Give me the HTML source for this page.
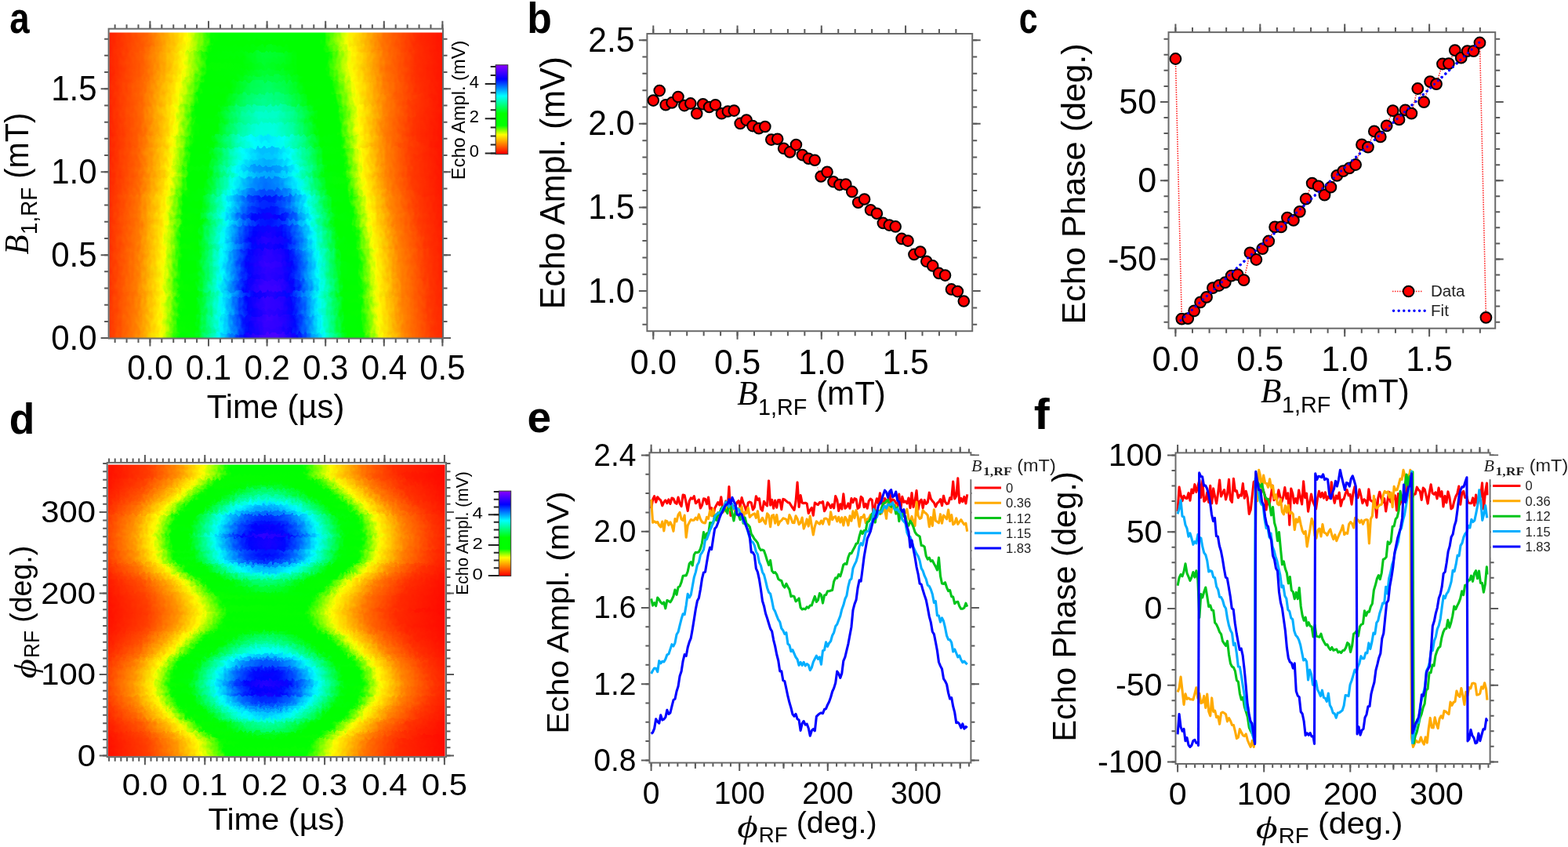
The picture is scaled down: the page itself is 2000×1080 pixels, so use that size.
<!DOCTYPE html><html><head><meta charset="utf-8"><title>Figure</title><style>html,body{margin:0;padding:0;background:#fff;overflow:hidden}svg{display:block}</style></head><body><svg width="2000" height="1080" viewBox="0 0 2000 1080"><defs><clipPath id="clA"><rect x="139.3" y="41.5" width="424.9" height="389.5"/></clipPath><filter id="jA" x="-5%" y="-5%" width="110%" height="110%" color-interpolation-filters="sRGB"><feTurbulence type="fractalNoise" baseFrequency="0.25 0.13" numOctaves="1" seed="3" result="n"/><feDisplacementMap in="SourceGraphic" in2="n" scale="11" xChannelSelector="R" yChannelSelector="G"/></filter><linearGradient id="g1" gradientUnits="userSpaceOnUse" x1="139.3" y1="0" x2="564.2" y2="0"><stop offset="-0.0017" stop-color="#ff3800"/><stop offset="0.0855" stop-color="#ff8900"/><stop offset="0.1552" stop-color="#f9ff00"/><stop offset="0.1987" stop-color="#1fff00"/><stop offset="0.2075" stop-color="#00ff00"/><stop offset="0.2597" stop-color="#00ff08"/><stop offset="0.3295" stop-color="#00faff"/><stop offset="0.3905" stop-color="#0025ff"/><stop offset="0.4079" stop-color="#0800ff"/><stop offset="0.4602" stop-color="#4700ff"/><stop offset="0.5037" stop-color="#4a00ff"/><stop offset="0.5560" stop-color="#0f00ff"/><stop offset="0.5647" stop-color="#0100ff"/><stop offset="0.6170" stop-color="#00a8ff"/><stop offset="0.6432" stop-color="#00fff6"/><stop offset="0.7129" stop-color="#00ff00"/><stop offset="0.7652" stop-color="#05ff00"/><stop offset="0.8088" stop-color="#e4ff00"/><stop offset="0.8175" stop-color="#fff900"/><stop offset="0.8872" stop-color="#ff8400"/><stop offset="0.9656" stop-color="#ff3b00"/><stop offset="1.0005" stop-color="#ff2900"/></linearGradient><linearGradient id="g2" gradientUnits="userSpaceOnUse" x1="139.3" y1="0" x2="564.2" y2="0"><stop offset="-0.0017" stop-color="#ff3600"/><stop offset="0.0855" stop-color="#ff8400"/><stop offset="0.1552" stop-color="#fff900"/><stop offset="0.1726" stop-color="#bdff00"/><stop offset="0.2075" stop-color="#08ff00"/><stop offset="0.2597" stop-color="#00ff00"/><stop offset="0.2772" stop-color="#00ff30"/><stop offset="0.3382" stop-color="#00f6ff"/><stop offset="0.3992" stop-color="#0030ff"/><stop offset="0.4166" stop-color="#0004ff"/><stop offset="0.4689" stop-color="#3200ff"/><stop offset="0.5125" stop-color="#2a00ff"/><stop offset="0.5473" stop-color="#0400ff"/><stop offset="0.5822" stop-color="#0056ff"/><stop offset="0.6345" stop-color="#00fff8"/><stop offset="0.7042" stop-color="#00ff02"/><stop offset="0.7565" stop-color="#00ff00"/><stop offset="0.7826" stop-color="#7eff00"/><stop offset="0.8088" stop-color="#f9ff00"/><stop offset="0.8872" stop-color="#ff7f00"/><stop offset="0.9743" stop-color="#ff3300"/><stop offset="1.0005" stop-color="#ff2700"/></linearGradient><linearGradient id="g3" gradientUnits="userSpaceOnUse" x1="139.3" y1="0" x2="564.2" y2="0"><stop offset="-0.0017" stop-color="#ff3600"/><stop offset="0.0767" stop-color="#ff7a00"/><stop offset="0.1465" stop-color="#ffe800"/><stop offset="0.1552" stop-color="#fffa00"/><stop offset="0.1726" stop-color="#baff00"/><stop offset="0.2075" stop-color="#05ff00"/><stop offset="0.2597" stop-color="#00ff00"/><stop offset="0.3295" stop-color="#00ffef"/><stop offset="0.3382" stop-color="#00f0ff"/><stop offset="0.3992" stop-color="#0028ff"/><stop offset="0.4166" stop-color="#0300ff"/><stop offset="0.4689" stop-color="#3700ff"/><stop offset="0.5125" stop-color="#2f00ff"/><stop offset="0.5560" stop-color="#0008ff"/><stop offset="0.6083" stop-color="#00a5ff"/><stop offset="0.6345" stop-color="#00fffb"/><stop offset="0.7042" stop-color="#00ff04"/><stop offset="0.7565" stop-color="#00ff00"/><stop offset="0.7739" stop-color="#50ff00"/><stop offset="0.8088" stop-color="#faff00"/><stop offset="0.8872" stop-color="#ff7e00"/><stop offset="0.9743" stop-color="#ff3300"/><stop offset="1.0005" stop-color="#ff2700"/></linearGradient><linearGradient id="g4" gradientUnits="userSpaceOnUse" x1="139.3" y1="0" x2="564.2" y2="0"><stop offset="-0.0017" stop-color="#ff3600"/><stop offset="0.0855" stop-color="#ff8400"/><stop offset="0.1552" stop-color="#fffa00"/><stop offset="0.1726" stop-color="#b9ff00"/><stop offset="0.2075" stop-color="#03ff00"/><stop offset="0.2597" stop-color="#00ff00"/><stop offset="0.3295" stop-color="#00fff2"/><stop offset="0.3469" stop-color="#00ccff"/><stop offset="0.4079" stop-color="#000bff"/><stop offset="0.4340" stop-color="#1e00ff"/><stop offset="0.4776" stop-color="#3e00ff"/><stop offset="0.5299" stop-color="#2200ff"/><stop offset="0.5560" stop-color="#0004ff"/><stop offset="0.6083" stop-color="#00a2ff"/><stop offset="0.6345" stop-color="#00fffd"/><stop offset="0.7042" stop-color="#00ff04"/><stop offset="0.7565" stop-color="#00ff00"/><stop offset="0.7739" stop-color="#51ff00"/><stop offset="0.8088" stop-color="#fbff00"/><stop offset="0.8785" stop-color="#ff8900"/><stop offset="0.9569" stop-color="#ff3d00"/><stop offset="1.0005" stop-color="#ff2600"/></linearGradient><linearGradient id="g5" gradientUnits="userSpaceOnUse" x1="139.3" y1="0" x2="564.2" y2="0"><stop offset="-0.0017" stop-color="#ff3500"/><stop offset="0.0855" stop-color="#ff8100"/><stop offset="0.1552" stop-color="#fff500"/><stop offset="0.1639" stop-color="#eeff00"/><stop offset="0.2075" stop-color="#13ff00"/><stop offset="0.2162" stop-color="#00ff00"/><stop offset="0.2597" stop-color="#00ff00"/><stop offset="0.2685" stop-color="#00ff0c"/><stop offset="0.3382" stop-color="#00fdff"/><stop offset="0.3992" stop-color="#0037ff"/><stop offset="0.4253" stop-color="#0500ff"/><stop offset="0.4776" stop-color="#2f00ff"/><stop offset="0.5212" stop-color="#1c00ff"/><stop offset="0.5473" stop-color="#0005ff"/><stop offset="0.5996" stop-color="#0099ff"/><stop offset="0.6258" stop-color="#00f3ff"/><stop offset="0.6519" stop-color="#00ffaf"/><stop offset="0.6955" stop-color="#00ff15"/><stop offset="0.7042" stop-color="#00ff00"/><stop offset="0.7565" stop-color="#04ff00"/><stop offset="0.8000" stop-color="#e2ff00"/><stop offset="0.8088" stop-color="#fffa00"/><stop offset="0.8785" stop-color="#ff8500"/><stop offset="0.9656" stop-color="#ff3600"/><stop offset="1.0005" stop-color="#ff2500"/></linearGradient><linearGradient id="g6" gradientUnits="userSpaceOnUse" x1="139.3" y1="0" x2="564.2" y2="0"><stop offset="-0.0017" stop-color="#ff3500"/><stop offset="0.0855" stop-color="#ff8200"/><stop offset="0.1552" stop-color="#fff700"/><stop offset="0.1639" stop-color="#e9ff00"/><stop offset="0.2075" stop-color="#0cff00"/><stop offset="0.2336" stop-color="#00ff00"/><stop offset="0.2597" stop-color="#00ff00"/><stop offset="0.2772" stop-color="#00ff31"/><stop offset="0.3295" stop-color="#00ffec"/><stop offset="0.3382" stop-color="#00f3ff"/><stop offset="0.3992" stop-color="#002aff"/><stop offset="0.4166" stop-color="#0100ff"/><stop offset="0.4689" stop-color="#3500ff"/><stop offset="0.5125" stop-color="#2c00ff"/><stop offset="0.5473" stop-color="#0400ff"/><stop offset="0.5822" stop-color="#0057ff"/><stop offset="0.6258" stop-color="#00ebff"/><stop offset="0.6345" stop-color="#00fff3"/><stop offset="0.7042" stop-color="#00ff00"/><stop offset="0.7565" stop-color="#00ff00"/><stop offset="0.8000" stop-color="#e0ff00"/><stop offset="0.8088" stop-color="#fffb00"/><stop offset="0.8785" stop-color="#ff8500"/><stop offset="0.9569" stop-color="#ff3b00"/><stop offset="1.0005" stop-color="#ff2500"/></linearGradient><linearGradient id="g7" gradientUnits="userSpaceOnUse" x1="139.3" y1="0" x2="564.2" y2="0"><stop offset="-0.0017" stop-color="#ff3400"/><stop offset="0.0855" stop-color="#ff8100"/><stop offset="0.1552" stop-color="#fff600"/><stop offset="0.1639" stop-color="#ecff00"/><stop offset="0.2075" stop-color="#0eff00"/><stop offset="0.2249" stop-color="#00ff00"/><stop offset="0.2597" stop-color="#00ff00"/><stop offset="0.2772" stop-color="#00ff30"/><stop offset="0.3295" stop-color="#00ffeb"/><stop offset="0.3382" stop-color="#00f4ff"/><stop offset="0.3992" stop-color="#002bff"/><stop offset="0.4166" stop-color="#0100ff"/><stop offset="0.4689" stop-color="#3500ff"/><stop offset="0.5125" stop-color="#2b00ff"/><stop offset="0.5473" stop-color="#0300ff"/><stop offset="0.5909" stop-color="#0075ff"/><stop offset="0.6258" stop-color="#00eeff"/><stop offset="0.6345" stop-color="#00fff0"/><stop offset="0.7042" stop-color="#00ff00"/><stop offset="0.7565" stop-color="#05ff00"/><stop offset="0.8000" stop-color="#e4ff00"/><stop offset="0.8088" stop-color="#fff900"/><stop offset="0.8785" stop-color="#ff8300"/><stop offset="0.9656" stop-color="#ff3500"/><stop offset="1.0005" stop-color="#ff2500"/></linearGradient><linearGradient id="g8" gradientUnits="userSpaceOnUse" x1="139.3" y1="0" x2="564.2" y2="0"><stop offset="-0.0017" stop-color="#ff3300"/><stop offset="0.0855" stop-color="#ff7d00"/><stop offset="0.1639" stop-color="#fcff00"/><stop offset="0.2162" stop-color="#00ff00"/><stop offset="0.2685" stop-color="#00ff01"/><stop offset="0.3382" stop-color="#00fff3"/><stop offset="0.3556" stop-color="#00cfff"/><stop offset="0.4079" stop-color="#0031ff"/><stop offset="0.4340" stop-color="#0400ff"/><stop offset="0.4863" stop-color="#2200ff"/><stop offset="0.5386" stop-color="#0008ff"/><stop offset="0.5909" stop-color="#0092ff"/><stop offset="0.6258" stop-color="#00fff7"/><stop offset="0.6955" stop-color="#00ff04"/><stop offset="0.7478" stop-color="#00ff00"/><stop offset="0.7565" stop-color="#1eff00"/><stop offset="0.8000" stop-color="#f7ff00"/><stop offset="0.8785" stop-color="#ff7f00"/><stop offset="0.9656" stop-color="#ff3300"/><stop offset="1.0005" stop-color="#ff2300"/></linearGradient><linearGradient id="g9" gradientUnits="userSpaceOnUse" x1="139.3" y1="0" x2="564.2" y2="0"><stop offset="-0.0017" stop-color="#ff3400"/><stop offset="0.0855" stop-color="#ff8200"/><stop offset="0.1552" stop-color="#fff700"/><stop offset="0.1639" stop-color="#e8ff00"/><stop offset="0.2075" stop-color="#07ff00"/><stop offset="0.2597" stop-color="#00ff00"/><stop offset="0.3295" stop-color="#00fff6"/><stop offset="0.4079" stop-color="#0004ff"/><stop offset="0.4602" stop-color="#3b00ff"/><stop offset="0.5037" stop-color="#3b00ff"/><stop offset="0.5560" stop-color="#0003ff"/><stop offset="0.6083" stop-color="#00a6ff"/><stop offset="0.6345" stop-color="#00fff8"/><stop offset="0.7042" stop-color="#00ff00"/><stop offset="0.7565" stop-color="#04ff00"/><stop offset="0.8000" stop-color="#e5ff00"/><stop offset="0.8088" stop-color="#fff900"/><stop offset="0.8785" stop-color="#ff8200"/><stop offset="0.9656" stop-color="#ff3400"/><stop offset="1.0005" stop-color="#ff2400"/></linearGradient><linearGradient id="g10" gradientUnits="userSpaceOnUse" x1="139.3" y1="0" x2="564.2" y2="0"><stop offset="-0.0017" stop-color="#ff3300"/><stop offset="0.0855" stop-color="#ff8000"/><stop offset="0.1552" stop-color="#fff500"/><stop offset="0.1639" stop-color="#edff00"/><stop offset="0.2075" stop-color="#0eff00"/><stop offset="0.2249" stop-color="#00ff00"/><stop offset="0.2597" stop-color="#00ff00"/><stop offset="0.2772" stop-color="#00ff32"/><stop offset="0.3295" stop-color="#00fff0"/><stop offset="0.3469" stop-color="#00ceff"/><stop offset="0.3992" stop-color="#0023ff"/><stop offset="0.4166" stop-color="#0600ff"/><stop offset="0.4689" stop-color="#3a00ff"/><stop offset="0.5125" stop-color="#3000ff"/><stop offset="0.5473" stop-color="#0600ff"/><stop offset="0.5735" stop-color="#003cff"/><stop offset="0.6258" stop-color="#00eeff"/><stop offset="0.6345" stop-color="#00fff0"/><stop offset="0.6955" stop-color="#00ff13"/><stop offset="0.7042" stop-color="#00ff00"/><stop offset="0.7478" stop-color="#00ff00"/><stop offset="0.7565" stop-color="#0eff00"/><stop offset="0.8000" stop-color="#edff00"/><stop offset="0.8088" stop-color="#fff500"/><stop offset="0.8785" stop-color="#ff8000"/><stop offset="0.9656" stop-color="#ff3300"/><stop offset="1.0005" stop-color="#ff2300"/></linearGradient><linearGradient id="g11" gradientUnits="userSpaceOnUse" x1="139.3" y1="0" x2="564.2" y2="0"><stop offset="-0.0017" stop-color="#ff3200"/><stop offset="0.0855" stop-color="#ff7d00"/><stop offset="0.1639" stop-color="#f9ff00"/><stop offset="0.2075" stop-color="#1eff00"/><stop offset="0.2162" stop-color="#00ff00"/><stop offset="0.2685" stop-color="#00ff08"/><stop offset="0.3382" stop-color="#00ffff"/><stop offset="0.3992" stop-color="#0038ff"/><stop offset="0.4253" stop-color="#0500ff"/><stop offset="0.4776" stop-color="#2d00ff"/><stop offset="0.5212" stop-color="#1900ff"/><stop offset="0.5386" stop-color="#0400ff"/><stop offset="0.5735" stop-color="#0052ff"/><stop offset="0.6258" stop-color="#00fffd"/><stop offset="0.6955" stop-color="#00ff06"/><stop offset="0.7478" stop-color="#00ff00"/><stop offset="0.7652" stop-color="#50ff00"/><stop offset="0.8000" stop-color="#fbff00"/><stop offset="0.8698" stop-color="#ff8800"/><stop offset="0.9482" stop-color="#ff3c00"/><stop offset="1.0005" stop-color="#ff2200"/></linearGradient><linearGradient id="g12" gradientUnits="userSpaceOnUse" x1="139.3" y1="0" x2="564.2" y2="0"><stop offset="-0.0017" stop-color="#ff3200"/><stop offset="0.0855" stop-color="#ff7d00"/><stop offset="0.1639" stop-color="#f7ff00"/><stop offset="0.2075" stop-color="#1bff00"/><stop offset="0.2162" stop-color="#00ff00"/><stop offset="0.2597" stop-color="#00ff00"/><stop offset="0.2685" stop-color="#00ff0a"/><stop offset="0.3382" stop-color="#00faff"/><stop offset="0.3992" stop-color="#0031ff"/><stop offset="0.4166" stop-color="#0005ff"/><stop offset="0.4689" stop-color="#3000ff"/><stop offset="0.5125" stop-color="#2500ff"/><stop offset="0.5473" stop-color="#0007ff"/><stop offset="0.5996" stop-color="#00a1ff"/><stop offset="0.6258" stop-color="#00feff"/><stop offset="0.6955" stop-color="#00ff07"/><stop offset="0.7478" stop-color="#00ff00"/><stop offset="0.7652" stop-color="#50ff00"/><stop offset="0.8000" stop-color="#fcff00"/><stop offset="0.8698" stop-color="#ff8700"/><stop offset="0.9569" stop-color="#ff3600"/><stop offset="1.0005" stop-color="#ff2200"/></linearGradient><linearGradient id="g13" gradientUnits="userSpaceOnUse" x1="139.3" y1="0" x2="564.2" y2="0"><stop offset="-0.0017" stop-color="#ff3200"/><stop offset="0.0855" stop-color="#ff7e00"/><stop offset="0.1552" stop-color="#fff200"/><stop offset="0.1639" stop-color="#f4ff00"/><stop offset="0.2075" stop-color="#16ff00"/><stop offset="0.2162" stop-color="#00ff00"/><stop offset="0.2597" stop-color="#00ff00"/><stop offset="0.2772" stop-color="#00ff2e"/><stop offset="0.3295" stop-color="#00ffec"/><stop offset="0.3382" stop-color="#00f2ff"/><stop offset="0.3992" stop-color="#0027ff"/><stop offset="0.4166" stop-color="#0400ff"/><stop offset="0.4689" stop-color="#3700ff"/><stop offset="0.5125" stop-color="#2c00ff"/><stop offset="0.5473" stop-color="#0200ff"/><stop offset="0.5909" stop-color="#007cff"/><stop offset="0.6258" stop-color="#00f8ff"/><stop offset="0.6955" stop-color="#00ff0a"/><stop offset="0.7303" stop-color="#00ff00"/><stop offset="0.7478" stop-color="#00ff00"/><stop offset="0.7565" stop-color="#1eff00"/><stop offset="0.8000" stop-color="#fbff00"/><stop offset="0.8698" stop-color="#ff8700"/><stop offset="0.9482" stop-color="#ff3b00"/><stop offset="1.0005" stop-color="#ff2200"/></linearGradient><linearGradient id="g14" gradientUnits="userSpaceOnUse" x1="139.3" y1="0" x2="564.2" y2="0"><stop offset="-0.0017" stop-color="#ff3100"/><stop offset="0.0855" stop-color="#ff7c00"/><stop offset="0.1552" stop-color="#ffee00"/><stop offset="0.1639" stop-color="#fcff00"/><stop offset="0.2075" stop-color="#20ff00"/><stop offset="0.2162" stop-color="#00ff00"/><stop offset="0.2685" stop-color="#00ff08"/><stop offset="0.3382" stop-color="#00fdff"/><stop offset="0.3992" stop-color="#0033ff"/><stop offset="0.4166" stop-color="#0007ff"/><stop offset="0.4689" stop-color="#2e00ff"/><stop offset="0.5125" stop-color="#2200ff"/><stop offset="0.5386" stop-color="#0500ff"/><stop offset="0.5647" stop-color="#0039ff"/><stop offset="0.6258" stop-color="#00fffa"/><stop offset="0.6955" stop-color="#00ff00"/><stop offset="0.7478" stop-color="#00ff00"/><stop offset="0.7913" stop-color="#deff00"/><stop offset="0.8000" stop-color="#fffc00"/><stop offset="0.8698" stop-color="#ff8400"/><stop offset="0.9482" stop-color="#ff3a00"/><stop offset="1.0005" stop-color="#ff2100"/></linearGradient><linearGradient id="g15" gradientUnits="userSpaceOnUse" x1="139.3" y1="0" x2="564.2" y2="0"><stop offset="-0.0017" stop-color="#ff3100"/><stop offset="0.0855" stop-color="#ff7b00"/><stop offset="0.1552" stop-color="#ffec00"/><stop offset="0.1639" stop-color="#ffff00"/><stop offset="0.2162" stop-color="#00ff00"/><stop offset="0.2685" stop-color="#00ff05"/><stop offset="0.3382" stop-color="#00fffe"/><stop offset="0.3992" stop-color="#0037ff"/><stop offset="0.4253" stop-color="#0500ff"/><stop offset="0.4776" stop-color="#2d00ff"/><stop offset="0.5212" stop-color="#1600ff"/><stop offset="0.5386" stop-color="#0100ff"/><stop offset="0.5909" stop-color="#0090ff"/><stop offset="0.6170" stop-color="#00ebff"/><stop offset="0.6258" stop-color="#00fff3"/><stop offset="0.6955" stop-color="#00ff00"/><stop offset="0.7478" stop-color="#04ff00"/><stop offset="0.7913" stop-color="#e6ff00"/><stop offset="0.8000" stop-color="#fff800"/><stop offset="0.8698" stop-color="#ff8200"/><stop offset="0.9569" stop-color="#ff3400"/><stop offset="1.0005" stop-color="#ff2000"/></linearGradient><linearGradient id="g16" gradientUnits="userSpaceOnUse" x1="139.3" y1="0" x2="564.2" y2="0"><stop offset="-0.0017" stop-color="#ff2f00"/><stop offset="0.0855" stop-color="#ff7700"/><stop offset="0.1552" stop-color="#ffe600"/><stop offset="0.1639" stop-color="#fff800"/><stop offset="0.1726" stop-color="#e6ff00"/><stop offset="0.2162" stop-color="#07ff00"/><stop offset="0.2685" stop-color="#00ff00"/><stop offset="0.2946" stop-color="#00ff51"/><stop offset="0.3469" stop-color="#00f7ff"/><stop offset="0.4079" stop-color="#003dff"/><stop offset="0.4340" stop-color="#0006ff"/><stop offset="0.4863" stop-color="#1600ff"/><stop offset="0.5212" stop-color="#0000ff"/><stop offset="0.5647" stop-color="#0060ff"/><stop offset="0.6170" stop-color="#00fff6"/><stop offset="0.6868" stop-color="#00ff04"/><stop offset="0.7390" stop-color="#00ff00"/><stop offset="0.7565" stop-color="#51ff00"/><stop offset="0.7913" stop-color="#fcff00"/><stop offset="0.8610" stop-color="#ff8700"/><stop offset="0.9482" stop-color="#ff3600"/><stop offset="1.0005" stop-color="#ff1f00"/></linearGradient><linearGradient id="g17" gradientUnits="userSpaceOnUse" x1="139.3" y1="0" x2="564.2" y2="0"><stop offset="-0.0017" stop-color="#ff3000"/><stop offset="0.0855" stop-color="#ff7900"/><stop offset="0.1552" stop-color="#ffeb00"/><stop offset="0.1639" stop-color="#fffd00"/><stop offset="0.2162" stop-color="#00ff00"/><stop offset="0.2685" stop-color="#00ff03"/><stop offset="0.3382" stop-color="#00fffb"/><stop offset="0.3992" stop-color="#003cff"/><stop offset="0.4253" stop-color="#0100ff"/><stop offset="0.4689" stop-color="#2500ff"/><stop offset="0.5125" stop-color="#1600ff"/><stop offset="0.5386" stop-color="#000cff"/><stop offset="0.5909" stop-color="#00a0ff"/><stop offset="0.6170" stop-color="#00fbff"/><stop offset="0.6868" stop-color="#00ff0b"/><stop offset="0.7129" stop-color="#00ff00"/><stop offset="0.7390" stop-color="#00ff00"/><stop offset="0.7478" stop-color="#1cff00"/><stop offset="0.7913" stop-color="#f9ff00"/><stop offset="0.8698" stop-color="#ff7c00"/><stop offset="0.9569" stop-color="#ff3100"/><stop offset="1.0005" stop-color="#ff1f00"/></linearGradient><linearGradient id="g18" gradientUnits="userSpaceOnUse" x1="139.3" y1="0" x2="564.2" y2="0"><stop offset="-0.0017" stop-color="#ff2f00"/><stop offset="0.0855" stop-color="#ff7700"/><stop offset="0.1552" stop-color="#ffe700"/><stop offset="0.1639" stop-color="#fff900"/><stop offset="0.1813" stop-color="#baff00"/><stop offset="0.2162" stop-color="#02ff00"/><stop offset="0.2685" stop-color="#00ff00"/><stop offset="0.3382" stop-color="#00ffef"/><stop offset="0.3469" stop-color="#00f1ff"/><stop offset="0.3992" stop-color="#004cff"/><stop offset="0.4340" stop-color="#0000ff"/><stop offset="0.4776" stop-color="#1a00ff"/><stop offset="0.5212" stop-color="#0000ff"/><stop offset="0.5647" stop-color="#0063ff"/><stop offset="0.6083" stop-color="#00efff"/><stop offset="0.6170" stop-color="#00fff1"/><stop offset="0.6868" stop-color="#00ff00"/><stop offset="0.7390" stop-color="#00ff00"/><stop offset="0.7826" stop-color="#e1ff00"/><stop offset="0.7913" stop-color="#fffa00"/><stop offset="0.8610" stop-color="#ff8300"/><stop offset="0.9482" stop-color="#ff3400"/><stop offset="1.0005" stop-color="#ff1e00"/></linearGradient><linearGradient id="g19" gradientUnits="userSpaceOnUse" x1="139.3" y1="0" x2="564.2" y2="0"><stop offset="-0.0017" stop-color="#ff2f00"/><stop offset="0.0855" stop-color="#ff7600"/><stop offset="0.1552" stop-color="#ffe500"/><stop offset="0.1639" stop-color="#fff700"/><stop offset="0.1726" stop-color="#e7ff00"/><stop offset="0.2162" stop-color="#07ff00"/><stop offset="0.2685" stop-color="#00ff00"/><stop offset="0.3120" stop-color="#00ff90"/><stop offset="0.3469" stop-color="#00f6ff"/><stop offset="0.3992" stop-color="#0053ff"/><stop offset="0.4340" stop-color="#0008ff"/><stop offset="0.4863" stop-color="#1200ff"/><stop offset="0.5212" stop-color="#000aff"/><stop offset="0.5647" stop-color="#006eff"/><stop offset="0.6083" stop-color="#00faff"/><stop offset="0.6780" stop-color="#00ff11"/><stop offset="0.6868" stop-color="#00ff00"/><stop offset="0.7303" stop-color="#00ff00"/><stop offset="0.7390" stop-color="#0eff00"/><stop offset="0.7826" stop-color="#edff00"/><stop offset="0.7913" stop-color="#fff500"/><stop offset="0.8610" stop-color="#ff8000"/><stop offset="0.9395" stop-color="#ff3800"/><stop offset="1.0005" stop-color="#ff1d00"/></linearGradient><linearGradient id="g20" gradientUnits="userSpaceOnUse" x1="139.3" y1="0" x2="564.2" y2="0"><stop offset="-0.0017" stop-color="#ff2d00"/><stop offset="0.0855" stop-color="#ff7200"/><stop offset="0.1552" stop-color="#ffdd00"/><stop offset="0.1726" stop-color="#fbff00"/><stop offset="0.2249" stop-color="#00ff00"/><stop offset="0.2772" stop-color="#00ff01"/><stop offset="0.3469" stop-color="#00ffeb"/><stop offset="0.3556" stop-color="#00f7ff"/><stop offset="0.4079" stop-color="#0063ff"/><stop offset="0.4515" stop-color="#001aff"/><stop offset="0.4863" stop-color="#000fff"/><stop offset="0.5299" stop-color="#0044ff"/><stop offset="0.5822" stop-color="#00c9ff"/><stop offset="0.5996" stop-color="#00fffd"/><stop offset="0.6693" stop-color="#00ff14"/><stop offset="0.6780" stop-color="#00ff00"/><stop offset="0.7303" stop-color="#02ff00"/><stop offset="0.7739" stop-color="#e1ff00"/><stop offset="0.7826" stop-color="#fffb00"/><stop offset="0.8523" stop-color="#ff8400"/><stop offset="0.9308" stop-color="#ff3a00"/><stop offset="1.0005" stop-color="#ff1b00"/></linearGradient><linearGradient id="g21" gradientUnits="userSpaceOnUse" x1="139.3" y1="0" x2="564.2" y2="0"><stop offset="-0.0017" stop-color="#ff2e00"/><stop offset="0.0855" stop-color="#ff7600"/><stop offset="0.1552" stop-color="#ffe500"/><stop offset="0.1639" stop-color="#fff800"/><stop offset="0.1726" stop-color="#e7ff00"/><stop offset="0.2162" stop-color="#05ff00"/><stop offset="0.2685" stop-color="#00ff00"/><stop offset="0.3382" stop-color="#00ffed"/><stop offset="0.3469" stop-color="#00f3ff"/><stop offset="0.3992" stop-color="#0050ff"/><stop offset="0.4340" stop-color="#0006ff"/><stop offset="0.4863" stop-color="#1100ff"/><stop offset="0.5125" stop-color="#0000ff"/><stop offset="0.5560" stop-color="#005dff"/><stop offset="0.6083" stop-color="#00fffb"/><stop offset="0.6780" stop-color="#00ff07"/><stop offset="0.7303" stop-color="#00ff00"/><stop offset="0.7390" stop-color="#20ff00"/><stop offset="0.7826" stop-color="#fcff00"/><stop offset="0.8523" stop-color="#ff8600"/><stop offset="0.9308" stop-color="#ff3b00"/><stop offset="1.0005" stop-color="#ff1b00"/></linearGradient><linearGradient id="g22" gradientUnits="userSpaceOnUse" x1="139.3" y1="0" x2="564.2" y2="0"><stop offset="-0.0017" stop-color="#ff2d00"/><stop offset="0.0855" stop-color="#ff7200"/><stop offset="0.1552" stop-color="#ffde00"/><stop offset="0.1726" stop-color="#f8ff00"/><stop offset="0.2162" stop-color="#1dff00"/><stop offset="0.2249" stop-color="#00ff00"/><stop offset="0.2772" stop-color="#00ff05"/><stop offset="0.3469" stop-color="#00fff1"/><stop offset="0.3643" stop-color="#00d4ff"/><stop offset="0.4166" stop-color="#0048ff"/><stop offset="0.4602" stop-color="#000dff"/><stop offset="0.4950" stop-color="#0011ff"/><stop offset="0.5386" stop-color="#0056ff"/><stop offset="0.5996" stop-color="#00fff9"/><stop offset="0.6693" stop-color="#00ff0d"/><stop offset="0.6868" stop-color="#00ff00"/><stop offset="0.7216" stop-color="#00ff00"/><stop offset="0.7303" stop-color="#10ff00"/><stop offset="0.7739" stop-color="#edff00"/><stop offset="0.7826" stop-color="#fff500"/><stop offset="0.8523" stop-color="#ff8000"/><stop offset="0.9308" stop-color="#ff3800"/><stop offset="1.0005" stop-color="#ff1a00"/></linearGradient><linearGradient id="g23" gradientUnits="userSpaceOnUse" x1="139.3" y1="0" x2="564.2" y2="0"><stop offset="-0.0017" stop-color="#ff2c00"/><stop offset="0.0855" stop-color="#ff7000"/><stop offset="0.1552" stop-color="#ffda00"/><stop offset="0.1726" stop-color="#fffd00"/><stop offset="0.2249" stop-color="#00ff00"/><stop offset="0.2772" stop-color="#00ff00"/><stop offset="0.3556" stop-color="#00fffe"/><stop offset="0.4079" stop-color="#006fff"/><stop offset="0.4515" stop-color="#002aff"/><stop offset="0.4863" stop-color="#0023ff"/><stop offset="0.5299" stop-color="#005bff"/><stop offset="0.5822" stop-color="#00e2ff"/><stop offset="0.5909" stop-color="#00feff"/><stop offset="0.6693" stop-color="#00ff00"/><stop offset="0.7216" stop-color="#00ff00"/><stop offset="0.7739" stop-color="#feff00"/><stop offset="0.8436" stop-color="#ff8600"/><stop offset="0.9220" stop-color="#ff3b00"/><stop offset="1.0005" stop-color="#ff1900"/></linearGradient><linearGradient id="g24" gradientUnits="userSpaceOnUse" x1="139.3" y1="0" x2="564.2" y2="0"><stop offset="-0.0017" stop-color="#ff2c00"/><stop offset="0.0855" stop-color="#ff7100"/><stop offset="0.1552" stop-color="#ffdd00"/><stop offset="0.1726" stop-color="#f9ff00"/><stop offset="0.2162" stop-color="#1dff00"/><stop offset="0.2249" stop-color="#00ff00"/><stop offset="0.2772" stop-color="#00ff06"/><stop offset="0.3469" stop-color="#00fff2"/><stop offset="0.3643" stop-color="#00d4ff"/><stop offset="0.4166" stop-color="#004aff"/><stop offset="0.4602" stop-color="#0011ff"/><stop offset="0.4950" stop-color="#0017ff"/><stop offset="0.5386" stop-color="#005cff"/><stop offset="0.5909" stop-color="#00efff"/><stop offset="0.5996" stop-color="#00fff3"/><stop offset="0.6693" stop-color="#00ff07"/><stop offset="0.7216" stop-color="#00ff00"/><stop offset="0.7303" stop-color="#1cff00"/><stop offset="0.7739" stop-color="#f8ff00"/><stop offset="0.8436" stop-color="#ff8700"/><stop offset="0.9220" stop-color="#ff3b00"/><stop offset="1.0005" stop-color="#ff1900"/></linearGradient><linearGradient id="g25" gradientUnits="userSpaceOnUse" x1="139.3" y1="0" x2="564.2" y2="0"><stop offset="-0.0017" stop-color="#ff2a00"/><stop offset="0.0855" stop-color="#ff6b00"/><stop offset="0.1552" stop-color="#ffd300"/><stop offset="0.1726" stop-color="#fff600"/><stop offset="0.1813" stop-color="#ecff00"/><stop offset="0.2249" stop-color="#10ff00"/><stop offset="0.2423" stop-color="#00ff00"/><stop offset="0.2859" stop-color="#00ff08"/><stop offset="0.3643" stop-color="#00feff"/><stop offset="0.4166" stop-color="#007cff"/><stop offset="0.4602" stop-color="#0047ff"/><stop offset="0.4950" stop-color="#004dff"/><stop offset="0.5386" stop-color="#008eff"/><stop offset="0.5822" stop-color="#00ffff"/><stop offset="0.6606" stop-color="#00ff07"/><stop offset="0.7129" stop-color="#00ff00"/><stop offset="0.7216" stop-color="#13ff00"/><stop offset="0.7652" stop-color="#eeff00"/><stop offset="0.7739" stop-color="#fff500"/><stop offset="0.8436" stop-color="#ff8000"/><stop offset="0.9308" stop-color="#ff3200"/><stop offset="1.0005" stop-color="#ff1700"/></linearGradient><linearGradient id="g26" gradientUnits="userSpaceOnUse" x1="139.3" y1="0" x2="564.2" y2="0"><stop offset="-0.0017" stop-color="#ff2800"/><stop offset="0.0855" stop-color="#ff6700"/><stop offset="0.1552" stop-color="#ffcb00"/><stop offset="0.1813" stop-color="#fffe00"/><stop offset="0.2336" stop-color="#00ff00"/><stop offset="0.2859" stop-color="#00ff00"/><stop offset="0.3033" stop-color="#00ff2a"/><stop offset="0.3730" stop-color="#00fff8"/><stop offset="0.4253" stop-color="#0094ff"/><stop offset="0.4689" stop-color="#006eff"/><stop offset="0.5125" stop-color="#0089ff"/><stop offset="0.5647" stop-color="#00f2ff"/><stop offset="0.5822" stop-color="#00ffde"/><stop offset="0.6519" stop-color="#00ff0b"/><stop offset="0.6780" stop-color="#00ff00"/><stop offset="0.7129" stop-color="#03ff00"/><stop offset="0.7565" stop-color="#dfff00"/><stop offset="0.7652" stop-color="#fffc00"/><stop offset="0.8349" stop-color="#ff8500"/><stop offset="0.9133" stop-color="#ff3a00"/><stop offset="1.0005" stop-color="#ff1600"/></linearGradient><linearGradient id="g27" gradientUnits="userSpaceOnUse" x1="139.3" y1="0" x2="564.2" y2="0"><stop offset="-0.0017" stop-color="#ff2700"/><stop offset="0.0855" stop-color="#ff6600"/><stop offset="0.1552" stop-color="#ffca00"/><stop offset="0.1813" stop-color="#fffd00"/><stop offset="0.2249" stop-color="#2eff00"/><stop offset="0.2336" stop-color="#00ff00"/><stop offset="0.2859" stop-color="#00ff00"/><stop offset="0.3033" stop-color="#00ff29"/><stop offset="0.3730" stop-color="#00fff6"/><stop offset="0.4340" stop-color="#008cff"/><stop offset="0.4689" stop-color="#0073ff"/><stop offset="0.5125" stop-color="#008eff"/><stop offset="0.5647" stop-color="#00f6ff"/><stop offset="0.5909" stop-color="#00ffc3"/><stop offset="0.6519" stop-color="#00ff08"/><stop offset="0.7129" stop-color="#08ff00"/><stop offset="0.7565" stop-color="#e3ff00"/><stop offset="0.7652" stop-color="#fffa00"/><stop offset="0.8349" stop-color="#ff8300"/><stop offset="0.9133" stop-color="#ff3900"/><stop offset="1.0005" stop-color="#ff1600"/></linearGradient><linearGradient id="g28" gradientUnits="userSpaceOnUse" x1="139.3" y1="0" x2="564.2" y2="0"><stop offset="-0.0017" stop-color="#ff2500"/><stop offset="0.0855" stop-color="#ff6100"/><stop offset="0.1552" stop-color="#ffc000"/><stop offset="0.1900" stop-color="#f5ff00"/><stop offset="0.2423" stop-color="#00ff00"/><stop offset="0.2946" stop-color="#00ff00"/><stop offset="0.3207" stop-color="#00ff42"/><stop offset="0.3905" stop-color="#00fff9"/><stop offset="0.4427" stop-color="#00b1ff"/><stop offset="0.4863" stop-color="#00a6ff"/><stop offset="0.5299" stop-color="#00d7ff"/><stop offset="0.5560" stop-color="#00fff4"/><stop offset="0.6345" stop-color="#00ff21"/><stop offset="0.6432" stop-color="#00ff07"/><stop offset="0.7042" stop-color="#00ff00"/><stop offset="0.7565" stop-color="#ffff00"/><stop offset="0.8262" stop-color="#ff8700"/><stop offset="0.9046" stop-color="#ff3b00"/><stop offset="1.0005" stop-color="#ff1500"/></linearGradient><linearGradient id="g29" gradientUnits="userSpaceOnUse" x1="139.3" y1="0" x2="564.2" y2="0"><stop offset="-0.0017" stop-color="#ff2600"/><stop offset="0.0855" stop-color="#ff6400"/><stop offset="0.1552" stop-color="#ffc700"/><stop offset="0.1813" stop-color="#fffb00"/><stop offset="0.2075" stop-color="#8eff00"/><stop offset="0.2336" stop-color="#06ff00"/><stop offset="0.2946" stop-color="#00ff08"/><stop offset="0.3730" stop-color="#00ffec"/><stop offset="0.3817" stop-color="#00fdff"/><stop offset="0.4340" stop-color="#009bff"/><stop offset="0.4776" stop-color="#0084ff"/><stop offset="0.5212" stop-color="#00aaff"/><stop offset="0.5647" stop-color="#00fffb"/><stop offset="0.6432" stop-color="#00ff1b"/><stop offset="0.6519" stop-color="#00ff00"/><stop offset="0.7042" stop-color="#00ff00"/><stop offset="0.7129" stop-color="#13ff00"/><stop offset="0.7565" stop-color="#ecff00"/><stop offset="0.7652" stop-color="#fff600"/><stop offset="0.8349" stop-color="#ff8000"/><stop offset="0.9133" stop-color="#ff3700"/><stop offset="1.0005" stop-color="#ff1500"/></linearGradient><linearGradient id="g30" gradientUnits="userSpaceOnUse" x1="139.3" y1="0" x2="564.2" y2="0"><stop offset="-0.0017" stop-color="#ff2500"/><stop offset="0.0855" stop-color="#ff6100"/><stop offset="0.1552" stop-color="#ffc100"/><stop offset="0.1813" stop-color="#fff300"/><stop offset="0.1900" stop-color="#f3ff00"/><stop offset="0.2336" stop-color="#20ff00"/><stop offset="0.2423" stop-color="#00ff00"/><stop offset="0.2946" stop-color="#00ff00"/><stop offset="0.3207" stop-color="#00ff41"/><stop offset="0.3905" stop-color="#00fff5"/><stop offset="0.4340" stop-color="#00c1ff"/><stop offset="0.4776" stop-color="#00abff"/><stop offset="0.5212" stop-color="#00cfff"/><stop offset="0.5473" stop-color="#00fdff"/><stop offset="0.5996" stop-color="#00ff84"/><stop offset="0.6432" stop-color="#00ff06"/><stop offset="0.7042" stop-color="#00ff00"/><stop offset="0.7565" stop-color="#feff00"/><stop offset="0.8262" stop-color="#ff8700"/><stop offset="0.9046" stop-color="#ff3b00"/><stop offset="1.0005" stop-color="#ff1400"/></linearGradient><linearGradient id="g31" gradientUnits="userSpaceOnUse" x1="139.3" y1="0" x2="564.2" y2="0"><stop offset="-0.0017" stop-color="#ff2400"/><stop offset="0.0855" stop-color="#ff6000"/><stop offset="0.1639" stop-color="#ffcd00"/><stop offset="0.1900" stop-color="#fcff00"/><stop offset="0.2423" stop-color="#00ff00"/><stop offset="0.3033" stop-color="#00ff03"/><stop offset="0.3817" stop-color="#00ffd1"/><stop offset="0.4079" stop-color="#00fbff"/><stop offset="0.4515" stop-color="#00c7ff"/><stop offset="0.4950" stop-color="#00c8ff"/><stop offset="0.5386" stop-color="#00ffff"/><stop offset="0.5996" stop-color="#00ff76"/><stop offset="0.6432" stop-color="#00ff00"/><stop offset="0.6955" stop-color="#00ff00"/><stop offset="0.7042" stop-color="#0cff00"/><stop offset="0.7478" stop-color="#e0ff00"/><stop offset="0.7565" stop-color="#fffb00"/><stop offset="0.8262" stop-color="#ff8500"/><stop offset="0.9133" stop-color="#ff3400"/><stop offset="1.0005" stop-color="#ff1400"/></linearGradient><linearGradient id="g32" gradientUnits="userSpaceOnUse" x1="139.3" y1="0" x2="564.2" y2="0"><stop offset="-0.0017" stop-color="#ff2500"/><stop offset="0.0855" stop-color="#ff6100"/><stop offset="0.1639" stop-color="#ffd000"/><stop offset="0.1900" stop-color="#f4ff00"/><stop offset="0.2423" stop-color="#00ff00"/><stop offset="0.2946" stop-color="#00ff00"/><stop offset="0.3120" stop-color="#00ff23"/><stop offset="0.3817" stop-color="#00ffd9"/><stop offset="0.3992" stop-color="#00fffc"/><stop offset="0.4515" stop-color="#00bfff"/><stop offset="0.4950" stop-color="#00c0ff"/><stop offset="0.5473" stop-color="#00fff7"/><stop offset="0.6083" stop-color="#00ff66"/><stop offset="0.6432" stop-color="#00ff03"/><stop offset="0.7042" stop-color="#02ff00"/><stop offset="0.7565" stop-color="#ffff00"/><stop offset="0.8262" stop-color="#ff8700"/><stop offset="0.9046" stop-color="#ff3b00"/><stop offset="1.0005" stop-color="#ff1400"/></linearGradient><linearGradient id="g33" gradientUnits="userSpaceOnUse" x1="139.3" y1="0" x2="564.2" y2="0"><stop offset="-0.0017" stop-color="#ff2300"/><stop offset="0.0855" stop-color="#ff5c00"/><stop offset="0.1639" stop-color="#ffc600"/><stop offset="0.1900" stop-color="#fff700"/><stop offset="0.1987" stop-color="#eaff00"/><stop offset="0.2423" stop-color="#1eff00"/><stop offset="0.2510" stop-color="#00ff00"/><stop offset="0.3120" stop-color="#00ff02"/><stop offset="0.3817" stop-color="#00ffad"/><stop offset="0.4340" stop-color="#00fffc"/><stop offset="0.4863" stop-color="#00f2ff"/><stop offset="0.5212" stop-color="#00fff0"/><stop offset="0.5735" stop-color="#00ff95"/><stop offset="0.6345" stop-color="#00ff00"/><stop offset="0.6955" stop-color="#00ff00"/><stop offset="0.7478" stop-color="#f5ff00"/><stop offset="0.7913" stop-color="#ffb300"/><stop offset="0.8698" stop-color="#ff5200"/><stop offset="0.9743" stop-color="#ff1a00"/><stop offset="1.0005" stop-color="#ff1400"/></linearGradient><linearGradient id="g34" gradientUnits="userSpaceOnUse" x1="139.3" y1="0" x2="564.2" y2="0"><stop offset="-0.0017" stop-color="#ff2400"/><stop offset="0.0855" stop-color="#ff5e00"/><stop offset="0.1639" stop-color="#ffca00"/><stop offset="0.1900" stop-color="#fffc00"/><stop offset="0.2336" stop-color="#3cff00"/><stop offset="0.2423" stop-color="#10ff00"/><stop offset="0.2597" stop-color="#00ff00"/><stop offset="0.3033" stop-color="#00ff00"/><stop offset="0.3295" stop-color="#00ff3b"/><stop offset="0.3905" stop-color="#00ffc9"/><stop offset="0.4253" stop-color="#00fffe"/><stop offset="0.4689" stop-color="#00e3ff"/><stop offset="0.5212" stop-color="#00fffb"/><stop offset="0.5735" stop-color="#00ffa0"/><stop offset="0.6345" stop-color="#00ff05"/><stop offset="0.6955" stop-color="#00ff00"/><stop offset="0.7129" stop-color="#48ff00"/><stop offset="0.7478" stop-color="#ebff00"/><stop offset="0.7565" stop-color="#fff700"/><stop offset="0.8349" stop-color="#ff7800"/><stop offset="0.9220" stop-color="#ff2f00"/><stop offset="1.0005" stop-color="#ff1400"/></linearGradient><linearGradient id="g35" gradientUnits="userSpaceOnUse" x1="139.3" y1="0" x2="564.2" y2="0"><stop offset="-0.0017" stop-color="#ff2200"/><stop offset="0.0942" stop-color="#ff6200"/><stop offset="0.1726" stop-color="#ffcf00"/><stop offset="0.1987" stop-color="#fcff00"/><stop offset="0.2510" stop-color="#0dff00"/><stop offset="0.2685" stop-color="#00ff00"/><stop offset="0.3207" stop-color="#00ff03"/><stop offset="0.3905" stop-color="#00ff9e"/><stop offset="0.4427" stop-color="#00ffde"/><stop offset="0.4950" stop-color="#00ffe2"/><stop offset="0.5473" stop-color="#00ffa8"/><stop offset="0.6258" stop-color="#00ff00"/><stop offset="0.6868" stop-color="#00ff00"/><stop offset="0.6955" stop-color="#19ff00"/><stop offset="0.7390" stop-color="#e2ff00"/><stop offset="0.7478" stop-color="#fffc00"/><stop offset="0.8262" stop-color="#ff7d00"/><stop offset="0.9133" stop-color="#ff3100"/><stop offset="1.0005" stop-color="#ff1300"/></linearGradient><linearGradient id="g36" gradientUnits="userSpaceOnUse" x1="139.3" y1="0" x2="564.2" y2="0"><stop offset="-0.0017" stop-color="#ff2300"/><stop offset="0.0942" stop-color="#ff6400"/><stop offset="0.1726" stop-color="#ffd100"/><stop offset="0.1987" stop-color="#f8ff00"/><stop offset="0.2510" stop-color="#0bff00"/><stop offset="0.2772" stop-color="#00ff00"/><stop offset="0.3207" stop-color="#00ff02"/><stop offset="0.3905" stop-color="#00ff9a"/><stop offset="0.4427" stop-color="#00ffda"/><stop offset="0.4950" stop-color="#00ffde"/><stop offset="0.5473" stop-color="#00ffa5"/><stop offset="0.6083" stop-color="#00ff28"/><stop offset="0.6258" stop-color="#00ff00"/><stop offset="0.6868" stop-color="#00ff00"/><stop offset="0.6955" stop-color="#14ff00"/><stop offset="0.7478" stop-color="#ffff00"/><stop offset="0.8262" stop-color="#ff7f00"/><stop offset="0.9133" stop-color="#ff3300"/><stop offset="1.0005" stop-color="#ff1400"/></linearGradient><linearGradient id="g37" gradientUnits="userSpaceOnUse" x1="139.3" y1="0" x2="564.2" y2="0"><stop offset="-0.0017" stop-color="#ff2300"/><stop offset="0.0942" stop-color="#ff6300"/><stop offset="0.1726" stop-color="#ffcd00"/><stop offset="0.1987" stop-color="#fffd00"/><stop offset="0.2597" stop-color="#00ff00"/><stop offset="0.3295" stop-color="#00ff04"/><stop offset="0.3992" stop-color="#00ff8f"/><stop offset="0.4515" stop-color="#00ffc3"/><stop offset="0.5037" stop-color="#00ffbd"/><stop offset="0.5560" stop-color="#00ff7f"/><stop offset="0.6170" stop-color="#00ff01"/><stop offset="0.6868" stop-color="#00ff00"/><stop offset="0.7390" stop-color="#e6ff00"/><stop offset="0.7478" stop-color="#fffa00"/><stop offset="0.8262" stop-color="#ff7e00"/><stop offset="0.9133" stop-color="#ff3300"/><stop offset="1.0005" stop-color="#ff1400"/></linearGradient><linearGradient id="g38" gradientUnits="userSpaceOnUse" x1="139.3" y1="0" x2="564.2" y2="0"><stop offset="-0.0017" stop-color="#ff2500"/><stop offset="0.0942" stop-color="#ff6600"/><stop offset="0.1726" stop-color="#ffd200"/><stop offset="0.1987" stop-color="#f8ff00"/><stop offset="0.2510" stop-color="#11ff00"/><stop offset="0.2597" stop-color="#00ff00"/><stop offset="0.3207" stop-color="#00ff00"/><stop offset="0.3992" stop-color="#00ff97"/><stop offset="0.4515" stop-color="#00ffcb"/><stop offset="0.5037" stop-color="#00ffc6"/><stop offset="0.5560" stop-color="#00ff88"/><stop offset="0.6258" stop-color="#00ff00"/><stop offset="0.6868" stop-color="#00ff00"/><stop offset="0.6955" stop-color="#16ff00"/><stop offset="0.7478" stop-color="#fbff00"/><stop offset="0.8349" stop-color="#ff7900"/><stop offset="0.9220" stop-color="#ff3100"/><stop offset="1.0005" stop-color="#ff1500"/></linearGradient><linearGradient id="g39" gradientUnits="userSpaceOnUse" x1="139.3" y1="0" x2="564.2" y2="0"><stop offset="-0.0017" stop-color="#ff2500"/><stop offset="0.0942" stop-color="#ff6600"/><stop offset="0.1813" stop-color="#ffdf00"/><stop offset="0.1987" stop-color="#feff00"/><stop offset="0.2597" stop-color="#00ff00"/><stop offset="0.3295" stop-color="#00ff00"/><stop offset="0.3992" stop-color="#00ff86"/><stop offset="0.4515" stop-color="#00ffb8"/><stop offset="0.5037" stop-color="#00ffb3"/><stop offset="0.5560" stop-color="#00ff78"/><stop offset="0.6170" stop-color="#00ff00"/><stop offset="0.6868" stop-color="#00ff00"/><stop offset="0.7478" stop-color="#ffff00"/><stop offset="0.8262" stop-color="#ff8300"/><stop offset="0.9133" stop-color="#ff3600"/><stop offset="1.0005" stop-color="#ff1600"/></linearGradient><linearGradient id="g40" gradientUnits="userSpaceOnUse" x1="139.3" y1="0" x2="564.2" y2="0"><stop offset="-0.0017" stop-color="#ff2500"/><stop offset="0.0942" stop-color="#ff6300"/><stop offset="0.1813" stop-color="#ffd500"/><stop offset="0.2075" stop-color="#f6ff00"/><stop offset="0.2685" stop-color="#00ff00"/><stop offset="0.3469" stop-color="#00ff03"/><stop offset="0.4079" stop-color="#00ff67"/><stop offset="0.4602" stop-color="#00ff8e"/><stop offset="0.5125" stop-color="#00ff81"/><stop offset="0.5735" stop-color="#00ff34"/><stop offset="0.5996" stop-color="#00ff04"/><stop offset="0.6780" stop-color="#00ff00"/><stop offset="0.7390" stop-color="#f6ff00"/><stop offset="0.8088" stop-color="#ff9500"/><stop offset="0.8959" stop-color="#ff4000"/><stop offset="1.0005" stop-color="#ff1500"/></linearGradient><linearGradient id="g41" gradientUnits="userSpaceOnUse" x1="139.3" y1="0" x2="564.2" y2="0"><stop offset="-0.0017" stop-color="#ff2500"/><stop offset="0.0942" stop-color="#ff6400"/><stop offset="0.1813" stop-color="#ffd500"/><stop offset="0.2075" stop-color="#f8ff00"/><stop offset="0.2685" stop-color="#00ff00"/><stop offset="0.3469" stop-color="#00ff00"/><stop offset="0.4166" stop-color="#00ff68"/><stop offset="0.4689" stop-color="#00ff86"/><stop offset="0.5212" stop-color="#00ff71"/><stop offset="0.5822" stop-color="#00ff1e"/><stop offset="0.5996" stop-color="#00ff00"/><stop offset="0.6780" stop-color="#00ff00"/><stop offset="0.7390" stop-color="#f5ff00"/><stop offset="0.7739" stop-color="#ffc800"/><stop offset="0.8610" stop-color="#ff5c00"/><stop offset="0.9656" stop-color="#ff1f00"/><stop offset="1.0005" stop-color="#ff1600"/></linearGradient><linearGradient id="g42" gradientUnits="userSpaceOnUse" x1="139.3" y1="0" x2="564.2" y2="0"><stop offset="-0.0017" stop-color="#ff2500"/><stop offset="0.0942" stop-color="#ff6100"/><stop offset="0.1813" stop-color="#ffce00"/><stop offset="0.2075" stop-color="#fffa00"/><stop offset="0.2249" stop-color="#caff00"/><stop offset="0.2772" stop-color="#00ff00"/><stop offset="0.3643" stop-color="#00ff04"/><stop offset="0.4253" stop-color="#00ff53"/><stop offset="0.4776" stop-color="#00ff68"/><stop offset="0.5299" stop-color="#00ff4c"/><stop offset="0.5909" stop-color="#00ff00"/><stop offset="0.6693" stop-color="#00ff00"/><stop offset="0.6955" stop-color="#5fff00"/><stop offset="0.7390" stop-color="#fffc00"/><stop offset="0.8262" stop-color="#ff7d00"/><stop offset="0.9220" stop-color="#ff3100"/><stop offset="1.0005" stop-color="#ff1600"/></linearGradient><linearGradient id="g43" gradientUnits="userSpaceOnUse" x1="139.3" y1="0" x2="564.2" y2="0"><stop offset="-0.0017" stop-color="#ff2500"/><stop offset="0.1029" stop-color="#ff6900"/><stop offset="0.1900" stop-color="#ffda00"/><stop offset="0.2075" stop-color="#fff800"/><stop offset="0.2162" stop-color="#efff00"/><stop offset="0.2772" stop-color="#00ff00"/><stop offset="0.3643" stop-color="#00ff00"/><stop offset="0.4253" stop-color="#00ff4e"/><stop offset="0.4776" stop-color="#00ff63"/><stop offset="0.5386" stop-color="#00ff3f"/><stop offset="0.5822" stop-color="#00ff02"/><stop offset="0.6693" stop-color="#00ff00"/><stop offset="0.7303" stop-color="#e9ff00"/><stop offset="0.7390" stop-color="#fffa00"/><stop offset="0.8262" stop-color="#ff7d00"/><stop offset="0.9220" stop-color="#ff3100"/><stop offset="1.0005" stop-color="#ff1600"/></linearGradient><linearGradient id="g44" gradientUnits="userSpaceOnUse" x1="139.3" y1="0" x2="564.2" y2="0"><stop offset="-0.0017" stop-color="#ff2300"/><stop offset="0.1029" stop-color="#ff6500"/><stop offset="0.1900" stop-color="#ffd200"/><stop offset="0.2162" stop-color="#fffd00"/><stop offset="0.2859" stop-color="#00ff00"/><stop offset="0.3817" stop-color="#00ff04"/><stop offset="0.4427" stop-color="#00ff42"/><stop offset="0.5037" stop-color="#00ff43"/><stop offset="0.5822" stop-color="#00ff00"/><stop offset="0.6606" stop-color="#00ff00"/><stop offset="0.6868" stop-color="#5aff00"/><stop offset="0.7303" stop-color="#fdff00"/><stop offset="0.8262" stop-color="#ff7800"/><stop offset="0.9220" stop-color="#ff2f00"/><stop offset="1.0005" stop-color="#ff1500"/></linearGradient><linearGradient id="g45" gradientUnits="userSpaceOnUse" x1="139.3" y1="0" x2="564.2" y2="0"><stop offset="-0.0017" stop-color="#ff2200"/><stop offset="0.1029" stop-color="#ff6200"/><stop offset="0.1900" stop-color="#ffcb00"/><stop offset="0.2249" stop-color="#f6ff00"/><stop offset="0.2859" stop-color="#15ff00"/><stop offset="0.2946" stop-color="#00ff00"/><stop offset="0.3992" stop-color="#00ff07"/><stop offset="0.4602" stop-color="#00ff33"/><stop offset="0.5212" stop-color="#00ff23"/><stop offset="0.5647" stop-color="#00ff00"/><stop offset="0.6519" stop-color="#00ff00"/><stop offset="0.6606" stop-color="#0cff00"/><stop offset="0.7216" stop-color="#efff00"/><stop offset="0.7303" stop-color="#fff800"/><stop offset="0.8262" stop-color="#ff7500"/><stop offset="0.9220" stop-color="#ff2e00"/><stop offset="1.0005" stop-color="#ff1500"/></linearGradient><linearGradient id="g46" gradientUnits="userSpaceOnUse" x1="139.3" y1="0" x2="564.2" y2="0"><stop offset="-0.0017" stop-color="#ff2200"/><stop offset="0.1029" stop-color="#ff6000"/><stop offset="0.1900" stop-color="#ffc700"/><stop offset="0.2249" stop-color="#fffe00"/><stop offset="0.2946" stop-color="#05ff00"/><stop offset="0.4079" stop-color="#00ff05"/><stop offset="0.4689" stop-color="#00ff28"/><stop offset="0.5299" stop-color="#00ff10"/><stop offset="0.5647" stop-color="#00ff00"/><stop offset="0.6519" stop-color="#00ff00"/><stop offset="0.7216" stop-color="#f9ff00"/><stop offset="0.8262" stop-color="#ff7300"/><stop offset="0.9220" stop-color="#ff2d00"/><stop offset="1.0005" stop-color="#ff1500"/></linearGradient><linearGradient id="g47" gradientUnits="userSpaceOnUse" x1="139.3" y1="0" x2="564.2" y2="0"><stop offset="-0.0017" stop-color="#ff2200"/><stop offset="0.1029" stop-color="#ff6100"/><stop offset="0.1900" stop-color="#ffc900"/><stop offset="0.2249" stop-color="#fcff00"/><stop offset="0.2946" stop-color="#00ff00"/><stop offset="0.3992" stop-color="#00ff03"/><stop offset="0.4602" stop-color="#00ff2f"/><stop offset="0.5212" stop-color="#00ff1f"/><stop offset="0.5647" stop-color="#00ff00"/><stop offset="0.6519" stop-color="#00ff00"/><stop offset="0.6693" stop-color="#31ff00"/><stop offset="0.7216" stop-color="#f1ff00"/><stop offset="0.7390" stop-color="#ffe900"/><stop offset="0.8262" stop-color="#ff7500"/><stop offset="0.9220" stop-color="#ff2e00"/><stop offset="1.0005" stop-color="#ff1500"/></linearGradient><linearGradient id="g48" gradientUnits="userSpaceOnUse" x1="139.3" y1="0" x2="564.2" y2="0"><stop offset="-0.0017" stop-color="#ff2200"/><stop offset="0.1029" stop-color="#ff6100"/><stop offset="0.1900" stop-color="#ffca00"/><stop offset="0.2249" stop-color="#f8ff00"/><stop offset="0.2859" stop-color="#17ff00"/><stop offset="0.2946" stop-color="#00ff00"/><stop offset="0.3992" stop-color="#00ff07"/><stop offset="0.4602" stop-color="#00ff33"/><stop offset="0.5125" stop-color="#00ff29"/><stop offset="0.5647" stop-color="#00ff00"/><stop offset="0.6519" stop-color="#00ff00"/><stop offset="0.6606" stop-color="#0aff00"/><stop offset="0.7216" stop-color="#edff00"/><stop offset="0.7303" stop-color="#fff900"/><stop offset="0.8262" stop-color="#ff7600"/><stop offset="0.9220" stop-color="#ff2e00"/><stop offset="1.0005" stop-color="#ff1500"/></linearGradient><linearGradient id="g49" gradientUnits="userSpaceOnUse" x1="139.3" y1="0" x2="564.2" y2="0"><stop offset="-0.0017" stop-color="#ff2100"/><stop offset="0.1029" stop-color="#ff5d00"/><stop offset="0.1987" stop-color="#ffcd00"/><stop offset="0.2336" stop-color="#f5ff00"/><stop offset="0.3033" stop-color="#00ff00"/><stop offset="0.4253" stop-color="#00ff04"/><stop offset="0.4863" stop-color="#00ff16"/><stop offset="0.5473" stop-color="#00ff00"/><stop offset="0.6432" stop-color="#00ff00"/><stop offset="0.6606" stop-color="#2eff00"/><stop offset="0.7216" stop-color="#fffc00"/><stop offset="0.8175" stop-color="#ff7900"/><stop offset="0.9133" stop-color="#ff3100"/><stop offset="1.0005" stop-color="#ff1400"/></linearGradient><linearGradient id="g50" gradientUnits="userSpaceOnUse" x1="139.3" y1="0" x2="564.2" y2="0"><stop offset="-0.0017" stop-color="#ff2000"/><stop offset="0.1116" stop-color="#ff6100"/><stop offset="0.2075" stop-color="#ffd300"/><stop offset="0.2336" stop-color="#fffb00"/><stop offset="0.3120" stop-color="#00ff00"/><stop offset="0.6345" stop-color="#00ff00"/><stop offset="0.6432" stop-color="#09ff00"/><stop offset="0.7129" stop-color="#f9ff00"/><stop offset="0.8175" stop-color="#ff7600"/><stop offset="0.9220" stop-color="#ff2b00"/><stop offset="1.0005" stop-color="#ff1400"/></linearGradient><linearGradient id="g51" gradientUnits="userSpaceOnUse" x1="139.3" y1="0" x2="564.2" y2="0"><stop offset="-0.0017" stop-color="#ff2000"/><stop offset="0.1116" stop-color="#ff6200"/><stop offset="0.2075" stop-color="#ffd600"/><stop offset="0.2336" stop-color="#ffff00"/><stop offset="0.3033" stop-color="#0cff00"/><stop offset="0.3295" stop-color="#00ff00"/><stop offset="0.4515" stop-color="#00ff08"/><stop offset="0.6432" stop-color="#00ff00"/><stop offset="0.7129" stop-color="#f0ff00"/><stop offset="0.7303" stop-color="#ffea00"/><stop offset="0.8262" stop-color="#ff6f00"/><stop offset="0.9308" stop-color="#ff2800"/><stop offset="1.0005" stop-color="#ff1400"/></linearGradient><linearGradient id="cba" gradientUnits="userSpaceOnUse" x1="0" y1="195.6" x2="0" y2="82.79"><stop offset="0.000" stop-color="#ff0000"/><stop offset="0.212" stop-color="#ffff00"/><stop offset="0.315" stop-color="#00ff00"/><stop offset="0.450" stop-color="#00ff00"/><stop offset="0.650" stop-color="#00ffff"/><stop offset="0.840" stop-color="#0000ff"/><stop offset="1.000" stop-color="#8c00ff"/></linearGradient><clipPath id="clD"><rect x="137.8" y="592.5" width="429.8" height="372"/></clipPath><filter id="jD" x="-5%" y="-5%" width="110%" height="110%" color-interpolation-filters="sRGB"><feTurbulence type="fractalNoise" baseFrequency="0.28 0.2" numOctaves="1" seed="5" result="n"/><feDisplacementMap in="SourceGraphic" in2="n" scale="10" xChannelSelector="R" yChannelSelector="G"/></filter><linearGradient id="g52" gradientUnits="userSpaceOnUse" x1="137.8" y1="0" x2="567.6" y2="0"><stop offset="0.0004" stop-color="#ff1000"/><stop offset="0.1148" stop-color="#ff3900"/><stop offset="0.2023" stop-color="#ff8a00"/><stop offset="0.2830" stop-color="#f7ff00"/><stop offset="0.3570" stop-color="#00ff00"/><stop offset="0.5857" stop-color="#01ff00"/><stop offset="0.6597" stop-color="#fdff00"/><stop offset="0.7606" stop-color="#ff7000"/><stop offset="0.8548" stop-color="#ff2900"/><stop offset="1.0028" stop-color="#ff0a00"/></linearGradient><linearGradient id="g53" gradientUnits="userSpaceOnUse" x1="137.8" y1="0" x2="567.6" y2="0"><stop offset="0.0004" stop-color="#ff1000"/><stop offset="0.1148" stop-color="#ff3b00"/><stop offset="0.2023" stop-color="#ff8f00"/><stop offset="0.2763" stop-color="#ffff00"/><stop offset="0.3503" stop-color="#00ff00"/><stop offset="0.5924" stop-color="#03ff00"/><stop offset="0.6664" stop-color="#fffc00"/><stop offset="0.7606" stop-color="#ff7400"/><stop offset="0.8548" stop-color="#ff2a00"/><stop offset="1.0028" stop-color="#ff0a00"/></linearGradient><linearGradient id="g54" gradientUnits="userSpaceOnUse" x1="137.8" y1="0" x2="567.6" y2="0"><stop offset="0.0004" stop-color="#ff1100"/><stop offset="0.1148" stop-color="#ff3d00"/><stop offset="0.2023" stop-color="#ff9300"/><stop offset="0.2695" stop-color="#fffa00"/><stop offset="0.2897" stop-color="#c1ff00"/><stop offset="0.3435" stop-color="#01ff00"/><stop offset="0.5992" stop-color="#07ff00"/><stop offset="0.6664" stop-color="#f8ff00"/><stop offset="0.7674" stop-color="#ff7000"/><stop offset="0.8615" stop-color="#ff2900"/><stop offset="1.0028" stop-color="#ff0a00"/></linearGradient><linearGradient id="g55" gradientUnits="userSpaceOnUse" x1="137.8" y1="0" x2="567.6" y2="0"><stop offset="0.0004" stop-color="#ff1100"/><stop offset="0.1148" stop-color="#ff3d00"/><stop offset="0.2023" stop-color="#ff9400"/><stop offset="0.2695" stop-color="#fffc00"/><stop offset="0.3435" stop-color="#00ff00"/><stop offset="0.5992" stop-color="#01ff00"/><stop offset="0.6664" stop-color="#f3ff00"/><stop offset="0.6799" stop-color="#ffee00"/><stop offset="0.7741" stop-color="#ff6a00"/><stop offset="0.8683" stop-color="#ff2600"/><stop offset="1.0028" stop-color="#ff0a00"/></linearGradient><linearGradient id="g56" gradientUnits="userSpaceOnUse" x1="137.8" y1="0" x2="567.6" y2="0"><stop offset="0.0004" stop-color="#ff1100"/><stop offset="0.1148" stop-color="#ff3e00"/><stop offset="0.2023" stop-color="#ff9600"/><stop offset="0.2695" stop-color="#feff00"/><stop offset="0.3368" stop-color="#09ff00"/><stop offset="0.3974" stop-color="#00ff00"/><stop offset="0.5992" stop-color="#00ff00"/><stop offset="0.6732" stop-color="#fffc00"/><stop offset="0.7674" stop-color="#ff7300"/><stop offset="0.8615" stop-color="#ff2a00"/><stop offset="1.0028" stop-color="#ff0a00"/></linearGradient><linearGradient id="g57" gradientUnits="userSpaceOnUse" x1="137.8" y1="0" x2="567.6" y2="0"><stop offset="0.0004" stop-color="#ff1200"/><stop offset="0.1148" stop-color="#ff4100"/><stop offset="0.2023" stop-color="#ff9c00"/><stop offset="0.2628" stop-color="#fffc00"/><stop offset="0.3301" stop-color="#0aff00"/><stop offset="0.3570" stop-color="#00ff00"/><stop offset="0.6059" stop-color="#00ff00"/><stop offset="0.6732" stop-color="#f3ff00"/><stop offset="0.6934" stop-color="#ffe200"/><stop offset="0.7808" stop-color="#ff6900"/><stop offset="0.8750" stop-color="#ff2500"/><stop offset="1.0028" stop-color="#ff0a00"/></linearGradient><linearGradient id="g58" gradientUnits="userSpaceOnUse" x1="137.8" y1="0" x2="567.6" y2="0"><stop offset="0.0004" stop-color="#ff1400"/><stop offset="0.1081" stop-color="#ff4300"/><stop offset="0.1955" stop-color="#ffa200"/><stop offset="0.2494" stop-color="#fffa00"/><stop offset="0.2763" stop-color="#a1ff00"/><stop offset="0.3166" stop-color="#00ff00"/><stop offset="0.4310" stop-color="#00ff06"/><stop offset="0.4848" stop-color="#00ff13"/><stop offset="0.5386" stop-color="#00ff00"/><stop offset="0.6261" stop-color="#07ff00"/><stop offset="0.6866" stop-color="#f6ff00"/><stop offset="0.7404" stop-color="#ffa900"/><stop offset="0.8279" stop-color="#ff4700"/><stop offset="0.9355" stop-color="#ff1500"/><stop offset="1.0028" stop-color="#ff0b00"/></linearGradient><linearGradient id="g59" gradientUnits="userSpaceOnUse" x1="137.8" y1="0" x2="567.6" y2="0"><stop offset="0.0004" stop-color="#ff1600"/><stop offset="0.1014" stop-color="#ff4400"/><stop offset="0.1821" stop-color="#ff9b00"/><stop offset="0.2426" stop-color="#feff00"/><stop offset="0.3032" stop-color="#06ff00"/><stop offset="0.3974" stop-color="#00ff02"/><stop offset="0.4512" stop-color="#00ff32"/><stop offset="0.5050" stop-color="#00ff2a"/><stop offset="0.5521" stop-color="#00ff00"/><stop offset="0.6328" stop-color="#00ff00"/><stop offset="0.6463" stop-color="#2aff00"/><stop offset="0.7001" stop-color="#fffc00"/><stop offset="0.7875" stop-color="#ff7600"/><stop offset="0.8750" stop-color="#ff2e00"/><stop offset="1.0028" stop-color="#ff0c00"/></linearGradient><linearGradient id="g60" gradientUnits="userSpaceOnUse" x1="137.8" y1="0" x2="567.6" y2="0"><stop offset="0.0004" stop-color="#ff1a00"/><stop offset="0.1014" stop-color="#ff5100"/><stop offset="0.1821" stop-color="#ffb300"/><stop offset="0.2224" stop-color="#fffa00"/><stop offset="0.2426" stop-color="#b6ff00"/><stop offset="0.2830" stop-color="#04ff00"/><stop offset="0.3637" stop-color="#00ff06"/><stop offset="0.4243" stop-color="#00ff61"/><stop offset="0.4781" stop-color="#00ff77"/><stop offset="0.5319" stop-color="#00ff4f"/><stop offset="0.5857" stop-color="#00ff00"/><stop offset="0.6530" stop-color="#00ff00"/><stop offset="0.6597" stop-color="#0cff00"/><stop offset="0.7135" stop-color="#f5ff00"/><stop offset="0.7404" stop-color="#ffd200"/><stop offset="0.8212" stop-color="#ff6200"/><stop offset="0.9154" stop-color="#ff2200"/><stop offset="1.0028" stop-color="#ff0e00"/></linearGradient><linearGradient id="g61" gradientUnits="userSpaceOnUse" x1="137.8" y1="0" x2="567.6" y2="0"><stop offset="0.0004" stop-color="#ff1b00"/><stop offset="0.1014" stop-color="#ff5500"/><stop offset="0.1821" stop-color="#ffbc00"/><stop offset="0.2157" stop-color="#fff800"/><stop offset="0.2292" stop-color="#d6ff00"/><stop offset="0.2763" stop-color="#04ff00"/><stop offset="0.3503" stop-color="#00ff00"/><stop offset="0.4175" stop-color="#00ff70"/><stop offset="0.4714" stop-color="#00ff8e"/><stop offset="0.5252" stop-color="#00ff6e"/><stop offset="0.5924" stop-color="#00ff00"/><stop offset="0.6597" stop-color="#00ff00"/><stop offset="0.6664" stop-color="#0dff00"/><stop offset="0.7203" stop-color="#f9ff00"/><stop offset="0.8077" stop-color="#ff7700"/><stop offset="0.8952" stop-color="#ff2e00"/><stop offset="1.0028" stop-color="#ff0e00"/></linearGradient><linearGradient id="g62" gradientUnits="userSpaceOnUse" x1="137.8" y1="0" x2="567.6" y2="0"><stop offset="0.0004" stop-color="#ff1d00"/><stop offset="0.1014" stop-color="#ff5a00"/><stop offset="0.1821" stop-color="#ffc400"/><stop offset="0.2157" stop-color="#f8ff00"/><stop offset="0.2695" stop-color="#08ff00"/><stop offset="0.3435" stop-color="#00ff02"/><stop offset="0.4041" stop-color="#00ff73"/><stop offset="0.4579" stop-color="#00ffa1"/><stop offset="0.5050" stop-color="#00ff96"/><stop offset="0.5588" stop-color="#00ff50"/><stop offset="0.5992" stop-color="#00ff00"/><stop offset="0.6664" stop-color="#00ff00"/><stop offset="0.6799" stop-color="#30ff00"/><stop offset="0.7270" stop-color="#ffff00"/><stop offset="0.8010" stop-color="#ff8500"/><stop offset="0.8885" stop-color="#ff3400"/><stop offset="1.0028" stop-color="#ff0f00"/></linearGradient><linearGradient id="g63" gradientUnits="userSpaceOnUse" x1="137.8" y1="0" x2="567.6" y2="0"><stop offset="0.0004" stop-color="#ff2200"/><stop offset="0.0946" stop-color="#ff6100"/><stop offset="0.1686" stop-color="#ffc600"/><stop offset="0.1955" stop-color="#fff800"/><stop offset="0.2090" stop-color="#d4ff00"/><stop offset="0.2561" stop-color="#00ff00"/><stop offset="0.3234" stop-color="#00ff07"/><stop offset="0.3906" stop-color="#00ff9b"/><stop offset="0.4444" stop-color="#00ffdb"/><stop offset="0.4915" stop-color="#00ffde"/><stop offset="0.5454" stop-color="#00ffa3"/><stop offset="0.6126" stop-color="#00ff14"/><stop offset="0.6261" stop-color="#00ff00"/><stop offset="0.6866" stop-color="#01ff00"/><stop offset="0.7404" stop-color="#f9ff00"/><stop offset="0.8212" stop-color="#ff7d00"/><stop offset="0.9086" stop-color="#ff3100"/><stop offset="1.0028" stop-color="#ff1100"/></linearGradient><linearGradient id="g64" gradientUnits="userSpaceOnUse" x1="137.8" y1="0" x2="567.6" y2="0"><stop offset="0.0004" stop-color="#ff2800"/><stop offset="0.0879" stop-color="#ff6900"/><stop offset="0.1619" stop-color="#ffd500"/><stop offset="0.1821" stop-color="#fffc00"/><stop offset="0.2224" stop-color="#4cff00"/><stop offset="0.2359" stop-color="#09ff00"/><stop offset="0.2897" stop-color="#00ff00"/><stop offset="0.3032" stop-color="#00ff09"/><stop offset="0.3772" stop-color="#00ffc2"/><stop offset="0.4175" stop-color="#00f8ff"/><stop offset="0.4646" stop-color="#00d5ff"/><stop offset="0.5117" stop-color="#00ebff"/><stop offset="0.5386" stop-color="#00ffef"/><stop offset="0.5992" stop-color="#00ff70"/><stop offset="0.6395" stop-color="#00ff04"/><stop offset="0.7001" stop-color="#00ff00"/><stop offset="0.7135" stop-color="#34ff00"/><stop offset="0.7539" stop-color="#f1ff00"/><stop offset="0.7674" stop-color="#ffeb00"/><stop offset="0.8414" stop-color="#ff7700"/><stop offset="0.9288" stop-color="#ff2e00"/><stop offset="1.0028" stop-color="#ff1400"/></linearGradient><linearGradient id="g65" gradientUnits="userSpaceOnUse" x1="137.8" y1="0" x2="567.6" y2="0"><stop offset="0.0004" stop-color="#ff2a00"/><stop offset="0.0879" stop-color="#ff6d00"/><stop offset="0.1619" stop-color="#ffdc00"/><stop offset="0.1821" stop-color="#f4ff00"/><stop offset="0.2292" stop-color="#15ff00"/><stop offset="0.2359" stop-color="#00ff00"/><stop offset="0.2964" stop-color="#00ff05"/><stop offset="0.3772" stop-color="#00ffd3"/><stop offset="0.4041" stop-color="#00faff"/><stop offset="0.4512" stop-color="#00c6ff"/><stop offset="0.4983" stop-color="#00cbff"/><stop offset="0.5454" stop-color="#00fff6"/><stop offset="0.6059" stop-color="#00ff6f"/><stop offset="0.6463" stop-color="#00ff00"/><stop offset="0.7068" stop-color="#00ff00"/><stop offset="0.7606" stop-color="#fcff00"/><stop offset="0.8346" stop-color="#ff8400"/><stop offset="0.9154" stop-color="#ff3800"/><stop offset="1.0028" stop-color="#ff1500"/></linearGradient><linearGradient id="g66" gradientUnits="userSpaceOnUse" x1="137.8" y1="0" x2="567.6" y2="0"><stop offset="0.0004" stop-color="#ff2e00"/><stop offset="0.0879" stop-color="#ff7700"/><stop offset="0.1619" stop-color="#ffec00"/><stop offset="0.1686" stop-color="#fff900"/><stop offset="0.1821" stop-color="#d0ff00"/><stop offset="0.2224" stop-color="#0bff00"/><stop offset="0.2426" stop-color="#00ff00"/><stop offset="0.2830" stop-color="#00ff00"/><stop offset="0.3704" stop-color="#00ffe8"/><stop offset="0.3906" stop-color="#00ebff"/><stop offset="0.4377" stop-color="#00a7ff"/><stop offset="0.4848" stop-color="#009cff"/><stop offset="0.5319" stop-color="#00cbff"/><stop offset="0.5588" stop-color="#00fdff"/><stop offset="0.6194" stop-color="#00ff6b"/><stop offset="0.6597" stop-color="#00ff00"/><stop offset="0.7135" stop-color="#00ff00"/><stop offset="0.7270" stop-color="#37ff00"/><stop offset="0.7674" stop-color="#f6ff00"/><stop offset="0.8279" stop-color="#ff9800"/><stop offset="0.9086" stop-color="#ff4200"/><stop offset="1.0028" stop-color="#ff1700"/></linearGradient><linearGradient id="g67" gradientUnits="userSpaceOnUse" x1="137.8" y1="0" x2="567.6" y2="0"><stop offset="0.0004" stop-color="#ff3200"/><stop offset="0.0812" stop-color="#ff7800"/><stop offset="0.1552" stop-color="#ffee00"/><stop offset="0.1619" stop-color="#fffb00"/><stop offset="0.1955" stop-color="#6bff00"/><stop offset="0.2157" stop-color="#03ff00"/><stop offset="0.2763" stop-color="#00ff04"/><stop offset="0.3637" stop-color="#00fffb"/><stop offset="0.4175" stop-color="#0097ff"/><stop offset="0.4646" stop-color="#0072ff"/><stop offset="0.5050" stop-color="#0082ff"/><stop offset="0.5521" stop-color="#00c9ff"/><stop offset="0.5790" stop-color="#00fff7"/><stop offset="0.6664" stop-color="#00ff00"/><stop offset="0.7203" stop-color="#00ff00"/><stop offset="0.7270" stop-color="#0dff00"/><stop offset="0.7741" stop-color="#f2ff00"/><stop offset="0.7875" stop-color="#ffea00"/><stop offset="0.8615" stop-color="#ff7500"/><stop offset="0.9490" stop-color="#ff2e00"/><stop offset="1.0028" stop-color="#ff1900"/></linearGradient><linearGradient id="g68" gradientUnits="userSpaceOnUse" x1="137.8" y1="0" x2="567.6" y2="0"><stop offset="0.0004" stop-color="#ff3700"/><stop offset="0.0812" stop-color="#ff8200"/><stop offset="0.1552" stop-color="#feff00"/><stop offset="0.2090" stop-color="#00ff00"/><stop offset="0.2628" stop-color="#00ff00"/><stop offset="0.3503" stop-color="#00fdff"/><stop offset="0.4041" stop-color="#0080ff"/><stop offset="0.4512" stop-color="#0049ff"/><stop offset="0.4983" stop-color="#004fff"/><stop offset="0.5454" stop-color="#0090ff"/><stop offset="0.5924" stop-color="#00fffc"/><stop offset="0.6732" stop-color="#00ff09"/><stop offset="0.7337" stop-color="#00ff00"/><stop offset="0.7808" stop-color="#e9ff00"/><stop offset="0.7875" stop-color="#fffc00"/><stop offset="0.8615" stop-color="#ff8000"/><stop offset="0.9423" stop-color="#ff3600"/><stop offset="1.0028" stop-color="#ff1c00"/></linearGradient><linearGradient id="g69" gradientUnits="userSpaceOnUse" x1="137.8" y1="0" x2="567.6" y2="0"><stop offset="0.0004" stop-color="#ff3b00"/><stop offset="0.0812" stop-color="#ff8a00"/><stop offset="0.1484" stop-color="#fffe00"/><stop offset="0.2023" stop-color="#00ff00"/><stop offset="0.2561" stop-color="#00ff00"/><stop offset="0.3368" stop-color="#00fff8"/><stop offset="0.4041" stop-color="#0060ff"/><stop offset="0.4512" stop-color="#0028ff"/><stop offset="0.4983" stop-color="#002eff"/><stop offset="0.5454" stop-color="#0070ff"/><stop offset="0.5992" stop-color="#00f8ff"/><stop offset="0.6597" stop-color="#00ff4c"/><stop offset="0.6799" stop-color="#00ff0b"/><stop offset="0.7001" stop-color="#00ff00"/><stop offset="0.7404" stop-color="#01ff00"/><stop offset="0.7875" stop-color="#ebff00"/><stop offset="0.7943" stop-color="#fffb00"/><stop offset="0.8683" stop-color="#ff7f00"/><stop offset="0.9557" stop-color="#ff3200"/><stop offset="1.0028" stop-color="#ff1e00"/></linearGradient><linearGradient id="g70" gradientUnits="userSpaceOnUse" x1="137.8" y1="0" x2="567.6" y2="0"><stop offset="0.0004" stop-color="#ff3c00"/><stop offset="0.0812" stop-color="#ff8c00"/><stop offset="0.1484" stop-color="#fbff00"/><stop offset="0.1955" stop-color="#15ff00"/><stop offset="0.2023" stop-color="#00ff00"/><stop offset="0.2561" stop-color="#00ff00"/><stop offset="0.3368" stop-color="#00fffd"/><stop offset="0.3974" stop-color="#0066ff"/><stop offset="0.4444" stop-color="#0026ff"/><stop offset="0.4915" stop-color="#0023ff"/><stop offset="0.5386" stop-color="#005dff"/><stop offset="0.5924" stop-color="#00deff"/><stop offset="0.6059" stop-color="#00fff8"/><stop offset="0.6866" stop-color="#00ff00"/><stop offset="0.7404" stop-color="#00ff00"/><stop offset="0.7943" stop-color="#fffd00"/><stop offset="0.8683" stop-color="#ff8100"/><stop offset="0.9490" stop-color="#ff3700"/><stop offset="1.0028" stop-color="#ff1e00"/></linearGradient><linearGradient id="g71" gradientUnits="userSpaceOnUse" x1="137.8" y1="0" x2="567.6" y2="0"><stop offset="0.0004" stop-color="#ff4400"/><stop offset="0.0744" stop-color="#ff9200"/><stop offset="0.1350" stop-color="#fffc00"/><stop offset="0.1686" stop-color="#67ff00"/><stop offset="0.1888" stop-color="#00ff00"/><stop offset="0.2426" stop-color="#00ff00"/><stop offset="0.3234" stop-color="#00f7ff"/><stop offset="0.3839" stop-color="#004aff"/><stop offset="0.4243" stop-color="#0000ff"/><stop offset="0.4781" stop-color="#1400ff"/><stop offset="0.5184" stop-color="#0003ff"/><stop offset="0.5655" stop-color="#005fff"/><stop offset="0.6194" stop-color="#00fdff"/><stop offset="0.6934" stop-color="#00ff0d"/><stop offset="0.7068" stop-color="#00ff00"/><stop offset="0.7539" stop-color="#05ff00"/><stop offset="0.8010" stop-color="#f0ff00"/><stop offset="0.8145" stop-color="#ffea00"/><stop offset="0.8885" stop-color="#ff7500"/><stop offset="0.9759" stop-color="#ff2e00"/><stop offset="1.0028" stop-color="#ff2200"/></linearGradient><linearGradient id="g72" gradientUnits="userSpaceOnUse" x1="137.8" y1="0" x2="567.6" y2="0"><stop offset="0.0004" stop-color="#ff4200"/><stop offset="0.0812" stop-color="#ff9700"/><stop offset="0.1350" stop-color="#fff600"/><stop offset="0.1417" stop-color="#f5ff00"/><stop offset="0.1888" stop-color="#0cff00"/><stop offset="0.2023" stop-color="#00ff00"/><stop offset="0.2494" stop-color="#00ff08"/><stop offset="0.3234" stop-color="#00fffa"/><stop offset="0.3906" stop-color="#004aff"/><stop offset="0.4377" stop-color="#0000ff"/><stop offset="0.4915" stop-color="#0600ff"/><stop offset="0.5184" stop-color="#0012ff"/><stop offset="0.5655" stop-color="#006eff"/><stop offset="0.6126" stop-color="#00f5ff"/><stop offset="0.6395" stop-color="#00ffb4"/><stop offset="0.6934" stop-color="#00ff02"/><stop offset="0.7472" stop-color="#00ff00"/><stop offset="0.7606" stop-color="#3aff00"/><stop offset="0.8010" stop-color="#fdff00"/><stop offset="0.8750" stop-color="#ff8200"/><stop offset="0.9625" stop-color="#ff3400"/><stop offset="1.0028" stop-color="#ff2100"/></linearGradient><linearGradient id="g73" gradientUnits="userSpaceOnUse" x1="137.8" y1="0" x2="567.6" y2="0"><stop offset="0.0004" stop-color="#ff4400"/><stop offset="0.0812" stop-color="#ff9b00"/><stop offset="0.1350" stop-color="#fffb00"/><stop offset="0.1619" stop-color="#8bff00"/><stop offset="0.1888" stop-color="#00ff00"/><stop offset="0.2426" stop-color="#00ff00"/><stop offset="0.3234" stop-color="#00f9ff"/><stop offset="0.3839" stop-color="#004cff"/><stop offset="0.4243" stop-color="#0002ff"/><stop offset="0.4848" stop-color="#1100ff"/><stop offset="0.5184" stop-color="#0005ff"/><stop offset="0.5655" stop-color="#0061ff"/><stop offset="0.6194" stop-color="#00ffff"/><stop offset="0.6934" stop-color="#00ff0b"/><stop offset="0.7135" stop-color="#00ff00"/><stop offset="0.7539" stop-color="#08ff00"/><stop offset="0.8010" stop-color="#f2ff00"/><stop offset="0.8145" stop-color="#ffe900"/><stop offset="0.8885" stop-color="#ff7500"/><stop offset="0.9759" stop-color="#ff2e00"/><stop offset="1.0028" stop-color="#ff2200"/></linearGradient><linearGradient id="g74" gradientUnits="userSpaceOnUse" x1="137.8" y1="0" x2="567.6" y2="0"><stop offset="0.0004" stop-color="#ff4700"/><stop offset="0.0744" stop-color="#ff9700"/><stop offset="0.1283" stop-color="#fff600"/><stop offset="0.1350" stop-color="#f4ff00"/><stop offset="0.1821" stop-color="#09ff00"/><stop offset="0.2359" stop-color="#00ff00"/><stop offset="0.2695" stop-color="#00ff69"/><stop offset="0.3166" stop-color="#00f7ff"/><stop offset="0.3772" stop-color="#0040ff"/><stop offset="0.4108" stop-color="#0400ff"/><stop offset="0.4646" stop-color="#2600ff"/><stop offset="0.5184" stop-color="#1000ff"/><stop offset="0.5386" stop-color="#0009ff"/><stop offset="0.5924" stop-color="#0090ff"/><stop offset="0.6261" stop-color="#00fdff"/><stop offset="0.7001" stop-color="#00ff07"/><stop offset="0.7539" stop-color="#00ff00"/><stop offset="0.7606" stop-color="#13ff00"/><stop offset="0.8077" stop-color="#fcff00"/><stop offset="0.8817" stop-color="#ff8200"/><stop offset="0.9692" stop-color="#ff3400"/><stop offset="1.0028" stop-color="#ff2400"/></linearGradient><linearGradient id="g75" gradientUnits="userSpaceOnUse" x1="137.8" y1="0" x2="567.6" y2="0"><stop offset="0.0004" stop-color="#ff4600"/><stop offset="0.0812" stop-color="#ffa000"/><stop offset="0.1350" stop-color="#f8ff00"/><stop offset="0.1821" stop-color="#0eff00"/><stop offset="0.1955" stop-color="#00ff00"/><stop offset="0.2426" stop-color="#00ff09"/><stop offset="0.3166" stop-color="#00fdff"/><stop offset="0.3772" stop-color="#0048ff"/><stop offset="0.4108" stop-color="#0001ff"/><stop offset="0.4646" stop-color="#2100ff"/><stop offset="0.5184" stop-color="#0b00ff"/><stop offset="0.5386" stop-color="#0010ff"/><stop offset="0.5924" stop-color="#0097ff"/><stop offset="0.6261" stop-color="#00fffb"/><stop offset="0.7001" stop-color="#00ff03"/><stop offset="0.7539" stop-color="#00ff00"/><stop offset="0.7741" stop-color="#5fff00"/><stop offset="0.8077" stop-color="#ffff00"/><stop offset="0.8817" stop-color="#ff8100"/><stop offset="0.9692" stop-color="#ff3300"/><stop offset="1.0028" stop-color="#ff2300"/></linearGradient><linearGradient id="g76" gradientUnits="userSpaceOnUse" x1="137.8" y1="0" x2="567.6" y2="0"><stop offset="0.0004" stop-color="#ff4100"/><stop offset="0.0812" stop-color="#ff9700"/><stop offset="0.1417" stop-color="#f7ff00"/><stop offset="0.1888" stop-color="#0fff00"/><stop offset="0.2023" stop-color="#00ff00"/><stop offset="0.2494" stop-color="#00ff06"/><stop offset="0.3234" stop-color="#00fff7"/><stop offset="0.3906" stop-color="#004dff"/><stop offset="0.4377" stop-color="#0003ff"/><stop offset="0.5050" stop-color="#0005ff"/><stop offset="0.5521" stop-color="#0051ff"/><stop offset="0.6059" stop-color="#00e2ff"/><stop offset="0.6194" stop-color="#00fff1"/><stop offset="0.6934" stop-color="#00ff00"/><stop offset="0.7472" stop-color="#00ff00"/><stop offset="0.8010" stop-color="#ffff00"/><stop offset="0.8683" stop-color="#ff8b00"/><stop offset="0.9490" stop-color="#ff3c00"/><stop offset="1.0028" stop-color="#ff2100"/></linearGradient><linearGradient id="g77" gradientUnits="userSpaceOnUse" x1="137.8" y1="0" x2="567.6" y2="0"><stop offset="0.0004" stop-color="#ff4100"/><stop offset="0.0812" stop-color="#ff9600"/><stop offset="0.1417" stop-color="#f8ff00"/><stop offset="0.1888" stop-color="#10ff00"/><stop offset="0.1955" stop-color="#00ff00"/><stop offset="0.2494" stop-color="#00ff06"/><stop offset="0.3234" stop-color="#00fff6"/><stop offset="0.3839" stop-color="#005dff"/><stop offset="0.4310" stop-color="#000bff"/><stop offset="0.4781" stop-color="#0700ff"/><stop offset="0.5117" stop-color="#000dff"/><stop offset="0.5588" stop-color="#0061ff"/><stop offset="0.6126" stop-color="#00f8ff"/><stop offset="0.6934" stop-color="#00ff00"/><stop offset="0.7472" stop-color="#00ff00"/><stop offset="0.8010" stop-color="#fffe00"/><stop offset="0.8750" stop-color="#ff8100"/><stop offset="0.9625" stop-color="#ff3300"/><stop offset="1.0028" stop-color="#ff2100"/></linearGradient><linearGradient id="g78" gradientUnits="userSpaceOnUse" x1="137.8" y1="0" x2="567.6" y2="0"><stop offset="0.0004" stop-color="#ff4100"/><stop offset="0.0812" stop-color="#ff9500"/><stop offset="0.1417" stop-color="#fbff00"/><stop offset="0.1888" stop-color="#14ff00"/><stop offset="0.1955" stop-color="#00ff00"/><stop offset="0.2494" stop-color="#00ff03"/><stop offset="0.3234" stop-color="#00fff3"/><stop offset="0.3368" stop-color="#00e1ff"/><stop offset="0.3906" stop-color="#0052ff"/><stop offset="0.4377" stop-color="#0008ff"/><stop offset="0.4983" stop-color="#0004ff"/><stop offset="0.5454" stop-color="#0048ff"/><stop offset="0.5992" stop-color="#00d2ff"/><stop offset="0.6126" stop-color="#00fcff"/><stop offset="0.6934" stop-color="#00ff00"/><stop offset="0.7472" stop-color="#00ff00"/><stop offset="0.8010" stop-color="#fffd00"/><stop offset="0.8683" stop-color="#ff8900"/><stop offset="0.9490" stop-color="#ff3b00"/><stop offset="1.0028" stop-color="#ff2000"/></linearGradient><linearGradient id="g79" gradientUnits="userSpaceOnUse" x1="137.8" y1="0" x2="567.6" y2="0"><stop offset="0.0004" stop-color="#ff3d00"/><stop offset="0.0812" stop-color="#ff8d00"/><stop offset="0.1484" stop-color="#f8ff00"/><stop offset="0.1955" stop-color="#10ff00"/><stop offset="0.2090" stop-color="#00ff00"/><stop offset="0.2561" stop-color="#00ff03"/><stop offset="0.3368" stop-color="#00fdff"/><stop offset="0.3906" stop-color="#0070ff"/><stop offset="0.4377" stop-color="#0028ff"/><stop offset="0.4848" stop-color="#001bff"/><stop offset="0.5319" stop-color="#004dff"/><stop offset="0.5857" stop-color="#00c8ff"/><stop offset="0.6059" stop-color="#00fffb"/><stop offset="0.6866" stop-color="#00ff00"/><stop offset="0.7404" stop-color="#00ff00"/><stop offset="0.7943" stop-color="#ffff00"/><stop offset="0.8615" stop-color="#ff8b00"/><stop offset="0.9423" stop-color="#ff3b00"/><stop offset="1.0028" stop-color="#ff1e00"/></linearGradient><linearGradient id="g80" gradientUnits="userSpaceOnUse" x1="137.8" y1="0" x2="567.6" y2="0"><stop offset="0.0004" stop-color="#ff3700"/><stop offset="0.0812" stop-color="#ff8100"/><stop offset="0.1484" stop-color="#fff000"/><stop offset="0.1552" stop-color="#fffe00"/><stop offset="0.2090" stop-color="#00ff00"/><stop offset="0.2628" stop-color="#00ff00"/><stop offset="0.3503" stop-color="#00fffd"/><stop offset="0.4041" stop-color="#0085ff"/><stop offset="0.4512" stop-color="#004eff"/><stop offset="0.4983" stop-color="#0054ff"/><stop offset="0.5454" stop-color="#0095ff"/><stop offset="0.5924" stop-color="#00fff8"/><stop offset="0.6732" stop-color="#00ff06"/><stop offset="0.7337" stop-color="#05ff00"/><stop offset="0.7808" stop-color="#edff00"/><stop offset="0.7875" stop-color="#fffa00"/><stop offset="0.8548" stop-color="#ff8800"/><stop offset="0.9355" stop-color="#ff3a00"/><stop offset="1.0028" stop-color="#ff1b00"/></linearGradient><linearGradient id="g81" gradientUnits="userSpaceOnUse" x1="137.8" y1="0" x2="567.6" y2="0"><stop offset="0.0004" stop-color="#ff3600"/><stop offset="0.0812" stop-color="#ff8000"/><stop offset="0.1552" stop-color="#fffc00"/><stop offset="0.1821" stop-color="#8bff00"/><stop offset="0.2090" stop-color="#00ff00"/><stop offset="0.2695" stop-color="#00ff08"/><stop offset="0.3503" stop-color="#00fff9"/><stop offset="0.4108" stop-color="#007eff"/><stop offset="0.4579" stop-color="#0050ff"/><stop offset="0.5050" stop-color="#005eff"/><stop offset="0.5521" stop-color="#00a7ff"/><stop offset="0.5857" stop-color="#00f8ff"/><stop offset="0.6395" stop-color="#00ff6b"/><stop offset="0.6732" stop-color="#00ff03"/><stop offset="0.7270" stop-color="#00ff00"/><stop offset="0.7337" stop-color="#0aff00"/><stop offset="0.7808" stop-color="#f1ff00"/><stop offset="0.7943" stop-color="#ffea00"/><stop offset="0.8683" stop-color="#ff7500"/><stop offset="0.9557" stop-color="#ff2e00"/><stop offset="1.0028" stop-color="#ff1b00"/></linearGradient><linearGradient id="g82" gradientUnits="userSpaceOnUse" x1="137.8" y1="0" x2="567.6" y2="0"><stop offset="0.0004" stop-color="#ff3100"/><stop offset="0.0812" stop-color="#ff7500"/><stop offset="0.1552" stop-color="#ffe900"/><stop offset="0.1686" stop-color="#f4ff00"/><stop offset="0.2157" stop-color="#11ff00"/><stop offset="0.2224" stop-color="#00ff00"/><stop offset="0.2763" stop-color="#00ff00"/><stop offset="0.3704" stop-color="#00feff"/><stop offset="0.4243" stop-color="#009bff"/><stop offset="0.4714" stop-color="#007eff"/><stop offset="0.5184" stop-color="#009dff"/><stop offset="0.5723" stop-color="#00fffc"/><stop offset="0.6530" stop-color="#00ff1d"/><stop offset="0.6664" stop-color="#00ff00"/><stop offset="0.7203" stop-color="#00ff00"/><stop offset="0.7741" stop-color="#fcff00"/><stop offset="0.8481" stop-color="#ff8300"/><stop offset="0.9288" stop-color="#ff3800"/><stop offset="1.0028" stop-color="#ff1800"/></linearGradient><linearGradient id="g83" gradientUnits="userSpaceOnUse" x1="137.8" y1="0" x2="567.6" y2="0"><stop offset="0.0004" stop-color="#ff2b00"/><stop offset="0.0879" stop-color="#ff6f00"/><stop offset="0.1619" stop-color="#ffde00"/><stop offset="0.1754" stop-color="#fff900"/><stop offset="0.1888" stop-color="#d2ff00"/><stop offset="0.2292" stop-color="#0fff00"/><stop offset="0.2426" stop-color="#00ff00"/><stop offset="0.2964" stop-color="#00ff09"/><stop offset="0.3772" stop-color="#00ffd8"/><stop offset="0.3974" stop-color="#00fffe"/><stop offset="0.4444" stop-color="#00c5ff"/><stop offset="0.4915" stop-color="#00c2ff"/><stop offset="0.5454" stop-color="#00fffb"/><stop offset="0.6126" stop-color="#00ff61"/><stop offset="0.6463" stop-color="#00ff04"/><stop offset="0.7068" stop-color="#00ff00"/><stop offset="0.7606" stop-color="#f8ff00"/><stop offset="0.8414" stop-color="#ff7c00"/><stop offset="0.9288" stop-color="#ff3100"/><stop offset="1.0028" stop-color="#ff1500"/></linearGradient><linearGradient id="g84" gradientUnits="userSpaceOnUse" x1="137.8" y1="0" x2="567.6" y2="0"><stop offset="0.0004" stop-color="#ff2500"/><stop offset="0.0946" stop-color="#ff6900"/><stop offset="0.1686" stop-color="#ffd400"/><stop offset="0.1888" stop-color="#fffb00"/><stop offset="0.2157" stop-color="#91ff00"/><stop offset="0.2426" stop-color="#0fff00"/><stop offset="0.2561" stop-color="#00ff00"/><stop offset="0.3099" stop-color="#00ff01"/><stop offset="0.3839" stop-color="#00ffb0"/><stop offset="0.4377" stop-color="#00fff9"/><stop offset="0.5050" stop-color="#00fff8"/><stop offset="0.5588" stop-color="#00ffad"/><stop offset="0.6328" stop-color="#00ff00"/><stop offset="0.6934" stop-color="#00ff00"/><stop offset="0.7472" stop-color="#f3ff00"/><stop offset="0.7606" stop-color="#ffea00"/><stop offset="0.8346" stop-color="#ff7600"/><stop offset="0.9221" stop-color="#ff2e00"/><stop offset="1.0028" stop-color="#ff1300"/></linearGradient><linearGradient id="g85" gradientUnits="userSpaceOnUse" x1="137.8" y1="0" x2="567.6" y2="0"><stop offset="0.0004" stop-color="#ff2300"/><stop offset="0.0946" stop-color="#ff6500"/><stop offset="0.1686" stop-color="#ffcd00"/><stop offset="0.1955" stop-color="#fdff00"/><stop offset="0.2494" stop-color="#03ff00"/><stop offset="0.3166" stop-color="#00ff04"/><stop offset="0.3839" stop-color="#00ff9f"/><stop offset="0.4377" stop-color="#00ffe7"/><stop offset="0.4848" stop-color="#00fff2"/><stop offset="0.5319" stop-color="#00ffc8"/><stop offset="0.5924" stop-color="#00ff53"/><stop offset="0.6261" stop-color="#00ff00"/><stop offset="0.6866" stop-color="#00ff00"/><stop offset="0.6934" stop-color="#0dff00"/><stop offset="0.7404" stop-color="#e8ff00"/><stop offset="0.7472" stop-color="#fffc00"/><stop offset="0.8212" stop-color="#ff8200"/><stop offset="0.9086" stop-color="#ff3300"/><stop offset="1.0028" stop-color="#ff1200"/></linearGradient><linearGradient id="g86" gradientUnits="userSpaceOnUse" x1="137.8" y1="0" x2="567.6" y2="0"><stop offset="0.0004" stop-color="#ff2000"/><stop offset="0.0946" stop-color="#ff5b00"/><stop offset="0.1754" stop-color="#ffc700"/><stop offset="0.2023" stop-color="#fff900"/><stop offset="0.2157" stop-color="#d3ff00"/><stop offset="0.2628" stop-color="#00ff00"/><stop offset="0.3301" stop-color="#00ff02"/><stop offset="0.3974" stop-color="#00ff8c"/><stop offset="0.4512" stop-color="#00ffc3"/><stop offset="0.4983" stop-color="#00ffbf"/><stop offset="0.5521" stop-color="#00ff7e"/><stop offset="0.6126" stop-color="#00ff00"/><stop offset="0.6799" stop-color="#02ff00"/><stop offset="0.7337" stop-color="#f7ff00"/><stop offset="0.8212" stop-color="#ff7600"/><stop offset="0.9086" stop-color="#ff2e00"/><stop offset="1.0028" stop-color="#ff1000"/></linearGradient><linearGradient id="g87" gradientUnits="userSpaceOnUse" x1="137.8" y1="0" x2="567.6" y2="0"><stop offset="0.0004" stop-color="#ff1c00"/><stop offset="0.0946" stop-color="#ff5200"/><stop offset="0.1686" stop-color="#ffab00"/><stop offset="0.2157" stop-color="#fffe00"/><stop offset="0.2695" stop-color="#14ff00"/><stop offset="0.2763" stop-color="#00ff00"/><stop offset="0.3435" stop-color="#00ff00"/><stop offset="0.4175" stop-color="#00ff7b"/><stop offset="0.4714" stop-color="#00ff9a"/><stop offset="0.5252" stop-color="#00ff79"/><stop offset="0.5857" stop-color="#00ff13"/><stop offset="0.6059" stop-color="#00ff00"/><stop offset="0.6664" stop-color="#00ff00"/><stop offset="0.7203" stop-color="#edff00"/><stop offset="0.7270" stop-color="#fffa00"/><stop offset="0.8077" stop-color="#ff7a00"/><stop offset="0.8952" stop-color="#ff2f00"/><stop offset="1.0028" stop-color="#ff0f00"/></linearGradient><linearGradient id="g88" gradientUnits="userSpaceOnUse" x1="137.8" y1="0" x2="567.6" y2="0"><stop offset="0.0004" stop-color="#ff1a00"/><stop offset="0.1014" stop-color="#ff5100"/><stop offset="0.1821" stop-color="#ffb400"/><stop offset="0.2224" stop-color="#fffb00"/><stop offset="0.2494" stop-color="#98ff00"/><stop offset="0.2830" stop-color="#02ff00"/><stop offset="0.3637" stop-color="#00ff07"/><stop offset="0.4243" stop-color="#00ff62"/><stop offset="0.4781" stop-color="#00ff78"/><stop offset="0.5319" stop-color="#00ff50"/><stop offset="0.5857" stop-color="#00ff00"/><stop offset="0.6530" stop-color="#00ff00"/><stop offset="0.6597" stop-color="#0bff00"/><stop offset="0.7135" stop-color="#f4ff00"/><stop offset="0.7337" stop-color="#ffde00"/><stop offset="0.8145" stop-color="#ff6a00"/><stop offset="0.9086" stop-color="#ff2500"/><stop offset="1.0028" stop-color="#ff0e00"/></linearGradient><linearGradient id="g89" gradientUnits="userSpaceOnUse" x1="137.8" y1="0" x2="567.6" y2="0"><stop offset="0.0004" stop-color="#ff1800"/><stop offset="0.1014" stop-color="#ff4c00"/><stop offset="0.1821" stop-color="#ffaa00"/><stop offset="0.2292" stop-color="#fffa00"/><stop offset="0.2561" stop-color="#9bff00"/><stop offset="0.2897" stop-color="#09ff00"/><stop offset="0.3435" stop-color="#00ff00"/><stop offset="0.3772" stop-color="#00ff07"/><stop offset="0.4310" stop-color="#00ff4e"/><stop offset="0.4848" stop-color="#00ff5c"/><stop offset="0.5386" stop-color="#00ff2e"/><stop offset="0.5723" stop-color="#00ff00"/><stop offset="0.6463" stop-color="#00ff00"/><stop offset="0.6597" stop-color="#2eff00"/><stop offset="0.7068" stop-color="#f5ff00"/><stop offset="0.7404" stop-color="#ffc700"/><stop offset="0.8212" stop-color="#ff5c00"/><stop offset="0.9154" stop-color="#ff2000"/><stop offset="1.0028" stop-color="#ff0d00"/></linearGradient><linearGradient id="g90" gradientUnits="userSpaceOnUse" x1="137.8" y1="0" x2="567.6" y2="0"><stop offset="0.0004" stop-color="#ff1600"/><stop offset="0.1081" stop-color="#ff4900"/><stop offset="0.1888" stop-color="#ffa300"/><stop offset="0.2426" stop-color="#fffc00"/><stop offset="0.3032" stop-color="#0fff00"/><stop offset="0.3166" stop-color="#00ff00"/><stop offset="0.4041" stop-color="#00ff05"/><stop offset="0.4579" stop-color="#00ff2e"/><stop offset="0.5117" stop-color="#00ff1f"/><stop offset="0.5454" stop-color="#00ff00"/><stop offset="0.6328" stop-color="#00ff00"/><stop offset="0.6934" stop-color="#f2ff00"/><stop offset="0.7068" stop-color="#ffed00"/><stop offset="0.7875" stop-color="#ff7400"/><stop offset="0.8817" stop-color="#ff2a00"/><stop offset="1.0028" stop-color="#ff0c00"/></linearGradient><linearGradient id="g91" gradientUnits="userSpaceOnUse" x1="137.8" y1="0" x2="567.6" y2="0"><stop offset="0.0004" stop-color="#ff1300"/><stop offset="0.1081" stop-color="#ff4000"/><stop offset="0.1955" stop-color="#ff9b00"/><stop offset="0.2561" stop-color="#fffc00"/><stop offset="0.3234" stop-color="#04ff00"/><stop offset="0.6126" stop-color="#00ff00"/><stop offset="0.6261" stop-color="#25ff00"/><stop offset="0.6799" stop-color="#f4ff00"/><stop offset="0.7001" stop-color="#ffe100"/><stop offset="0.7875" stop-color="#ff6700"/><stop offset="0.8817" stop-color="#ff2500"/><stop offset="1.0028" stop-color="#ff0b00"/></linearGradient><linearGradient id="g92" gradientUnits="userSpaceOnUse" x1="137.8" y1="0" x2="567.6" y2="0"><stop offset="0.0004" stop-color="#ff1200"/><stop offset="0.1148" stop-color="#ff4100"/><stop offset="0.2023" stop-color="#ff9c00"/><stop offset="0.2628" stop-color="#fffb00"/><stop offset="0.3301" stop-color="#0cff00"/><stop offset="0.3503" stop-color="#00ff00"/><stop offset="0.6059" stop-color="#00ff00"/><stop offset="0.6732" stop-color="#f5ff00"/><stop offset="0.7068" stop-color="#ffcb00"/><stop offset="0.7943" stop-color="#ff5b00"/><stop offset="0.8952" stop-color="#ff1e00"/><stop offset="1.0028" stop-color="#ff0a00"/></linearGradient><linearGradient id="g93" gradientUnits="userSpaceOnUse" x1="137.8" y1="0" x2="567.6" y2="0"><stop offset="0.0004" stop-color="#ff1100"/><stop offset="0.1148" stop-color="#ff3d00"/><stop offset="0.2023" stop-color="#ff9400"/><stop offset="0.2695" stop-color="#fffc00"/><stop offset="0.3435" stop-color="#00ff00"/><stop offset="0.5992" stop-color="#02ff00"/><stop offset="0.6664" stop-color="#f4ff00"/><stop offset="0.6866" stop-color="#ffe200"/><stop offset="0.7741" stop-color="#ff6a00"/><stop offset="0.8683" stop-color="#ff2600"/><stop offset="1.0028" stop-color="#ff0a00"/></linearGradient><linearGradient id="g94" gradientUnits="userSpaceOnUse" x1="137.8" y1="0" x2="567.6" y2="0"><stop offset="0.0004" stop-color="#ff1100"/><stop offset="0.1148" stop-color="#ff3c00"/><stop offset="0.2023" stop-color="#ff9200"/><stop offset="0.2695" stop-color="#fff900"/><stop offset="0.2830" stop-color="#dcff00"/><stop offset="0.3435" stop-color="#04ff00"/><stop offset="0.5924" stop-color="#00ff00"/><stop offset="0.6059" stop-color="#21ff00"/><stop offset="0.6664" stop-color="#faff00"/><stop offset="0.7674" stop-color="#ff7000"/><stop offset="0.8615" stop-color="#ff2800"/><stop offset="1.0028" stop-color="#ff0a00"/></linearGradient><linearGradient id="g95" gradientUnits="userSpaceOnUse" x1="137.8" y1="0" x2="567.6" y2="0"><stop offset="0.0004" stop-color="#ff1000"/><stop offset="0.1148" stop-color="#ff3b00"/><stop offset="0.2023" stop-color="#ff8f00"/><stop offset="0.2763" stop-color="#feff00"/><stop offset="0.3503" stop-color="#00ff00"/><stop offset="0.5924" stop-color="#02ff00"/><stop offset="0.6664" stop-color="#fffc00"/><stop offset="0.7606" stop-color="#ff7400"/><stop offset="0.8548" stop-color="#ff2a00"/><stop offset="1.0028" stop-color="#ff0a00"/></linearGradient><linearGradient id="g96" gradientUnits="userSpaceOnUse" x1="137.8" y1="0" x2="567.6" y2="0"><stop offset="0.0004" stop-color="#ff1000"/><stop offset="0.1148" stop-color="#ff3800"/><stop offset="0.2090" stop-color="#ff9200"/><stop offset="0.2830" stop-color="#f9ff00"/><stop offset="0.3570" stop-color="#00ff00"/><stop offset="0.5857" stop-color="#04ff00"/><stop offset="0.6597" stop-color="#ffff00"/><stop offset="0.7539" stop-color="#ff7700"/><stop offset="0.8481" stop-color="#ff2c00"/><stop offset="0.9894" stop-color="#ff0a00"/><stop offset="1.0028" stop-color="#ff0a00"/></linearGradient><linearGradient id="g97" gradientUnits="userSpaceOnUse" x1="137.8" y1="0" x2="567.6" y2="0"><stop offset="0.0004" stop-color="#ff1000"/><stop offset="0.1148" stop-color="#ff3a00"/><stop offset="0.2023" stop-color="#ff8c00"/><stop offset="0.2763" stop-color="#fffb00"/><stop offset="0.3503" stop-color="#07ff00"/><stop offset="0.5857" stop-color="#00ff00"/><stop offset="0.6194" stop-color="#68ff00"/><stop offset="0.6597" stop-color="#f6ff00"/><stop offset="0.7203" stop-color="#ffa500"/><stop offset="0.8077" stop-color="#ff4600"/><stop offset="0.9154" stop-color="#ff1500"/><stop offset="1.0028" stop-color="#ff0a00"/></linearGradient><linearGradient id="g98" gradientUnits="userSpaceOnUse" x1="137.8" y1="0" x2="567.6" y2="0"><stop offset="0.0004" stop-color="#ff1100"/><stop offset="0.1148" stop-color="#ff3c00"/><stop offset="0.2023" stop-color="#ff9100"/><stop offset="0.2763" stop-color="#f7ff00"/><stop offset="0.3435" stop-color="#08ff00"/><stop offset="0.5924" stop-color="#00ff00"/><stop offset="0.6261" stop-color="#6dff00"/><stop offset="0.6664" stop-color="#feff00"/><stop offset="0.7606" stop-color="#ff7600"/><stop offset="0.8548" stop-color="#ff2b00"/><stop offset="0.9961" stop-color="#ff0a00"/><stop offset="1.0028" stop-color="#ff0a00"/></linearGradient><linearGradient id="g99" gradientUnits="userSpaceOnUse" x1="137.8" y1="0" x2="567.6" y2="0"><stop offset="0.0004" stop-color="#ff1100"/><stop offset="0.1148" stop-color="#ff3e00"/><stop offset="0.2023" stop-color="#ff9600"/><stop offset="0.2695" stop-color="#ffff00"/><stop offset="0.3368" stop-color="#0aff00"/><stop offset="0.3704" stop-color="#00ff00"/><stop offset="0.5992" stop-color="#00ff00"/><stop offset="0.6732" stop-color="#fffc00"/><stop offset="0.7674" stop-color="#ff7300"/><stop offset="0.8615" stop-color="#ff2a00"/><stop offset="1.0028" stop-color="#ff0a00"/></linearGradient><linearGradient id="g100" gradientUnits="userSpaceOnUse" x1="137.8" y1="0" x2="567.6" y2="0"><stop offset="0.0004" stop-color="#ff1200"/><stop offset="0.1081" stop-color="#ff3b00"/><stop offset="0.1955" stop-color="#ff9100"/><stop offset="0.2628" stop-color="#fff900"/><stop offset="0.2763" stop-color="#dbff00"/><stop offset="0.3368" stop-color="#00ff00"/><stop offset="0.6059" stop-color="#02ff00"/><stop offset="0.6732" stop-color="#faff00"/><stop offset="0.7741" stop-color="#ff6e00"/><stop offset="0.8683" stop-color="#ff2800"/><stop offset="1.0028" stop-color="#ff0a00"/></linearGradient><linearGradient id="g101" gradientUnits="userSpaceOnUse" x1="137.8" y1="0" x2="567.6" y2="0"><stop offset="0.0004" stop-color="#ff1200"/><stop offset="0.1148" stop-color="#ff4100"/><stop offset="0.2023" stop-color="#ff9d00"/><stop offset="0.2628" stop-color="#fffd00"/><stop offset="0.3301" stop-color="#08ff00"/><stop offset="0.6059" stop-color="#00ff00"/><stop offset="0.6328" stop-color="#5aff00"/><stop offset="0.6732" stop-color="#f2ff00"/><stop offset="0.6866" stop-color="#ffee00"/><stop offset="0.7741" stop-color="#ff7000"/><stop offset="0.8683" stop-color="#ff2800"/><stop offset="1.0028" stop-color="#ff0a00"/></linearGradient><linearGradient id="g102" gradientUnits="userSpaceOnUse" x1="137.8" y1="0" x2="567.6" y2="0"><stop offset="0.0004" stop-color="#ff1400"/><stop offset="0.1081" stop-color="#ff4200"/><stop offset="0.1955" stop-color="#ffa000"/><stop offset="0.2561" stop-color="#f7ff00"/><stop offset="0.3166" stop-color="#09ff00"/><stop offset="0.3704" stop-color="#00ff00"/><stop offset="0.4444" stop-color="#00ff08"/><stop offset="0.4983" stop-color="#00ff07"/><stop offset="0.6194" stop-color="#00ff00"/><stop offset="0.6395" stop-color="#46ff00"/><stop offset="0.6866" stop-color="#feff00"/><stop offset="0.7808" stop-color="#ff7200"/><stop offset="0.8750" stop-color="#ff2900"/><stop offset="1.0028" stop-color="#ff0b00"/></linearGradient><linearGradient id="g103" gradientUnits="userSpaceOnUse" x1="137.8" y1="0" x2="567.6" y2="0"><stop offset="0.0004" stop-color="#ff1600"/><stop offset="0.1081" stop-color="#ff4900"/><stop offset="0.1888" stop-color="#ffa300"/><stop offset="0.2426" stop-color="#fffd00"/><stop offset="0.3032" stop-color="#0cff00"/><stop offset="0.3234" stop-color="#00ff00"/><stop offset="0.4041" stop-color="#00ff07"/><stop offset="0.4579" stop-color="#00ff30"/><stop offset="0.5117" stop-color="#00ff21"/><stop offset="0.5521" stop-color="#00ff00"/><stop offset="0.6328" stop-color="#00ff00"/><stop offset="0.6934" stop-color="#f0ff00"/><stop offset="0.7068" stop-color="#ffee00"/><stop offset="0.7943" stop-color="#ff6d00"/><stop offset="0.8885" stop-color="#ff2700"/><stop offset="1.0028" stop-color="#ff0c00"/></linearGradient><linearGradient id="g104" gradientUnits="userSpaceOnUse" x1="137.8" y1="0" x2="567.6" y2="0"><stop offset="0.0004" stop-color="#ff1600"/><stop offset="0.1081" stop-color="#ff4b00"/><stop offset="0.1888" stop-color="#ffa700"/><stop offset="0.2426" stop-color="#f7ff00"/><stop offset="0.3032" stop-color="#00ff00"/><stop offset="0.3974" stop-color="#00ff08"/><stop offset="0.4512" stop-color="#00ff39"/><stop offset="0.5050" stop-color="#00ff31"/><stop offset="0.5588" stop-color="#00ff00"/><stop offset="0.6395" stop-color="#05ff00"/><stop offset="0.7001" stop-color="#feff00"/><stop offset="0.7875" stop-color="#ff7800"/><stop offset="0.8817" stop-color="#ff2b00"/><stop offset="1.0028" stop-color="#ff0c00"/></linearGradient><linearGradient id="g105" gradientUnits="userSpaceOnUse" x1="137.8" y1="0" x2="567.6" y2="0"><stop offset="0.0004" stop-color="#ff1900"/><stop offset="0.1014" stop-color="#ff4d00"/><stop offset="0.1821" stop-color="#ffac00"/><stop offset="0.2292" stop-color="#fffe00"/><stop offset="0.2897" stop-color="#00ff00"/><stop offset="0.3704" stop-color="#00ff02"/><stop offset="0.4310" stop-color="#00ff55"/><stop offset="0.4781" stop-color="#00ff65"/><stop offset="0.5319" stop-color="#00ff3e"/><stop offset="0.5723" stop-color="#00ff00"/><stop offset="0.6530" stop-color="#06ff00"/><stop offset="0.7068" stop-color="#edff00"/><stop offset="0.7135" stop-color="#fffb00"/><stop offset="0.7943" stop-color="#ff7c00"/><stop offset="0.8817" stop-color="#ff3000"/><stop offset="1.0028" stop-color="#ff0d00"/></linearGradient><linearGradient id="g106" gradientUnits="userSpaceOnUse" x1="137.8" y1="0" x2="567.6" y2="0"><stop offset="0.0004" stop-color="#ff1a00"/><stop offset="0.1014" stop-color="#ff5200"/><stop offset="0.1821" stop-color="#ffb500"/><stop offset="0.2224" stop-color="#fffc00"/><stop offset="0.2830" stop-color="#00ff00"/><stop offset="0.3570" stop-color="#00ff00"/><stop offset="0.4243" stop-color="#00ff65"/><stop offset="0.4781" stop-color="#00ff7b"/><stop offset="0.5319" stop-color="#00ff54"/><stop offset="0.5857" stop-color="#00ff00"/><stop offset="0.6597" stop-color="#06ff00"/><stop offset="0.7135" stop-color="#f1ff00"/><stop offset="0.7270" stop-color="#ffec00"/><stop offset="0.8077" stop-color="#ff7200"/><stop offset="0.8952" stop-color="#ff2c00"/><stop offset="1.0028" stop-color="#ff0e00"/></linearGradient><linearGradient id="g107" gradientUnits="userSpaceOnUse" x1="137.8" y1="0" x2="567.6" y2="0"><stop offset="0.0004" stop-color="#ff1f00"/><stop offset="0.0946" stop-color="#ff5900"/><stop offset="0.1754" stop-color="#ffc400"/><stop offset="0.2090" stop-color="#f9ff00"/><stop offset="0.2628" stop-color="#05ff00"/><stop offset="0.3301" stop-color="#00ff00"/><stop offset="0.4041" stop-color="#00ff8d"/><stop offset="0.4579" stop-color="#00ffbc"/><stop offset="0.5050" stop-color="#00ffb1"/><stop offset="0.5588" stop-color="#00ff69"/><stop offset="0.6059" stop-color="#00ff05"/><stop offset="0.6732" stop-color="#00ff00"/><stop offset="0.6799" stop-color="#0eff00"/><stop offset="0.7337" stop-color="#fffe00"/><stop offset="0.8145" stop-color="#ff7c00"/><stop offset="0.9019" stop-color="#ff3000"/><stop offset="1.0028" stop-color="#ff1000"/></linearGradient><linearGradient id="g108" gradientUnits="userSpaceOnUse" x1="137.8" y1="0" x2="567.6" y2="0"><stop offset="0.0004" stop-color="#ff2300"/><stop offset="0.0946" stop-color="#ff6300"/><stop offset="0.1686" stop-color="#ffca00"/><stop offset="0.1955" stop-color="#fffc00"/><stop offset="0.2426" stop-color="#2eff00"/><stop offset="0.2494" stop-color="#0dff00"/><stop offset="0.2628" stop-color="#00ff00"/><stop offset="0.3166" stop-color="#00ff00"/><stop offset="0.3906" stop-color="#00ffa3"/><stop offset="0.4444" stop-color="#00ffe4"/><stop offset="0.4915" stop-color="#00ffe7"/><stop offset="0.5454" stop-color="#00ffac"/><stop offset="0.6126" stop-color="#00ff1b"/><stop offset="0.6261" stop-color="#00ff00"/><stop offset="0.6866" stop-color="#00ff00"/><stop offset="0.7404" stop-color="#f0ff00"/><stop offset="0.7539" stop-color="#ffec00"/><stop offset="0.8279" stop-color="#ff7800"/><stop offset="0.9154" stop-color="#ff2e00"/><stop offset="1.0028" stop-color="#ff1200"/></linearGradient><linearGradient id="g109" gradientUnits="userSpaceOnUse" x1="137.8" y1="0" x2="567.6" y2="0"><stop offset="0.0004" stop-color="#ff2a00"/><stop offset="0.0879" stop-color="#ff6d00"/><stop offset="0.1619" stop-color="#ffdc00"/><stop offset="0.1821" stop-color="#f5ff00"/><stop offset="0.2292" stop-color="#16ff00"/><stop offset="0.2359" stop-color="#00ff00"/><stop offset="0.2964" stop-color="#00ff04"/><stop offset="0.3772" stop-color="#00ffd2"/><stop offset="0.4041" stop-color="#00faff"/><stop offset="0.4512" stop-color="#00c7ff"/><stop offset="0.4983" stop-color="#00ccff"/><stop offset="0.5386" stop-color="#00fdff"/><stop offset="0.5924" stop-color="#00ff91"/><stop offset="0.6463" stop-color="#00ff00"/><stop offset="0.7068" stop-color="#00ff00"/><stop offset="0.7606" stop-color="#fdff00"/><stop offset="0.8346" stop-color="#ff8400"/><stop offset="0.9154" stop-color="#ff3800"/><stop offset="1.0028" stop-color="#ff1500"/></linearGradient><linearGradient id="g110" gradientUnits="userSpaceOnUse" x1="137.8" y1="0" x2="567.6" y2="0"><stop offset="0.0004" stop-color="#ff2c00"/><stop offset="0.0879" stop-color="#ff7100"/><stop offset="0.1619" stop-color="#ffe300"/><stop offset="0.1754" stop-color="#fffe00"/><stop offset="0.2224" stop-color="#25ff00"/><stop offset="0.2292" stop-color="#02ff00"/><stop offset="0.2897" stop-color="#00ff00"/><stop offset="0.3704" stop-color="#00ffd4"/><stop offset="0.3906" stop-color="#00fffd"/><stop offset="0.4444" stop-color="#00b9ff"/><stop offset="0.4915" stop-color="#00b6ff"/><stop offset="0.5386" stop-color="#00ecff"/><stop offset="0.5588" stop-color="#00ffec"/><stop offset="0.6261" stop-color="#00ff46"/><stop offset="0.6530" stop-color="#00ff00"/><stop offset="0.7068" stop-color="#00ff00"/><stop offset="0.7135" stop-color="#0bff00"/><stop offset="0.7606" stop-color="#edff00"/><stop offset="0.7674" stop-color="#fffa00"/><stop offset="0.8414" stop-color="#ff7f00"/><stop offset="0.9288" stop-color="#ff3200"/><stop offset="1.0028" stop-color="#ff1600"/></linearGradient><linearGradient id="g111" gradientUnits="userSpaceOnUse" x1="137.8" y1="0" x2="567.6" y2="0"><stop offset="0.0004" stop-color="#ff3200"/><stop offset="0.0812" stop-color="#ff7600"/><stop offset="0.1552" stop-color="#ffec00"/><stop offset="0.1619" stop-color="#fff900"/><stop offset="0.1754" stop-color="#d0ff00"/><stop offset="0.2157" stop-color="#09ff00"/><stop offset="0.2695" stop-color="#00ff00"/><stop offset="0.2763" stop-color="#00ff00"/><stop offset="0.3637" stop-color="#00fff7"/><stop offset="0.4243" stop-color="#0093ff"/><stop offset="0.4714" stop-color="#0076ff"/><stop offset="0.5184" stop-color="#0096ff"/><stop offset="0.5723" stop-color="#00fbff"/><stop offset="0.6395" stop-color="#00ff4c"/><stop offset="0.6664" stop-color="#00ff00"/><stop offset="0.7203" stop-color="#00ff00"/><stop offset="0.7270" stop-color="#12ff00"/><stop offset="0.7741" stop-color="#f6ff00"/><stop offset="0.8279" stop-color="#ffa200"/><stop offset="0.9019" stop-color="#ff4c00"/><stop offset="1.0028" stop-color="#ff1900"/></linearGradient><linearGradient id="g112" gradientUnits="userSpaceOnUse" x1="137.8" y1="0" x2="567.6" y2="0"><stop offset="0.0004" stop-color="#ff3a00"/><stop offset="0.0812" stop-color="#ff8800"/><stop offset="0.1484" stop-color="#fffa00"/><stop offset="0.1686" stop-color="#aeff00"/><stop offset="0.2023" stop-color="#03ff00"/><stop offset="0.2561" stop-color="#00ff00"/><stop offset="0.2695" stop-color="#00ff1e"/><stop offset="0.3435" stop-color="#00fdff"/><stop offset="0.3974" stop-color="#0078ff"/><stop offset="0.4444" stop-color="#0038ff"/><stop offset="0.4848" stop-color="#0031ff"/><stop offset="0.5319" stop-color="#0063ff"/><stop offset="0.5857" stop-color="#00dcff"/><stop offset="0.5992" stop-color="#00fffc"/><stop offset="0.6799" stop-color="#00ff03"/><stop offset="0.7337" stop-color="#00ff00"/><stop offset="0.7404" stop-color="#0dff00"/><stop offset="0.7875" stop-color="#f4ff00"/><stop offset="0.8077" stop-color="#ffdb00"/><stop offset="0.8817" stop-color="#ff6d00"/><stop offset="0.9759" stop-color="#ff2700"/><stop offset="1.0028" stop-color="#ff1d00"/></linearGradient><linearGradient id="g113" gradientUnits="userSpaceOnUse" x1="137.8" y1="0" x2="567.6" y2="0"><stop offset="0.0004" stop-color="#ff3e00"/><stop offset="0.0812" stop-color="#ff8f00"/><stop offset="0.1417" stop-color="#fff800"/><stop offset="0.1552" stop-color="#d2ff00"/><stop offset="0.1955" stop-color="#07ff00"/><stop offset="0.2561" stop-color="#00ff09"/><stop offset="0.3301" stop-color="#00fff5"/><stop offset="0.3637" stop-color="#00a8ff"/><stop offset="0.4108" stop-color="#0041ff"/><stop offset="0.4579" stop-color="#0011ff"/><stop offset="0.5050" stop-color="#0020ff"/><stop offset="0.5521" stop-color="#006bff"/><stop offset="0.6059" stop-color="#00fbff"/><stop offset="0.6866" stop-color="#00ff03"/><stop offset="0.7404" stop-color="#00ff00"/><stop offset="0.7472" stop-color="#11ff00"/><stop offset="0.7943" stop-color="#f8ff00"/><stop offset="0.8750" stop-color="#ff7b00"/><stop offset="0.9625" stop-color="#ff3000"/><stop offset="1.0028" stop-color="#ff1f00"/></linearGradient><linearGradient id="g114" gradientUnits="userSpaceOnUse" x1="137.8" y1="0" x2="567.6" y2="0"><stop offset="0.0004" stop-color="#ff3f00"/><stop offset="0.0812" stop-color="#ff9200"/><stop offset="0.1417" stop-color="#fffc00"/><stop offset="0.1821" stop-color="#43ff00"/><stop offset="0.1955" stop-color="#00ff00"/><stop offset="0.2494" stop-color="#00ff00"/><stop offset="0.3301" stop-color="#00fffe"/><stop offset="0.3906" stop-color="#005dff"/><stop offset="0.4377" stop-color="#0014ff"/><stop offset="0.4781" stop-color="#0005ff"/><stop offset="0.5184" stop-color="#0025ff"/><stop offset="0.5655" stop-color="#0080ff"/><stop offset="0.6126" stop-color="#00fff9"/><stop offset="0.6866" stop-color="#00ff0b"/><stop offset="0.7068" stop-color="#00ff00"/><stop offset="0.7472" stop-color="#05ff00"/><stop offset="0.7943" stop-color="#efff00"/><stop offset="0.8010" stop-color="#fff900"/><stop offset="0.8683" stop-color="#ff8700"/><stop offset="0.9490" stop-color="#ff3a00"/><stop offset="1.0028" stop-color="#ff2000"/></linearGradient><linearGradient id="g115" gradientUnits="userSpaceOnUse" x1="137.8" y1="0" x2="567.6" y2="0"><stop offset="0.0004" stop-color="#ff3e00"/><stop offset="0.0812" stop-color="#ff8f00"/><stop offset="0.1417" stop-color="#fff800"/><stop offset="0.1552" stop-color="#d2ff00"/><stop offset="0.1955" stop-color="#07ff00"/><stop offset="0.2561" stop-color="#00ff09"/><stop offset="0.3301" stop-color="#00fff5"/><stop offset="0.3637" stop-color="#00a8ff"/><stop offset="0.4108" stop-color="#0041ff"/><stop offset="0.4579" stop-color="#0012ff"/><stop offset="0.4983" stop-color="#001aff"/><stop offset="0.5454" stop-color="#005dff"/><stop offset="0.5992" stop-color="#00e6ff"/><stop offset="0.6059" stop-color="#00fbff"/><stop offset="0.6866" stop-color="#00ff03"/><stop offset="0.7404" stop-color="#00ff00"/><stop offset="0.7472" stop-color="#11ff00"/><stop offset="0.7943" stop-color="#f8ff00"/><stop offset="0.8750" stop-color="#ff7b00"/><stop offset="0.9625" stop-color="#ff3000"/><stop offset="1.0028" stop-color="#ff1f00"/></linearGradient><linearGradient id="g116" gradientUnits="userSpaceOnUse" x1="137.8" y1="0" x2="567.6" y2="0"><stop offset="0.0004" stop-color="#ff4400"/><stop offset="0.0812" stop-color="#ff9b00"/><stop offset="0.1350" stop-color="#fffb00"/><stop offset="0.1552" stop-color="#acff00"/><stop offset="0.1888" stop-color="#00ff00"/><stop offset="0.2426" stop-color="#00ff00"/><stop offset="0.3234" stop-color="#00faff"/><stop offset="0.3839" stop-color="#004dff"/><stop offset="0.4243" stop-color="#0003ff"/><stop offset="0.4781" stop-color="#1100ff"/><stop offset="0.5184" stop-color="#0006ff"/><stop offset="0.5655" stop-color="#0062ff"/><stop offset="0.6194" stop-color="#00fffe"/><stop offset="0.6934" stop-color="#00ff0b"/><stop offset="0.7135" stop-color="#00ff00"/><stop offset="0.7539" stop-color="#09ff00"/><stop offset="0.8010" stop-color="#f3ff00"/><stop offset="0.8212" stop-color="#ffdc00"/><stop offset="0.8952" stop-color="#ff6d00"/><stop offset="0.9894" stop-color="#ff2700"/><stop offset="1.0028" stop-color="#ff2200"/></linearGradient><linearGradient id="g117" gradientUnits="userSpaceOnUse" x1="137.8" y1="0" x2="567.6" y2="0"><stop offset="0.0004" stop-color="#ff4500"/><stop offset="0.0744" stop-color="#ff9300"/><stop offset="0.1350" stop-color="#fffe00"/><stop offset="0.1888" stop-color="#00ff00"/><stop offset="0.2426" stop-color="#00ff01"/><stop offset="0.3166" stop-color="#00fff6"/><stop offset="0.3772" stop-color="#0054ff"/><stop offset="0.4175" stop-color="#0004ff"/><stop offset="0.4781" stop-color="#1700ff"/><stop offset="0.5252" stop-color="#0007ff"/><stop offset="0.5723" stop-color="#006aff"/><stop offset="0.6194" stop-color="#00f8ff"/><stop offset="0.7001" stop-color="#00ff00"/><stop offset="0.7539" stop-color="#00ff00"/><stop offset="0.8010" stop-color="#ebff00"/><stop offset="0.8077" stop-color="#fffa00"/><stop offset="0.8750" stop-color="#ff8800"/><stop offset="0.9557" stop-color="#ff3a00"/><stop offset="1.0028" stop-color="#ff2300"/></linearGradient><linearGradient id="g118" gradientUnits="userSpaceOnUse" x1="137.8" y1="0" x2="567.6" y2="0"><stop offset="0.0004" stop-color="#ff4500"/><stop offset="0.0744" stop-color="#ff9300"/><stop offset="0.1350" stop-color="#fffe00"/><stop offset="0.1754" stop-color="#3fff00"/><stop offset="0.1888" stop-color="#00ff00"/><stop offset="0.2426" stop-color="#00ff01"/><stop offset="0.3166" stop-color="#00fff6"/><stop offset="0.3772" stop-color="#0055ff"/><stop offset="0.4175" stop-color="#0004ff"/><stop offset="0.4781" stop-color="#1700ff"/><stop offset="0.5252" stop-color="#0007ff"/><stop offset="0.5723" stop-color="#006bff"/><stop offset="0.6194" stop-color="#00f8ff"/><stop offset="0.7001" stop-color="#00ff00"/><stop offset="0.7539" stop-color="#00ff00"/><stop offset="0.8010" stop-color="#ecff00"/><stop offset="0.8077" stop-color="#fffa00"/><stop offset="0.8750" stop-color="#ff8700"/><stop offset="0.9625" stop-color="#ff3600"/><stop offset="1.0028" stop-color="#ff2300"/></linearGradient><linearGradient id="g119" gradientUnits="userSpaceOnUse" x1="137.8" y1="0" x2="567.6" y2="0"><stop offset="0.0004" stop-color="#ff4400"/><stop offset="0.0812" stop-color="#ff9c00"/><stop offset="0.1350" stop-color="#fffd00"/><stop offset="0.1754" stop-color="#41ff00"/><stop offset="0.1888" stop-color="#00ff00"/><stop offset="0.2426" stop-color="#00ff00"/><stop offset="0.3166" stop-color="#00fff4"/><stop offset="0.3368" stop-color="#00c9ff"/><stop offset="0.3906" stop-color="#0038ff"/><stop offset="0.4243" stop-color="#0200ff"/><stop offset="0.4781" stop-color="#1500ff"/><stop offset="0.5184" stop-color="#0000ff"/><stop offset="0.5655" stop-color="#005cff"/><stop offset="0.6194" stop-color="#00fbff"/><stop offset="0.7001" stop-color="#00ff00"/><stop offset="0.7539" stop-color="#03ff00"/><stop offset="0.8010" stop-color="#eeff00"/><stop offset="0.8077" stop-color="#fff900"/><stop offset="0.8750" stop-color="#ff8700"/><stop offset="0.9557" stop-color="#ff3a00"/><stop offset="1.0028" stop-color="#ff2200"/></linearGradient><linearGradient id="g120" gradientUnits="userSpaceOnUse" x1="137.8" y1="0" x2="567.6" y2="0"><stop offset="0.0004" stop-color="#ff4700"/><stop offset="0.0744" stop-color="#ff9900"/><stop offset="0.1283" stop-color="#fff900"/><stop offset="0.1417" stop-color="#cfff00"/><stop offset="0.1821" stop-color="#00ff00"/><stop offset="0.2359" stop-color="#00ff00"/><stop offset="0.3099" stop-color="#00fffa"/><stop offset="0.3772" stop-color="#0034ff"/><stop offset="0.3974" stop-color="#0005ff"/><stop offset="0.4579" stop-color="#2e00ff"/><stop offset="0.5117" stop-color="#1f00ff"/><stop offset="0.5454" stop-color="#0009ff"/><stop offset="0.5992" stop-color="#0099ff"/><stop offset="0.6261" stop-color="#00f3ff"/><stop offset="0.6463" stop-color="#00ffc7"/><stop offset="0.7001" stop-color="#00ff0e"/><stop offset="0.7135" stop-color="#00ff00"/><stop offset="0.7539" stop-color="#00ff00"/><stop offset="0.7606" stop-color="#0aff00"/><stop offset="0.8077" stop-color="#f6ff00"/><stop offset="0.8615" stop-color="#ffa000"/><stop offset="0.9423" stop-color="#ff4600"/><stop offset="1.0028" stop-color="#ff2400"/></linearGradient><linearGradient id="g121" gradientUnits="userSpaceOnUse" x1="137.8" y1="0" x2="567.6" y2="0"><stop offset="0.0004" stop-color="#ff4400"/><stop offset="0.0812" stop-color="#ff9b00"/><stop offset="0.1350" stop-color="#fffb00"/><stop offset="0.1552" stop-color="#abff00"/><stop offset="0.1888" stop-color="#00ff00"/><stop offset="0.2426" stop-color="#00ff00"/><stop offset="0.3234" stop-color="#00f9ff"/><stop offset="0.3839" stop-color="#004cff"/><stop offset="0.4243" stop-color="#0002ff"/><stop offset="0.4848" stop-color="#1100ff"/><stop offset="0.5184" stop-color="#0004ff"/><stop offset="0.5655" stop-color="#0060ff"/><stop offset="0.6194" stop-color="#00ffff"/><stop offset="0.6934" stop-color="#00ff0c"/><stop offset="0.7135" stop-color="#00ff00"/><stop offset="0.7539" stop-color="#07ff00"/><stop offset="0.8010" stop-color="#f2ff00"/><stop offset="0.8145" stop-color="#ffe900"/><stop offset="0.8885" stop-color="#ff7500"/><stop offset="0.9759" stop-color="#ff2e00"/><stop offset="1.0028" stop-color="#ff2200"/></linearGradient><linearGradient id="g122" gradientUnits="userSpaceOnUse" x1="137.8" y1="0" x2="567.6" y2="0"><stop offset="0.0004" stop-color="#ff4200"/><stop offset="0.0812" stop-color="#ff9700"/><stop offset="0.1350" stop-color="#fff600"/><stop offset="0.1417" stop-color="#f5ff00"/><stop offset="0.1888" stop-color="#0cff00"/><stop offset="0.2023" stop-color="#00ff00"/><stop offset="0.2494" stop-color="#00ff08"/><stop offset="0.3234" stop-color="#00fff9"/><stop offset="0.3906" stop-color="#004bff"/><stop offset="0.4377" stop-color="#0001ff"/><stop offset="0.4915" stop-color="#0500ff"/><stop offset="0.5184" stop-color="#0013ff"/><stop offset="0.5655" stop-color="#006eff"/><stop offset="0.6126" stop-color="#00f5ff"/><stop offset="0.6328" stop-color="#00ffc9"/><stop offset="0.6934" stop-color="#00ff02"/><stop offset="0.7472" stop-color="#00ff00"/><stop offset="0.7606" stop-color="#3aff00"/><stop offset="0.8010" stop-color="#fdff00"/><stop offset="0.8750" stop-color="#ff8200"/><stop offset="0.9557" stop-color="#ff3800"/><stop offset="1.0028" stop-color="#ff2100"/></linearGradient><linearGradient id="g123" gradientUnits="userSpaceOnUse" x1="137.8" y1="0" x2="567.6" y2="0"><stop offset="0.0004" stop-color="#ff4300"/><stop offset="0.0744" stop-color="#ff8f00"/><stop offset="0.1350" stop-color="#fff800"/><stop offset="0.1484" stop-color="#d2ff00"/><stop offset="0.1888" stop-color="#05ff00"/><stop offset="0.2426" stop-color="#00ff00"/><stop offset="0.2695" stop-color="#00ff4f"/><stop offset="0.3234" stop-color="#00ffff"/><stop offset="0.3839" stop-color="#0054ff"/><stop offset="0.4310" stop-color="#0002ff"/><stop offset="0.4848" stop-color="#0c00ff"/><stop offset="0.5184" stop-color="#000cff"/><stop offset="0.5655" stop-color="#0068ff"/><stop offset="0.6194" stop-color="#00fff9"/><stop offset="0.6934" stop-color="#00ff06"/><stop offset="0.7472" stop-color="#00ff00"/><stop offset="0.7539" stop-color="#10ff00"/><stop offset="0.8010" stop-color="#f8ff00"/><stop offset="0.8817" stop-color="#ff7b00"/><stop offset="0.9692" stop-color="#ff3100"/><stop offset="1.0028" stop-color="#ff2100"/></linearGradient><linearGradient id="g124" gradientUnits="userSpaceOnUse" x1="137.8" y1="0" x2="567.6" y2="0"><stop offset="0.0004" stop-color="#ff3f00"/><stop offset="0.0812" stop-color="#ff9200"/><stop offset="0.1417" stop-color="#fffb00"/><stop offset="0.1686" stop-color="#8aff00"/><stop offset="0.1955" stop-color="#00ff00"/><stop offset="0.2494" stop-color="#00ff00"/><stop offset="0.3301" stop-color="#00fffc"/><stop offset="0.3906" stop-color="#005fff"/><stop offset="0.4377" stop-color="#0016ff"/><stop offset="0.4781" stop-color="#0008ff"/><stop offset="0.5252" stop-color="#0031ff"/><stop offset="0.5790" stop-color="#00a5ff"/><stop offset="0.6126" stop-color="#00fff6"/><stop offset="0.6866" stop-color="#00ff09"/><stop offset="0.7404" stop-color="#00ff00"/><stop offset="0.7472" stop-color="#08ff00"/><stop offset="0.7943" stop-color="#f1ff00"/><stop offset="0.8077" stop-color="#ffea00"/><stop offset="0.8817" stop-color="#ff7500"/><stop offset="0.9692" stop-color="#ff2e00"/><stop offset="1.0028" stop-color="#ff2000"/></linearGradient><linearGradient id="g125" gradientUnits="userSpaceOnUse" x1="137.8" y1="0" x2="567.6" y2="0"><stop offset="0.0004" stop-color="#ff3c00"/><stop offset="0.0812" stop-color="#ff8b00"/><stop offset="0.1484" stop-color="#fdff00"/><stop offset="0.1955" stop-color="#17ff00"/><stop offset="0.2023" stop-color="#00ff00"/><stop offset="0.2561" stop-color="#00ff00"/><stop offset="0.3368" stop-color="#00fffb"/><stop offset="0.3974" stop-color="#0069ff"/><stop offset="0.4444" stop-color="#0029ff"/><stop offset="0.4848" stop-color="#0022ff"/><stop offset="0.5319" stop-color="#0054ff"/><stop offset="0.5857" stop-color="#00ceff"/><stop offset="0.6059" stop-color="#00fff6"/><stop offset="0.6866" stop-color="#00ff00"/><stop offset="0.7404" stop-color="#00ff00"/><stop offset="0.7875" stop-color="#e8ff00"/><stop offset="0.7943" stop-color="#fffc00"/><stop offset="0.8683" stop-color="#ff8000"/><stop offset="0.9490" stop-color="#ff3600"/><stop offset="1.0028" stop-color="#ff1e00"/></linearGradient><linearGradient id="g126" gradientUnits="userSpaceOnUse" x1="137.8" y1="0" x2="567.6" y2="0"><stop offset="0.0004" stop-color="#ff3b00"/><stop offset="0.0812" stop-color="#ff8a00"/><stop offset="0.1484" stop-color="#fffd00"/><stop offset="0.1888" stop-color="#43ff00"/><stop offset="0.2023" stop-color="#00ff00"/><stop offset="0.2561" stop-color="#00ff00"/><stop offset="0.3368" stop-color="#00fff5"/><stop offset="0.3704" stop-color="#00acff"/><stop offset="0.4175" stop-color="#004eff"/><stop offset="0.4646" stop-color="#0027ff"/><stop offset="0.5117" stop-color="#003fff"/><stop offset="0.5588" stop-color="#0091ff"/><stop offset="0.5992" stop-color="#00fbff"/><stop offset="0.6799" stop-color="#00ff09"/><stop offset="0.7404" stop-color="#05ff00"/><stop offset="0.7875" stop-color="#eeff00"/><stop offset="0.7943" stop-color="#fff900"/><stop offset="0.8683" stop-color="#ff7e00"/><stop offset="0.9490" stop-color="#ff3600"/><stop offset="1.0028" stop-color="#ff1d00"/></linearGradient><linearGradient id="g127" gradientUnits="userSpaceOnUse" x1="137.8" y1="0" x2="567.6" y2="0"><stop offset="0.0004" stop-color="#ff3300"/><stop offset="0.0812" stop-color="#ff7a00"/><stop offset="0.1552" stop-color="#fff200"/><stop offset="0.1619" stop-color="#fdff00"/><stop offset="0.2157" stop-color="#00ff00"/><stop offset="0.2695" stop-color="#00ff00"/><stop offset="0.3570" stop-color="#00fff5"/><stop offset="0.3906" stop-color="#00baff"/><stop offset="0.4377" stop-color="#0075ff"/><stop offset="0.4781" stop-color="#0067ff"/><stop offset="0.5184" stop-color="#0085ff"/><stop offset="0.5723" stop-color="#00ecff"/><stop offset="0.5857" stop-color="#00fff0"/><stop offset="0.6664" stop-color="#00ff06"/><stop offset="0.7270" stop-color="#00ff00"/><stop offset="0.7741" stop-color="#e8ff00"/><stop offset="0.7808" stop-color="#fffc00"/><stop offset="0.8548" stop-color="#ff8000"/><stop offset="0.9423" stop-color="#ff3200"/><stop offset="1.0028" stop-color="#ff1a00"/></linearGradient><linearGradient id="g128" gradientUnits="userSpaceOnUse" x1="137.8" y1="0" x2="567.6" y2="0"><stop offset="0.0004" stop-color="#ff2e00"/><stop offset="0.0879" stop-color="#ff7700"/><stop offset="0.1619" stop-color="#ffec00"/><stop offset="0.1686" stop-color="#fffa00"/><stop offset="0.1888" stop-color="#b1ff00"/><stop offset="0.2224" stop-color="#0aff00"/><stop offset="0.2494" stop-color="#00ff00"/><stop offset="0.2830" stop-color="#00ff00"/><stop offset="0.3704" stop-color="#00ffe9"/><stop offset="0.3906" stop-color="#00eaff"/><stop offset="0.4377" stop-color="#00a6ff"/><stop offset="0.4848" stop-color="#009aff"/><stop offset="0.5319" stop-color="#00c9ff"/><stop offset="0.5588" stop-color="#00fcff"/><stop offset="0.6194" stop-color="#00ff6c"/><stop offset="0.6597" stop-color="#00ff00"/><stop offset="0.7135" stop-color="#00ff00"/><stop offset="0.7270" stop-color="#36ff00"/><stop offset="0.7674" stop-color="#f5ff00"/><stop offset="0.8010" stop-color="#ffc300"/><stop offset="0.8750" stop-color="#ff5f00"/><stop offset="0.9692" stop-color="#ff2100"/><stop offset="1.0028" stop-color="#ff1700"/></linearGradient><linearGradient id="g129" gradientUnits="userSpaceOnUse" x1="137.8" y1="0" x2="567.6" y2="0"><stop offset="0.0004" stop-color="#ff2c00"/><stop offset="0.0879" stop-color="#ff7200"/><stop offset="0.1619" stop-color="#ffe300"/><stop offset="0.1754" stop-color="#fffe00"/><stop offset="0.2292" stop-color="#00ff00"/><stop offset="0.2897" stop-color="#00ff00"/><stop offset="0.3704" stop-color="#00ffd5"/><stop offset="0.3906" stop-color="#00ffff"/><stop offset="0.4444" stop-color="#00b7ff"/><stop offset="0.4915" stop-color="#00b4ff"/><stop offset="0.5386" stop-color="#00eaff"/><stop offset="0.5588" stop-color="#00ffee"/><stop offset="0.6328" stop-color="#00ff34"/><stop offset="0.6530" stop-color="#00ff00"/><stop offset="0.7135" stop-color="#09ff00"/><stop offset="0.7606" stop-color="#ecff00"/><stop offset="0.7674" stop-color="#fffa00"/><stop offset="0.8414" stop-color="#ff8000"/><stop offset="0.9221" stop-color="#ff3600"/><stop offset="1.0028" stop-color="#ff1600"/></linearGradient><linearGradient id="g130" gradientUnits="userSpaceOnUse" x1="137.8" y1="0" x2="567.6" y2="0"><stop offset="0.0004" stop-color="#ff2700"/><stop offset="0.0879" stop-color="#ff6600"/><stop offset="0.1619" stop-color="#ffcf00"/><stop offset="0.1888" stop-color="#f6ff00"/><stop offset="0.2426" stop-color="#00ff00"/><stop offset="0.3032" stop-color="#00ff00"/><stop offset="0.3839" stop-color="#00ffc2"/><stop offset="0.4243" stop-color="#00ffff"/><stop offset="0.4714" stop-color="#00e4ff"/><stop offset="0.5252" stop-color="#00fff5"/><stop offset="0.5790" stop-color="#00ff94"/><stop offset="0.6395" stop-color="#00ff00"/><stop offset="0.7001" stop-color="#01ff00"/><stop offset="0.7539" stop-color="#feff00"/><stop offset="0.8279" stop-color="#ff8400"/><stop offset="0.9086" stop-color="#ff3800"/><stop offset="1.0028" stop-color="#ff1400"/></linearGradient><linearGradient id="g131" gradientUnits="userSpaceOnUse" x1="137.8" y1="0" x2="567.6" y2="0"><stop offset="0.0004" stop-color="#ff2200"/><stop offset="0.0946" stop-color="#ff6000"/><stop offset="0.1686" stop-color="#ffc500"/><stop offset="0.2023" stop-color="#f5ff00"/><stop offset="0.2561" stop-color="#00ff00"/><stop offset="0.3234" stop-color="#00ff04"/><stop offset="0.3906" stop-color="#00ff97"/><stop offset="0.4444" stop-color="#00ffd7"/><stop offset="0.4915" stop-color="#00ffda"/><stop offset="0.5454" stop-color="#00ff9f"/><stop offset="0.6126" stop-color="#00ff10"/><stop offset="0.6261" stop-color="#00ff00"/><stop offset="0.6866" stop-color="#05ff00"/><stop offset="0.7404" stop-color="#fcff00"/><stop offset="0.8212" stop-color="#ff7c00"/><stop offset="0.9086" stop-color="#ff3000"/><stop offset="1.0028" stop-color="#ff1100"/></linearGradient><linearGradient id="g132" gradientUnits="userSpaceOnUse" x1="137.8" y1="0" x2="567.6" y2="0"><stop offset="0.0004" stop-color="#ff1e00"/><stop offset="0.0946" stop-color="#ff5800"/><stop offset="0.1686" stop-color="#ffb500"/><stop offset="0.2090" stop-color="#fffe00"/><stop offset="0.2628" stop-color="#0fff00"/><stop offset="0.2763" stop-color="#00ff00"/><stop offset="0.3368" stop-color="#00ff03"/><stop offset="0.3974" stop-color="#00ff7b"/><stop offset="0.4512" stop-color="#00ffb2"/><stop offset="0.4983" stop-color="#00ffad"/><stop offset="0.5454" stop-color="#00ff78"/><stop offset="0.6059" stop-color="#00ff00"/><stop offset="0.6732" stop-color="#00ff00"/><stop offset="0.7270" stop-color="#ecff00"/><stop offset="0.7337" stop-color="#fffb00"/><stop offset="0.8077" stop-color="#ff8200"/><stop offset="0.8952" stop-color="#ff3300"/><stop offset="1.0028" stop-color="#ff1000"/></linearGradient><linearGradient id="g133" gradientUnits="userSpaceOnUse" x1="137.8" y1="0" x2="567.6" y2="0"><stop offset="0.0004" stop-color="#ff1b00"/><stop offset="0.1014" stop-color="#ff5400"/><stop offset="0.1821" stop-color="#ffba00"/><stop offset="0.2224" stop-color="#f7ff00"/><stop offset="0.2763" stop-color="#0bff00"/><stop offset="0.2964" stop-color="#00ff00"/><stop offset="0.3570" stop-color="#00ff08"/><stop offset="0.4175" stop-color="#00ff6b"/><stop offset="0.4714" stop-color="#00ff89"/><stop offset="0.5252" stop-color="#00ff68"/><stop offset="0.5924" stop-color="#00ff00"/><stop offset="0.6597" stop-color="#00ff00"/><stop offset="0.6866" stop-color="#6fff00"/><stop offset="0.7203" stop-color="#feff00"/><stop offset="0.8010" stop-color="#ff7e00"/><stop offset="0.8885" stop-color="#ff3100"/><stop offset="1.0028" stop-color="#ff0e00"/></linearGradient><linearGradient id="g134" gradientUnits="userSpaceOnUse" x1="137.8" y1="0" x2="567.6" y2="0"><stop offset="0.0004" stop-color="#ff1900"/><stop offset="0.1014" stop-color="#ff4e00"/><stop offset="0.1821" stop-color="#ffae00"/><stop offset="0.2292" stop-color="#fdff00"/><stop offset="0.2897" stop-color="#00ff00"/><stop offset="0.3704" stop-color="#00ff06"/><stop offset="0.4310" stop-color="#00ff59"/><stop offset="0.4781" stop-color="#00ff69"/><stop offset="0.5319" stop-color="#00ff42"/><stop offset="0.5790" stop-color="#00ff00"/><stop offset="0.6530" stop-color="#01ff00"/><stop offset="0.7135" stop-color="#fffd00"/><stop offset="0.7943" stop-color="#ff7d00"/><stop offset="0.8817" stop-color="#ff3100"/><stop offset="1.0028" stop-color="#ff0d00"/></linearGradient><linearGradient id="g135" gradientUnits="userSpaceOnUse" x1="137.8" y1="0" x2="567.6" y2="0"><stop offset="0.0004" stop-color="#ff1600"/><stop offset="0.1014" stop-color="#ff4400"/><stop offset="0.1821" stop-color="#ff9b00"/><stop offset="0.2426" stop-color="#ffff00"/><stop offset="0.3032" stop-color="#07ff00"/><stop offset="0.3974" stop-color="#00ff01"/><stop offset="0.4512" stop-color="#00ff32"/><stop offset="0.5050" stop-color="#00ff29"/><stop offset="0.5521" stop-color="#00ff00"/><stop offset="0.6328" stop-color="#00ff00"/><stop offset="0.6463" stop-color="#2bff00"/><stop offset="0.7001" stop-color="#fffc00"/><stop offset="0.7808" stop-color="#ff7e00"/><stop offset="0.8683" stop-color="#ff3200"/><stop offset="0.9961" stop-color="#ff0d00"/><stop offset="1.0028" stop-color="#ff0c00"/></linearGradient><linearGradient id="g136" gradientUnits="userSpaceOnUse" x1="137.8" y1="0" x2="567.6" y2="0"><stop offset="0.0004" stop-color="#ff1400"/><stop offset="0.1081" stop-color="#ff4300"/><stop offset="0.1955" stop-color="#ffa100"/><stop offset="0.2494" stop-color="#fff800"/><stop offset="0.2628" stop-color="#daff00"/><stop offset="0.3166" stop-color="#05ff00"/><stop offset="0.4377" stop-color="#00ff07"/><stop offset="0.4915" stop-color="#00ff0d"/><stop offset="0.5521" stop-color="#00ff00"/><stop offset="0.6194" stop-color="#00ff00"/><stop offset="0.6328" stop-color="#27ff00"/><stop offset="0.6866" stop-color="#faff00"/><stop offset="0.7808" stop-color="#ff7300"/><stop offset="0.8750" stop-color="#ff2900"/><stop offset="1.0028" stop-color="#ff0b00"/></linearGradient><linearGradient id="g137" gradientUnits="userSpaceOnUse" x1="137.8" y1="0" x2="567.6" y2="0"><stop offset="0.0004" stop-color="#ff1300"/><stop offset="0.1081" stop-color="#ff4000"/><stop offset="0.1955" stop-color="#ff9a00"/><stop offset="0.2561" stop-color="#fffb00"/><stop offset="0.3234" stop-color="#05ff00"/><stop offset="0.6126" stop-color="#00ff00"/><stop offset="0.6261" stop-color="#26ff00"/><stop offset="0.6799" stop-color="#f5ff00"/><stop offset="0.7135" stop-color="#ffca00"/><stop offset="0.8010" stop-color="#ff5a00"/><stop offset="0.9019" stop-color="#ff1d00"/><stop offset="1.0028" stop-color="#ff0b00"/></linearGradient><linearGradient id="g138" gradientUnits="userSpaceOnUse" x1="137.8" y1="0" x2="567.6" y2="0"><stop offset="0.0004" stop-color="#ff1000"/><stop offset="0.1148" stop-color="#ff3a00"/><stop offset="0.2023" stop-color="#ff8d00"/><stop offset="0.2763" stop-color="#fffc00"/><stop offset="0.3503" stop-color="#05ff00"/><stop offset="0.5857" stop-color="#00ff00"/><stop offset="0.6059" stop-color="#38ff00"/><stop offset="0.6597" stop-color="#f5ff00"/><stop offset="0.6934" stop-color="#ffcd00"/><stop offset="0.7875" stop-color="#ff5700"/><stop offset="0.8885" stop-color="#ff1c00"/><stop offset="1.0028" stop-color="#ff0a00"/></linearGradient><linearGradient id="g139" gradientUnits="userSpaceOnUse" x1="137.8" y1="0" x2="567.6" y2="0"><stop offset="0.0004" stop-color="#ff0f00"/><stop offset="0.1215" stop-color="#ff3b00"/><stop offset="0.2090" stop-color="#ff8e00"/><stop offset="0.2830" stop-color="#fffc00"/><stop offset="0.3637" stop-color="#00ff00"/><stop offset="0.5790" stop-color="#01ff00"/><stop offset="0.6530" stop-color="#f5ff00"/><stop offset="0.6866" stop-color="#ffce00"/><stop offset="0.7741" stop-color="#ff5f00"/><stop offset="0.8750" stop-color="#ff1f00"/><stop offset="1.0028" stop-color="#ff0900"/></linearGradient><linearGradient id="g140" gradientUnits="userSpaceOnUse" x1="137.8" y1="0" x2="567.6" y2="0"><stop offset="0.0004" stop-color="#ff1000"/><stop offset="0.1148" stop-color="#ff3900"/><stop offset="0.2023" stop-color="#ff8b00"/><stop offset="0.2763" stop-color="#fff900"/><stop offset="0.2897" stop-color="#ddff00"/><stop offset="0.3503" stop-color="#0dff00"/><stop offset="0.3637" stop-color="#00ff00"/><stop offset="0.5857" stop-color="#00ff00"/><stop offset="0.6597" stop-color="#faff00"/><stop offset="0.7606" stop-color="#ff7100"/><stop offset="0.8548" stop-color="#ff2900"/><stop offset="1.0028" stop-color="#ff0a00"/></linearGradient><linearGradient id="g141" gradientUnits="userSpaceOnUse" x1="137.8" y1="0" x2="567.6" y2="0"><stop offset="0.0004" stop-color="#ff1000"/><stop offset="0.1215" stop-color="#ff3b00"/><stop offset="0.2090" stop-color="#ff8f00"/><stop offset="0.2830" stop-color="#fffe00"/><stop offset="0.3570" stop-color="#0aff00"/><stop offset="0.3906" stop-color="#00ff00"/><stop offset="0.5790" stop-color="#00ff00"/><stop offset="0.6597" stop-color="#fffb00"/><stop offset="0.7539" stop-color="#ff7500"/><stop offset="0.8481" stop-color="#ff2b00"/><stop offset="0.9961" stop-color="#ff0a00"/><stop offset="1.0028" stop-color="#ff0900"/></linearGradient><linearGradient id="cbd" gradientUnits="userSpaceOnUse" x1="0" y1="733.9" x2="0" y2="626.01"><stop offset="0.000" stop-color="#ff0000"/><stop offset="0.212" stop-color="#ffff00"/><stop offset="0.315" stop-color="#00ff00"/><stop offset="0.450" stop-color="#00ff00"/><stop offset="0.650" stop-color="#00ffff"/><stop offset="0.840" stop-color="#0000ff"/><stop offset="1.000" stop-color="#8c00ff"/></linearGradient></defs><rect width="2000" height="1080" fill="#fff"/><g clip-path="url(#clA)"><g filter="url(#jA)"><rect x="133.3" y="423.36" width="436.9" height="15.14" fill="url(#g1)"/><rect x="133.3" y="415.73" width="436.9" height="9.14" fill="url(#g2)"/><rect x="133.3" y="408.09" width="436.9" height="9.14" fill="url(#g3)"/><rect x="133.3" y="400.45" width="436.9" height="9.14" fill="url(#g4)"/><rect x="133.3" y="392.81" width="436.9" height="9.14" fill="url(#g5)"/><rect x="133.3" y="385.18" width="436.9" height="9.14" fill="url(#g6)"/><rect x="133.3" y="377.54" width="436.9" height="9.14" fill="url(#g7)"/><rect x="133.3" y="369.9" width="436.9" height="9.14" fill="url(#g8)"/><rect x="133.3" y="362.26" width="436.9" height="9.14" fill="url(#g9)"/><rect x="133.3" y="354.63" width="436.9" height="9.14" fill="url(#g10)"/><rect x="133.3" y="346.99" width="436.9" height="9.14" fill="url(#g11)"/><rect x="133.3" y="339.35" width="436.9" height="9.14" fill="url(#g12)"/><rect x="133.3" y="331.72" width="436.9" height="9.14" fill="url(#g13)"/><rect x="133.3" y="324.08" width="436.9" height="9.14" fill="url(#g14)"/><rect x="133.3" y="316.44" width="436.9" height="9.14" fill="url(#g15)"/><rect x="133.3" y="308.8" width="436.9" height="9.14" fill="url(#g16)"/><rect x="133.3" y="301.17" width="436.9" height="9.14" fill="url(#g17)"/><rect x="133.3" y="293.53" width="436.9" height="9.14" fill="url(#g18)"/><rect x="133.3" y="285.89" width="436.9" height="9.14" fill="url(#g19)"/><rect x="133.3" y="278.25" width="436.9" height="9.14" fill="url(#g20)"/><rect x="133.3" y="270.62" width="436.9" height="9.14" fill="url(#g21)"/><rect x="133.3" y="262.98" width="436.9" height="9.14" fill="url(#g22)"/><rect x="133.3" y="255.34" width="436.9" height="9.14" fill="url(#g23)"/><rect x="133.3" y="247.71" width="436.9" height="9.14" fill="url(#g24)"/><rect x="133.3" y="240.07" width="436.9" height="9.14" fill="url(#g25)"/><rect x="133.3" y="232.43" width="436.9" height="9.14" fill="url(#g26)"/><rect x="133.3" y="224.79" width="436.9" height="9.14" fill="url(#g27)"/><rect x="133.3" y="217.16" width="436.9" height="9.14" fill="url(#g28)"/><rect x="133.3" y="209.52" width="436.9" height="9.14" fill="url(#g29)"/><rect x="133.3" y="201.88" width="436.9" height="9.14" fill="url(#g30)"/><rect x="133.3" y="194.25" width="436.9" height="9.14" fill="url(#g31)"/><rect x="133.3" y="186.61" width="436.9" height="9.14" fill="url(#g32)"/><rect x="133.3" y="178.97" width="436.9" height="9.14" fill="url(#g33)"/><rect x="133.3" y="171.33" width="436.9" height="9.14" fill="url(#g34)"/><rect x="133.3" y="163.7" width="436.9" height="9.14" fill="url(#g35)"/><rect x="133.3" y="156.06" width="436.9" height="9.14" fill="url(#g36)"/><rect x="133.3" y="148.42" width="436.9" height="9.14" fill="url(#g37)"/><rect x="133.3" y="140.78" width="436.9" height="9.14" fill="url(#g38)"/><rect x="133.3" y="133.15" width="436.9" height="9.14" fill="url(#g39)"/><rect x="133.3" y="125.51" width="436.9" height="9.14" fill="url(#g40)"/><rect x="133.3" y="117.87" width="436.9" height="9.14" fill="url(#g41)"/><rect x="133.3" y="110.24" width="436.9" height="9.14" fill="url(#g42)"/><rect x="133.3" y="102.6" width="436.9" height="9.14" fill="url(#g43)"/><rect x="133.3" y="94.96" width="436.9" height="9.14" fill="url(#g44)"/><rect x="133.3" y="87.32" width="436.9" height="9.14" fill="url(#g45)"/><rect x="133.3" y="79.69" width="436.9" height="9.14" fill="url(#g46)"/><rect x="133.3" y="72.05" width="436.9" height="9.14" fill="url(#g47)"/><rect x="133.3" y="64.41" width="436.9" height="9.14" fill="url(#g48)"/><rect x="133.3" y="56.77" width="436.9" height="9.14" fill="url(#g49)"/><rect x="133.3" y="49.14" width="436.9" height="9.14" fill="url(#g50)"/><rect x="133.3" y="35.5" width="436.9" height="15.14" fill="url(#g51)"/></g></g><path d="M146.64 431.5v5.5M161.56 431.5v5.5M176.48 431.5v5.5M191.4 431.5v5.5M206.32 431.5v5.5M221.24 431.5v5.5M236.16 431.5v5.5M251.08 431.5v5.5M266 431.5v5.5M280.92 431.5v5.5M295.84 431.5v5.5M310.76 431.5v5.5M325.68 431.5v5.5M340.6 431.5v5.5M355.52 431.5v5.5M370.44 431.5v5.5M385.36 431.5v5.5M400.28 431.5v5.5M415.2 431.5v5.5M430.12 431.5v5.5M445.04 431.5v5.5M459.96 431.5v5.5M474.88 431.5v5.5M489.8 431.5v5.5M504.72 431.5v5.5M519.64 431.5v5.5M534.56 431.5v5.5M549.48 431.5v5.5M564.4 431.5v5.5" stroke="#5a5a5a" stroke-width="2" fill="none"/><path d="M191.4 431.5v10M266 431.5v10M340.6 431.5v10M415.2 431.5v10M489.8 431.5v10M564.4 431.5v10" stroke="#5a5a5a" stroke-width="2" fill="none"/><path d="M146.64 36.7v-5.5M161.56 36.7v-5.5M176.48 36.7v-5.5M191.4 36.7v-5.5M206.32 36.7v-5.5M221.24 36.7v-5.5M236.16 36.7v-5.5M251.08 36.7v-5.5M266 36.7v-5.5M280.92 36.7v-5.5M295.84 36.7v-5.5M310.76 36.7v-5.5M325.68 36.7v-5.5M340.6 36.7v-5.5M355.52 36.7v-5.5M370.44 36.7v-5.5M385.36 36.7v-5.5M400.28 36.7v-5.5M415.2 36.7v-5.5M430.12 36.7v-5.5M445.04 36.7v-5.5M459.96 36.7v-5.5M474.88 36.7v-5.5M489.8 36.7v-5.5M504.72 36.7v-5.5M519.64 36.7v-5.5M534.56 36.7v-5.5M549.48 36.7v-5.5M564.4 36.7v-5.5" stroke="#5a5a5a" stroke-width="2" fill="none"/><path d="M191.4 36.7v-10M266 36.7v-10M340.6 36.7v-10M415.2 36.7v-10M489.8 36.7v-10M564.4 36.7v-10" stroke="#5a5a5a" stroke-width="2" fill="none"/><path d="M138.6 431.1h-5.5M138.6 409.91h-5.5M138.6 388.72h-5.5M138.6 367.53h-5.5M138.6 346.34h-5.5M138.6 325.15h-5.5M138.6 303.96h-5.5M138.6 282.77h-5.5M138.6 261.58h-5.5M138.6 240.39h-5.5M138.6 219.2h-5.5M138.6 198.01h-5.5M138.6 176.82h-5.5M138.6 155.63h-5.5M138.6 134.44h-5.5M138.6 113.25h-5.5M138.6 92.06h-5.5M138.6 70.87h-5.5M138.6 49.68h-5.5" stroke="#5a5a5a" stroke-width="2" fill="none"/><path d="M138.6 431.1h-10M138.6 325.15h-10M138.6 219.2h-10M138.6 113.25h-10" stroke="#5a5a5a" stroke-width="2" fill="none"/><path d="M565 431.1h5.5M565 409.91h5.5M565 388.72h5.5M565 367.53h5.5M565 346.34h5.5M565 325.15h5.5M565 303.96h5.5M565 282.77h5.5M565 261.58h5.5M565 240.39h5.5M565 219.2h5.5M565 198.01h5.5M565 176.82h5.5M565 155.63h5.5M565 134.44h5.5M565 113.25h5.5M565 92.06h5.5M565 70.87h5.5M565 49.68h5.5" stroke="#5a5a5a" stroke-width="2" fill="none"/><path d="M565 431.1h10M565 325.15h10M565 219.2h10M565 113.25h10" stroke="#5a5a5a" stroke-width="2" fill="none"/><rect x="138.6" y="36.7" width="426.4" height="394.8" fill="none" stroke="#6a6a6a" stroke-width="2"/><text transform="translate(123.5 445.61) scale(0.965 1)" font-family="Liberation Sans, sans-serif" font-size="43.5" text-anchor="end">0.0</text><text transform="translate(123.5 339.66) scale(0.965 1)" font-family="Liberation Sans, sans-serif" font-size="43.5" text-anchor="end">0.5</text><text transform="translate(123.5 233.71) scale(0.965 1)" font-family="Liberation Sans, sans-serif" font-size="43.5" text-anchor="end">1.0</text><text transform="translate(123.5 127.76) scale(0.965 1)" font-family="Liberation Sans, sans-serif" font-size="43.5" text-anchor="end">1.5</text><text transform="translate(191.4 484.4) scale(0.965 1)" font-family="Liberation Sans, sans-serif" font-size="43.5" text-anchor="middle">0.0</text><text transform="translate(266 484.4) scale(0.965 1)" font-family="Liberation Sans, sans-serif" font-size="43.5" text-anchor="middle">0.1</text><text transform="translate(340.6 484.4) scale(0.965 1)" font-family="Liberation Sans, sans-serif" font-size="43.5" text-anchor="middle">0.2</text><text transform="translate(415.2 484.4) scale(0.965 1)" font-family="Liberation Sans, sans-serif" font-size="43.5" text-anchor="middle">0.3</text><text transform="translate(489.8 484.4) scale(0.965 1)" font-family="Liberation Sans, sans-serif" font-size="43.5" text-anchor="middle">0.4</text><text transform="translate(564.4 484.4) scale(0.965 1)" font-family="Liberation Sans, sans-serif" font-size="43.5" text-anchor="middle">0.5</text><g transform="translate(351.5 533) scale(0.983 1)"><text x="-89.36" y="0" font-family="Liberation Sans, sans-serif" font-size="42.5">Time (µs)</text></g><g transform="translate(36.2 234.1) rotate(-90) scale(0.946 1)"><text x="-95.46" y="0" font-family="Liberation Serif, serif" font-size="43.26" font-style="italic">B</text><text x="-68.54" y="11.21" font-family="Liberation Sans, sans-serif" font-size="29.4">1,RF</text><text x="6.84" y="0" font-family="Liberation Sans, sans-serif" font-size="42">(mT)</text></g><rect x="632.2" y="82.8" width="15.6" height="113.9" fill="url(#cba)" stroke="#333" stroke-width="1"/><path d="M632.2 195.6h-6.5M632.2 184.54h-6.5M632.2 173.48h-6.5M632.2 162.42h-6.5M632.2 151.36h-6.5M632.2 140.3h-6.5M632.2 129.24h-6.5M632.2 118.18h-6.5M632.2 107.12h-6.5M632.2 96.06h-6.5M632.2 85h-6.5" stroke="#222" stroke-width="2" fill="none"/><path d="M632.2 195.6h-13.5M632.2 151.36h-13.5M632.2 107.12h-13.5" stroke="#222" stroke-width="2" fill="none"/><text transform="translate(610.9 200.34)" font-family="Liberation Sans, sans-serif" font-size="22" text-anchor="end">0</text><text transform="translate(610.9 156.1)" font-family="Liberation Sans, sans-serif" font-size="22" text-anchor="end">2</text><text transform="translate(610.9 111.86)" font-family="Liberation Sans, sans-serif" font-size="22" text-anchor="end">4</text><text transform="translate(592.9 140.45) rotate(-90) scale(1.03 1)" font-family="Liberation Sans, sans-serif" font-size="23" text-anchor="middle">Echo Ampl. (mV)</text><path d="M833.3 422.2v6M854.75 422.2v6M876.2 422.2v6M897.65 422.2v6M919.1 422.2v6M940.55 422.2v6M962 422.2v6M983.45 422.2v6M1004.9 422.2v6M1026.35 422.2v6M1047.8 422.2v6M1069.25 422.2v6M1090.7 422.2v6M1112.15 422.2v6M1133.6 422.2v6M1155.05 422.2v6M1176.5 422.2v6M1197.95 422.2v6M1219.4 422.2v6" stroke="#5a5a5a" stroke-width="2" fill="none"/><path d="M833.3 422.2v10.5M940.55 422.2v10.5M1047.8 422.2v10.5M1155.05 422.2v10.5" stroke="#5a5a5a" stroke-width="2" fill="none"/><path d="M833.3 43v-6M854.75 43v-6M876.2 43v-6M897.65 43v-6M919.1 43v-6M940.55 43v-6M962 43v-6M983.45 43v-6M1004.9 43v-6M1026.35 43v-6M1047.8 43v-6M1069.25 43v-6M1090.7 43v-6M1112.15 43v-6M1133.6 43v-6M1155.05 43v-6M1176.5 43v-6M1197.95 43v-6M1219.4 43v-6" stroke="#5a5a5a" stroke-width="2" fill="none"/><path d="M833.3 43v-10.5M940.55 43v-10.5M1047.8 43v-10.5M1155.05 43v-10.5" stroke="#5a5a5a" stroke-width="2" fill="none"/><path d="M825.4 413.76h-6M825.4 392.43h-6M825.4 371.1h-6M825.4 349.77h-6M825.4 328.44h-6M825.4 307.11h-6M825.4 285.78h-6M825.4 264.45h-6M825.4 243.12h-6M825.4 221.79h-6M825.4 200.46h-6M825.4 179.13h-6M825.4 157.8h-6M825.4 136.47h-6M825.4 115.14h-6M825.4 93.81h-6M825.4 72.48h-6M825.4 51.15h-6" stroke="#5a5a5a" stroke-width="2" fill="none"/><path d="M825.4 371.1h-10.5M825.4 264.45h-10.5M825.4 157.8h-10.5M825.4 51.15h-10.5" stroke="#5a5a5a" stroke-width="2" fill="none"/><path d="M1240.2 413.76h6M1240.2 392.43h6M1240.2 371.1h6M1240.2 349.77h6M1240.2 328.44h6M1240.2 307.11h6M1240.2 285.78h6M1240.2 264.45h6M1240.2 243.12h6M1240.2 221.79h6M1240.2 200.46h6M1240.2 179.13h6M1240.2 157.8h6M1240.2 136.47h6M1240.2 115.14h6M1240.2 93.81h6M1240.2 72.48h6M1240.2 51.15h6" stroke="#5a5a5a" stroke-width="2" fill="none"/><path d="M1240.2 371.1h10.5M1240.2 264.45h10.5M1240.2 157.8h10.5M1240.2 51.15h10.5" stroke="#5a5a5a" stroke-width="2" fill="none"/><rect x="825.4" y="43" width="414.8" height="379.2" fill="none" stroke="#6a6a6a" stroke-width="2"/><polyline points="833.3,128.1 841.22,115.6 849.14,133.7 857.06,130.9 864.98,123.5 872.9,134.6 880.82,131.9 888.74,144.8 896.66,132.8 904.58,136.5 912.5,133.7 920.42,144.8 928.34,142 936.26,141.1 944.18,157.4 952.1,153.1 960.02,160.6 967.94,163.7 975.86,161.5 983.78,178.1 991.7,177.2 999.62,189.3 1007.54,193.9 1015.46,184.6 1023.38,197.6 1031.3,202.2 1039.22,204.2 1047.14,225 1055.06,219.3 1062.98,231.8 1070.9,235.6 1078.82,235.1 1086.74,244.4 1094.66,258.2 1102.58,254 1110.5,267.8 1118.42,272.2 1126.34,284.4 1134.26,287.1 1142.18,288.9 1150.1,304.4 1158.02,307.1 1165.94,324.4 1173.86,321.1 1181.78,333.3 1189.7,338.9 1197.62,348.4 1205.54,351.1 1213.46,368.9 1221.38,371.6 1229.3,384" fill="none" stroke="#ff4040" stroke-width="1.2" stroke-dasharray="1.5 2" opacity="0.6"/><circle cx="833.3" cy="128.1" r="6.8" fill="#ff0000" stroke="#000" stroke-width="2"/><circle cx="841.22" cy="115.6" r="6.8" fill="#ff0000" stroke="#000" stroke-width="2"/><circle cx="849.14" cy="133.7" r="6.8" fill="#ff0000" stroke="#000" stroke-width="2"/><circle cx="857.06" cy="130.9" r="6.8" fill="#ff0000" stroke="#000" stroke-width="2"/><circle cx="864.98" cy="123.5" r="6.8" fill="#ff0000" stroke="#000" stroke-width="2"/><circle cx="872.9" cy="134.6" r="6.8" fill="#ff0000" stroke="#000" stroke-width="2"/><circle cx="880.82" cy="131.9" r="6.8" fill="#ff0000" stroke="#000" stroke-width="2"/><circle cx="888.74" cy="144.8" r="6.8" fill="#ff0000" stroke="#000" stroke-width="2"/><circle cx="896.66" cy="132.8" r="6.8" fill="#ff0000" stroke="#000" stroke-width="2"/><circle cx="904.58" cy="136.5" r="6.8" fill="#ff0000" stroke="#000" stroke-width="2"/><circle cx="912.5" cy="133.7" r="6.8" fill="#ff0000" stroke="#000" stroke-width="2"/><circle cx="920.42" cy="144.8" r="6.8" fill="#ff0000" stroke="#000" stroke-width="2"/><circle cx="928.34" cy="142" r="6.8" fill="#ff0000" stroke="#000" stroke-width="2"/><circle cx="936.26" cy="141.1" r="6.8" fill="#ff0000" stroke="#000" stroke-width="2"/><circle cx="944.18" cy="157.4" r="6.8" fill="#ff0000" stroke="#000" stroke-width="2"/><circle cx="952.1" cy="153.1" r="6.8" fill="#ff0000" stroke="#000" stroke-width="2"/><circle cx="960.02" cy="160.6" r="6.8" fill="#ff0000" stroke="#000" stroke-width="2"/><circle cx="967.94" cy="163.7" r="6.8" fill="#ff0000" stroke="#000" stroke-width="2"/><circle cx="975.86" cy="161.5" r="6.8" fill="#ff0000" stroke="#000" stroke-width="2"/><circle cx="983.78" cy="178.1" r="6.8" fill="#ff0000" stroke="#000" stroke-width="2"/><circle cx="991.7" cy="177.2" r="6.8" fill="#ff0000" stroke="#000" stroke-width="2"/><circle cx="999.62" cy="189.3" r="6.8" fill="#ff0000" stroke="#000" stroke-width="2"/><circle cx="1007.54" cy="193.9" r="6.8" fill="#ff0000" stroke="#000" stroke-width="2"/><circle cx="1015.46" cy="184.6" r="6.8" fill="#ff0000" stroke="#000" stroke-width="2"/><circle cx="1023.38" cy="197.6" r="6.8" fill="#ff0000" stroke="#000" stroke-width="2"/><circle cx="1031.3" cy="202.2" r="6.8" fill="#ff0000" stroke="#000" stroke-width="2"/><circle cx="1039.22" cy="204.2" r="6.8" fill="#ff0000" stroke="#000" stroke-width="2"/><circle cx="1047.14" cy="225" r="6.8" fill="#ff0000" stroke="#000" stroke-width="2"/><circle cx="1055.06" cy="219.3" r="6.8" fill="#ff0000" stroke="#000" stroke-width="2"/><circle cx="1062.98" cy="231.8" r="6.8" fill="#ff0000" stroke="#000" stroke-width="2"/><circle cx="1070.9" cy="235.6" r="6.8" fill="#ff0000" stroke="#000" stroke-width="2"/><circle cx="1078.82" cy="235.1" r="6.8" fill="#ff0000" stroke="#000" stroke-width="2"/><circle cx="1086.74" cy="244.4" r="6.8" fill="#ff0000" stroke="#000" stroke-width="2"/><circle cx="1094.66" cy="258.2" r="6.8" fill="#ff0000" stroke="#000" stroke-width="2"/><circle cx="1102.58" cy="254" r="6.8" fill="#ff0000" stroke="#000" stroke-width="2"/><circle cx="1110.5" cy="267.8" r="6.8" fill="#ff0000" stroke="#000" stroke-width="2"/><circle cx="1118.42" cy="272.2" r="6.8" fill="#ff0000" stroke="#000" stroke-width="2"/><circle cx="1126.34" cy="284.4" r="6.8" fill="#ff0000" stroke="#000" stroke-width="2"/><circle cx="1134.26" cy="287.1" r="6.8" fill="#ff0000" stroke="#000" stroke-width="2"/><circle cx="1142.18" cy="288.9" r="6.8" fill="#ff0000" stroke="#000" stroke-width="2"/><circle cx="1150.1" cy="304.4" r="6.8" fill="#ff0000" stroke="#000" stroke-width="2"/><circle cx="1158.02" cy="307.1" r="6.8" fill="#ff0000" stroke="#000" stroke-width="2"/><circle cx="1165.94" cy="324.4" r="6.8" fill="#ff0000" stroke="#000" stroke-width="2"/><circle cx="1173.86" cy="321.1" r="6.8" fill="#ff0000" stroke="#000" stroke-width="2"/><circle cx="1181.78" cy="333.3" r="6.8" fill="#ff0000" stroke="#000" stroke-width="2"/><circle cx="1189.7" cy="338.9" r="6.8" fill="#ff0000" stroke="#000" stroke-width="2"/><circle cx="1197.62" cy="348.4" r="6.8" fill="#ff0000" stroke="#000" stroke-width="2"/><circle cx="1205.54" cy="351.1" r="6.8" fill="#ff0000" stroke="#000" stroke-width="2"/><circle cx="1213.46" cy="368.9" r="6.8" fill="#ff0000" stroke="#000" stroke-width="2"/><circle cx="1221.38" cy="371.6" r="6.8" fill="#ff0000" stroke="#000" stroke-width="2"/><circle cx="1229.3" cy="384" r="6.8" fill="#ff0000" stroke="#000" stroke-width="2"/><text transform="translate(809.52 385.61) scale(0.98 1)" font-family="Liberation Sans, sans-serif" font-size="43.5" text-anchor="end">1.0</text><text transform="translate(809.52 278.96) scale(0.98 1)" font-family="Liberation Sans, sans-serif" font-size="43.5" text-anchor="end">1.5</text><text transform="translate(809.52 172.31) scale(0.98 1)" font-family="Liberation Sans, sans-serif" font-size="43.5" text-anchor="end">2.0</text><text transform="translate(809.52 65.66) scale(0.98 1)" font-family="Liberation Sans, sans-serif" font-size="43.5" text-anchor="end">2.5</text><text transform="translate(833.3 477) scale(0.98 1)" font-family="Liberation Sans, sans-serif" font-size="43.5" text-anchor="middle">0.0</text><text transform="translate(940.55 477) scale(0.98 1)" font-family="Liberation Sans, sans-serif" font-size="43.5" text-anchor="middle">0.5</text><text transform="translate(1047.8 477) scale(0.98 1)" font-family="Liberation Sans, sans-serif" font-size="43.5" text-anchor="middle">1.0</text><text transform="translate(1155.05 477) scale(0.98 1)" font-family="Liberation Sans, sans-serif" font-size="43.5" text-anchor="middle">1.5</text><g transform="translate(1035 515.5) scale(0.992 1)"><text x="-95.63" y="0" font-family="Liberation Serif, serif" font-size="43.67" font-style="italic">B</text><text x="-68.46" y="13.31" font-family="Liberation Sans, sans-serif" font-size="29">1,RF</text><text x="6.17" y="0" font-family="Liberation Sans, sans-serif" font-size="42.4">(mT)</text></g><text transform="translate(719.7 233.15) rotate(-90) scale(0.985 1)" font-family="Liberation Sans, sans-serif" font-size="43.6" text-anchor="middle">Echo Ampl. (mV)</text><path d="M1499.4 418.7v6M1520.98 418.7v6M1542.56 418.7v6M1564.14 418.7v6M1585.72 418.7v6M1607.3 418.7v6M1628.88 418.7v6M1650.46 418.7v6M1672.04 418.7v6M1693.62 418.7v6M1715.2 418.7v6M1736.78 418.7v6M1758.36 418.7v6M1779.94 418.7v6M1801.52 418.7v6M1823.1 418.7v6M1844.68 418.7v6M1866.26 418.7v6M1887.84 418.7v6" stroke="#5a5a5a" stroke-width="2" fill="none"/><path d="M1499.4 418.7v10.5M1607.3 418.7v10.5M1715.2 418.7v10.5M1823.1 418.7v10.5" stroke="#5a5a5a" stroke-width="2" fill="none"/><path d="M1499.4 41.1v-6M1520.98 41.1v-6M1542.56 41.1v-6M1564.14 41.1v-6M1585.72 41.1v-6M1607.3 41.1v-6M1628.88 41.1v-6M1650.46 41.1v-6M1672.04 41.1v-6M1693.62 41.1v-6M1715.2 41.1v-6M1736.78 41.1v-6M1758.36 41.1v-6M1779.94 41.1v-6M1801.52 41.1v-6M1823.1 41.1v-6M1844.68 41.1v-6M1866.26 41.1v-6M1887.84 41.1v-6" stroke="#5a5a5a" stroke-width="2" fill="none"/><path d="M1499.4 41.1v-10.5M1607.3 41.1v-10.5M1715.2 41.1v-10.5M1823.1 41.1v-10.5" stroke="#5a5a5a" stroke-width="2" fill="none"/><path d="M1490.5 410.65h-6M1490.5 390.6h-6M1490.5 370.55h-6M1490.5 350.5h-6M1490.5 330.45h-6M1490.5 310.4h-6M1490.5 290.35h-6M1490.5 270.3h-6M1490.5 250.25h-6M1490.5 230.2h-6M1490.5 210.15h-6M1490.5 190.1h-6M1490.5 170.05h-6M1490.5 150h-6M1490.5 129.95h-6M1490.5 109.9h-6M1490.5 89.85h-6M1490.5 69.8h-6M1490.5 49.75h-6" stroke="#5a5a5a" stroke-width="2" fill="none"/><path d="M1490.5 330.45h-10.5M1490.5 230.2h-10.5M1490.5 129.95h-10.5" stroke="#5a5a5a" stroke-width="2" fill="none"/><path d="M1907.2 410.65h6M1907.2 390.6h6M1907.2 370.55h6M1907.2 350.5h6M1907.2 330.45h6M1907.2 310.4h6M1907.2 290.35h6M1907.2 270.3h6M1907.2 250.25h6M1907.2 230.2h6M1907.2 210.15h6M1907.2 190.1h6M1907.2 170.05h6M1907.2 150h6M1907.2 129.95h6M1907.2 109.9h6M1907.2 89.85h6M1907.2 69.8h6M1907.2 49.75h6" stroke="#5a5a5a" stroke-width="2" fill="none"/><path d="M1907.2 330.45h10.5M1907.2 230.2h10.5M1907.2 129.95h10.5" stroke="#5a5a5a" stroke-width="2" fill="none"/><rect x="1490.5" y="41.1" width="416.7" height="377.6" fill="none" stroke="#6a6a6a" stroke-width="2"/><line x1="1506" y1="408.5" x2="1889" y2="52" stroke="#0000ff" stroke-width="3.2" stroke-dasharray="0.1 6.4" stroke-linecap="round"/><polyline points="1499.4,75 1507.32,406.6 1515.24,406.1 1523.16,396.3 1531.08,385.3 1539,378.9 1546.92,367.2 1554.84,364 1562.76,360.1 1570.68,351.6 1578.6,350.1 1586.52,357.2 1594.44,322.4 1602.36,331 1610.28,317.1 1618.2,307.5 1626.12,289.4 1634.04,289.4 1641.96,277.7 1649.88,280.9 1657.8,269.8 1665.72,253.7 1673.64,233.6 1681.56,237.3 1689.48,248.6 1697.4,238.6 1705.32,223.9 1713.24,218.1 1721.16,214.3 1729.08,210 1737,184.4 1744.92,187.6 1752.84,167.4 1760.76,174.4 1768.68,160.3 1776.6,141.2 1784.52,152.4 1792.44,140.3 1800.36,144.6 1808.28,113 1816.2,130.1 1824.12,104.1 1832.04,107.1 1839.96,81.5 1847.88,81.1 1855.8,64.1 1863.72,73.7 1871.64,65.1 1879.56,65.1 1887.48,54.5 1895.4,404.8" fill="none" stroke="#ff2020" stroke-width="1.6" stroke-dasharray="1.5 1.5"/><circle cx="1499.4" cy="75" r="6.9" fill="#ff0000" stroke="#000" stroke-width="2"/><circle cx="1507.32" cy="406.6" r="6.9" fill="#ff0000" stroke="#000" stroke-width="2"/><circle cx="1515.24" cy="406.1" r="6.9" fill="#ff0000" stroke="#000" stroke-width="2"/><circle cx="1523.16" cy="396.3" r="6.9" fill="#ff0000" stroke="#000" stroke-width="2"/><circle cx="1531.08" cy="385.3" r="6.9" fill="#ff0000" stroke="#000" stroke-width="2"/><circle cx="1539" cy="378.9" r="6.9" fill="#ff0000" stroke="#000" stroke-width="2"/><circle cx="1546.92" cy="367.2" r="6.9" fill="#ff0000" stroke="#000" stroke-width="2"/><circle cx="1554.84" cy="364" r="6.9" fill="#ff0000" stroke="#000" stroke-width="2"/><circle cx="1562.76" cy="360.1" r="6.9" fill="#ff0000" stroke="#000" stroke-width="2"/><circle cx="1570.68" cy="351.6" r="6.9" fill="#ff0000" stroke="#000" stroke-width="2"/><circle cx="1578.6" cy="350.1" r="6.9" fill="#ff0000" stroke="#000" stroke-width="2"/><circle cx="1586.52" cy="357.2" r="6.9" fill="#ff0000" stroke="#000" stroke-width="2"/><circle cx="1594.44" cy="322.4" r="6.9" fill="#ff0000" stroke="#000" stroke-width="2"/><circle cx="1602.36" cy="331" r="6.9" fill="#ff0000" stroke="#000" stroke-width="2"/><circle cx="1610.28" cy="317.1" r="6.9" fill="#ff0000" stroke="#000" stroke-width="2"/><circle cx="1618.2" cy="307.5" r="6.9" fill="#ff0000" stroke="#000" stroke-width="2"/><circle cx="1626.12" cy="289.4" r="6.9" fill="#ff0000" stroke="#000" stroke-width="2"/><circle cx="1634.04" cy="289.4" r="6.9" fill="#ff0000" stroke="#000" stroke-width="2"/><circle cx="1641.96" cy="277.7" r="6.9" fill="#ff0000" stroke="#000" stroke-width="2"/><circle cx="1649.88" cy="280.9" r="6.9" fill="#ff0000" stroke="#000" stroke-width="2"/><circle cx="1657.8" cy="269.8" r="6.9" fill="#ff0000" stroke="#000" stroke-width="2"/><circle cx="1665.72" cy="253.7" r="6.9" fill="#ff0000" stroke="#000" stroke-width="2"/><circle cx="1673.64" cy="233.6" r="6.9" fill="#ff0000" stroke="#000" stroke-width="2"/><circle cx="1681.56" cy="237.3" r="6.9" fill="#ff0000" stroke="#000" stroke-width="2"/><circle cx="1689.48" cy="248.6" r="6.9" fill="#ff0000" stroke="#000" stroke-width="2"/><circle cx="1697.4" cy="238.6" r="6.9" fill="#ff0000" stroke="#000" stroke-width="2"/><circle cx="1705.32" cy="223.9" r="6.9" fill="#ff0000" stroke="#000" stroke-width="2"/><circle cx="1713.24" cy="218.1" r="6.9" fill="#ff0000" stroke="#000" stroke-width="2"/><circle cx="1721.16" cy="214.3" r="6.9" fill="#ff0000" stroke="#000" stroke-width="2"/><circle cx="1729.08" cy="210" r="6.9" fill="#ff0000" stroke="#000" stroke-width="2"/><circle cx="1737" cy="184.4" r="6.9" fill="#ff0000" stroke="#000" stroke-width="2"/><circle cx="1744.92" cy="187.6" r="6.9" fill="#ff0000" stroke="#000" stroke-width="2"/><circle cx="1752.84" cy="167.4" r="6.9" fill="#ff0000" stroke="#000" stroke-width="2"/><circle cx="1760.76" cy="174.4" r="6.9" fill="#ff0000" stroke="#000" stroke-width="2"/><circle cx="1768.68" cy="160.3" r="6.9" fill="#ff0000" stroke="#000" stroke-width="2"/><circle cx="1776.6" cy="141.2" r="6.9" fill="#ff0000" stroke="#000" stroke-width="2"/><circle cx="1784.52" cy="152.4" r="6.9" fill="#ff0000" stroke="#000" stroke-width="2"/><circle cx="1792.44" cy="140.3" r="6.9" fill="#ff0000" stroke="#000" stroke-width="2"/><circle cx="1800.36" cy="144.6" r="6.9" fill="#ff0000" stroke="#000" stroke-width="2"/><circle cx="1808.28" cy="113" r="6.9" fill="#ff0000" stroke="#000" stroke-width="2"/><circle cx="1816.2" cy="130.1" r="6.9" fill="#ff0000" stroke="#000" stroke-width="2"/><circle cx="1824.12" cy="104.1" r="6.9" fill="#ff0000" stroke="#000" stroke-width="2"/><circle cx="1832.04" cy="107.1" r="6.9" fill="#ff0000" stroke="#000" stroke-width="2"/><circle cx="1839.96" cy="81.5" r="6.9" fill="#ff0000" stroke="#000" stroke-width="2"/><circle cx="1847.88" cy="81.1" r="6.9" fill="#ff0000" stroke="#000" stroke-width="2"/><circle cx="1855.8" cy="64.1" r="6.9" fill="#ff0000" stroke="#000" stroke-width="2"/><circle cx="1863.72" cy="73.7" r="6.9" fill="#ff0000" stroke="#000" stroke-width="2"/><circle cx="1871.64" cy="65.1" r="6.9" fill="#ff0000" stroke="#000" stroke-width="2"/><circle cx="1879.56" cy="65.1" r="6.9" fill="#ff0000" stroke="#000" stroke-width="2"/><circle cx="1887.48" cy="54.5" r="6.9" fill="#ff0000" stroke="#000" stroke-width="2"/><circle cx="1895.4" cy="404.8" r="6.9" fill="#ff0000" stroke="#000" stroke-width="2"/><line x1="1506" y1="408.5" x2="1889" y2="52" stroke="#0000ff" stroke-width="3.2" stroke-dasharray="0.1 6.4" stroke-linecap="round" opacity="0.85"/><text transform="translate(1475.14 345.1) scale(0.981 1)" font-family="Liberation Sans, sans-serif" font-size="43.9" text-anchor="end">-50</text><text transform="translate(1475.14 244.85) scale(0.981 1)" font-family="Liberation Sans, sans-serif" font-size="43.9" text-anchor="end">0</text><text transform="translate(1475.14 144.6) scale(0.981 1)" font-family="Liberation Sans, sans-serif" font-size="43.9" text-anchor="end">50</text><text transform="translate(1499.4 473) scale(0.981 1)" font-family="Liberation Sans, sans-serif" font-size="43.9" text-anchor="middle">0.0</text><text transform="translate(1607.3 473) scale(0.981 1)" font-family="Liberation Sans, sans-serif" font-size="43.9" text-anchor="middle">0.5</text><text transform="translate(1715.2 473) scale(0.981 1)" font-family="Liberation Sans, sans-serif" font-size="43.9" text-anchor="middle">1.0</text><text transform="translate(1823.1 473) scale(0.981 1)" font-family="Liberation Sans, sans-serif" font-size="43.9" text-anchor="middle">1.5</text><g transform="translate(1702.8 513) scale(0.992 1)"><text x="-95.63" y="0" font-family="Liberation Serif, serif" font-size="43.67" font-style="italic">B</text><text x="-68.46" y="13.4" font-family="Liberation Sans, sans-serif" font-size="29">1,RF</text><text x="6.17" y="0" font-family="Liberation Sans, sans-serif" font-size="42.4">(mT)</text></g><text transform="translate(1383.7 234.45) rotate(-90) scale(1.0035 1)" font-family="Liberation Sans, sans-serif" font-size="43.1" text-anchor="middle">Echo Phase (deg.)</text><line x1="1776" y1="371.5" x2="1815" y2="371.5" stroke="#ff2020" stroke-width="1.6" stroke-dasharray="1.5 1.5"/><circle cx="1796.6" cy="371.5" r="6.8" fill="#ff0000" stroke="#000" stroke-width="2"/><line x1="1777.5" y1="396.3" x2="1818" y2="396.3" stroke="#0000ff" stroke-width="3.4" stroke-dasharray="0.1 6.5" stroke-linecap="round"/><text transform="translate(1825 377.5) scale(0.98 1)" font-family="Liberation Sans, sans-serif" font-size="21" fill="#222">Data</text><text transform="translate(1825 402.8) scale(0.98 1)" font-family="Liberation Sans, sans-serif" font-size="21" fill="#222">Fit</text><g clip-path="url(#clD)"><g filter="url(#jD)"><rect x="131.8" y="960.37" width="441.8" height="11.63" fill="url(#g52)"/><rect x="131.8" y="956.23" width="441.8" height="5.63" fill="url(#g53)"/><rect x="131.8" y="952.1" width="441.8" height="5.63" fill="url(#g54)"/><rect x="131.8" y="947.97" width="441.8" height="5.63" fill="url(#g55)"/><rect x="131.8" y="943.83" width="441.8" height="5.63" fill="url(#g56)"/><rect x="131.8" y="939.7" width="441.8" height="5.63" fill="url(#g57)"/><rect x="131.8" y="935.57" width="441.8" height="5.63" fill="url(#g58)"/><rect x="131.8" y="931.43" width="441.8" height="5.63" fill="url(#g59)"/><rect x="131.8" y="927.3" width="441.8" height="5.63" fill="url(#g60)"/><rect x="131.8" y="923.17" width="441.8" height="5.63" fill="url(#g61)"/><rect x="131.8" y="919.03" width="441.8" height="5.63" fill="url(#g62)"/><rect x="131.8" y="914.9" width="441.8" height="5.63" fill="url(#g63)"/><rect x="131.8" y="910.77" width="441.8" height="5.63" fill="url(#g64)"/><rect x="131.8" y="906.63" width="441.8" height="5.63" fill="url(#g65)"/><rect x="131.8" y="902.5" width="441.8" height="5.63" fill="url(#g66)"/><rect x="131.8" y="898.37" width="441.8" height="5.63" fill="url(#g67)"/><rect x="131.8" y="894.23" width="441.8" height="5.63" fill="url(#g68)"/><rect x="131.8" y="890.1" width="441.8" height="5.63" fill="url(#g69)"/><rect x="131.8" y="885.97" width="441.8" height="5.63" fill="url(#g70)"/><rect x="131.8" y="881.83" width="441.8" height="5.63" fill="url(#g71)"/><rect x="131.8" y="877.7" width="441.8" height="5.63" fill="url(#g72)"/><rect x="131.8" y="873.57" width="441.8" height="5.63" fill="url(#g73)"/><rect x="131.8" y="869.43" width="441.8" height="5.63" fill="url(#g74)"/><rect x="131.8" y="865.3" width="441.8" height="5.63" fill="url(#g75)"/><rect x="131.8" y="861.17" width="441.8" height="5.63" fill="url(#g76)"/><rect x="131.8" y="857.03" width="441.8" height="5.63" fill="url(#g77)"/><rect x="131.8" y="852.9" width="441.8" height="5.63" fill="url(#g78)"/><rect x="131.8" y="848.77" width="441.8" height="5.63" fill="url(#g79)"/><rect x="131.8" y="844.63" width="441.8" height="5.63" fill="url(#g80)"/><rect x="131.8" y="840.5" width="441.8" height="5.63" fill="url(#g81)"/><rect x="131.8" y="836.37" width="441.8" height="5.63" fill="url(#g82)"/><rect x="131.8" y="832.23" width="441.8" height="5.63" fill="url(#g83)"/><rect x="131.8" y="828.1" width="441.8" height="5.63" fill="url(#g84)"/><rect x="131.8" y="823.97" width="441.8" height="5.63" fill="url(#g85)"/><rect x="131.8" y="819.83" width="441.8" height="5.63" fill="url(#g86)"/><rect x="131.8" y="815.7" width="441.8" height="5.63" fill="url(#g87)"/><rect x="131.8" y="811.57" width="441.8" height="5.63" fill="url(#g88)"/><rect x="131.8" y="807.43" width="441.8" height="5.63" fill="url(#g89)"/><rect x="131.8" y="803.3" width="441.8" height="5.63" fill="url(#g90)"/><rect x="131.8" y="799.17" width="441.8" height="5.63" fill="url(#g91)"/><rect x="131.8" y="795.03" width="441.8" height="5.63" fill="url(#g92)"/><rect x="131.8" y="790.9" width="441.8" height="5.63" fill="url(#g93)"/><rect x="131.8" y="786.77" width="441.8" height="5.63" fill="url(#g94)"/><rect x="131.8" y="782.63" width="441.8" height="5.63" fill="url(#g95)"/><rect x="131.8" y="778.5" width="441.8" height="5.63" fill="url(#g96)"/><rect x="131.8" y="774.37" width="441.8" height="5.63" fill="url(#g97)"/><rect x="131.8" y="770.23" width="441.8" height="5.63" fill="url(#g98)"/><rect x="131.8" y="766.1" width="441.8" height="5.63" fill="url(#g99)"/><rect x="131.8" y="761.97" width="441.8" height="5.63" fill="url(#g100)"/><rect x="131.8" y="757.83" width="441.8" height="5.63" fill="url(#g101)"/><rect x="131.8" y="753.7" width="441.8" height="5.63" fill="url(#g102)"/><rect x="131.8" y="749.57" width="441.8" height="5.63" fill="url(#g103)"/><rect x="131.8" y="745.43" width="441.8" height="5.63" fill="url(#g104)"/><rect x="131.8" y="741.3" width="441.8" height="5.63" fill="url(#g105)"/><rect x="131.8" y="737.17" width="441.8" height="5.63" fill="url(#g106)"/><rect x="131.8" y="733.03" width="441.8" height="5.63" fill="url(#g107)"/><rect x="131.8" y="728.9" width="441.8" height="5.63" fill="url(#g108)"/><rect x="131.8" y="724.77" width="441.8" height="5.63" fill="url(#g109)"/><rect x="131.8" y="720.63" width="441.8" height="5.63" fill="url(#g110)"/><rect x="131.8" y="716.5" width="441.8" height="5.63" fill="url(#g111)"/><rect x="131.8" y="712.37" width="441.8" height="5.63" fill="url(#g112)"/><rect x="131.8" y="708.23" width="441.8" height="5.63" fill="url(#g113)"/><rect x="131.8" y="704.1" width="441.8" height="5.63" fill="url(#g114)"/><rect x="131.8" y="699.97" width="441.8" height="5.63" fill="url(#g115)"/><rect x="131.8" y="695.83" width="441.8" height="5.63" fill="url(#g116)"/><rect x="131.8" y="691.7" width="441.8" height="5.63" fill="url(#g117)"/><rect x="131.8" y="687.57" width="441.8" height="5.63" fill="url(#g118)"/><rect x="131.8" y="683.43" width="441.8" height="5.63" fill="url(#g119)"/><rect x="131.8" y="679.3" width="441.8" height="5.63" fill="url(#g120)"/><rect x="131.8" y="675.17" width="441.8" height="5.63" fill="url(#g121)"/><rect x="131.8" y="671.03" width="441.8" height="5.63" fill="url(#g122)"/><rect x="131.8" y="666.9" width="441.8" height="5.63" fill="url(#g123)"/><rect x="131.8" y="662.77" width="441.8" height="5.63" fill="url(#g124)"/><rect x="131.8" y="658.63" width="441.8" height="5.63" fill="url(#g125)"/><rect x="131.8" y="654.5" width="441.8" height="5.63" fill="url(#g126)"/><rect x="131.8" y="650.37" width="441.8" height="5.63" fill="url(#g127)"/><rect x="131.8" y="646.23" width="441.8" height="5.63" fill="url(#g128)"/><rect x="131.8" y="642.1" width="441.8" height="5.63" fill="url(#g129)"/><rect x="131.8" y="637.97" width="441.8" height="5.63" fill="url(#g130)"/><rect x="131.8" y="633.83" width="441.8" height="5.63" fill="url(#g131)"/><rect x="131.8" y="629.7" width="441.8" height="5.63" fill="url(#g132)"/><rect x="131.8" y="625.57" width="441.8" height="5.63" fill="url(#g133)"/><rect x="131.8" y="621.43" width="441.8" height="5.63" fill="url(#g134)"/><rect x="131.8" y="617.3" width="441.8" height="5.63" fill="url(#g135)"/><rect x="131.8" y="613.17" width="441.8" height="5.63" fill="url(#g136)"/><rect x="131.8" y="609.03" width="441.8" height="5.63" fill="url(#g137)"/><rect x="131.8" y="604.9" width="441.8" height="5.63" fill="url(#g138)"/><rect x="131.8" y="600.77" width="441.8" height="5.63" fill="url(#g139)"/><rect x="131.8" y="596.63" width="441.8" height="5.63" fill="url(#g140)"/><rect x="131.8" y="586.5" width="441.8" height="11.63" fill="url(#g141)"/></g></g><path d="M139.06 965.2v5.5M146.7 965.2v5.5M154.34 965.2v5.5M161.98 965.2v5.5M169.62 965.2v5.5M177.26 965.2v5.5M184.9 965.2v5.5M192.54 965.2v5.5M200.18 965.2v5.5M207.82 965.2v5.5M215.46 965.2v5.5M223.1 965.2v5.5M230.74 965.2v5.5M238.38 965.2v5.5M246.02 965.2v5.5M253.66 965.2v5.5M261.3 965.2v5.5M268.94 965.2v5.5M276.58 965.2v5.5M284.22 965.2v5.5M291.86 965.2v5.5M299.5 965.2v5.5M307.14 965.2v5.5M314.78 965.2v5.5M322.42 965.2v5.5M330.06 965.2v5.5M337.7 965.2v5.5M345.34 965.2v5.5M352.98 965.2v5.5M360.62 965.2v5.5M368.26 965.2v5.5M375.9 965.2v5.5M383.54 965.2v5.5M391.18 965.2v5.5M398.82 965.2v5.5M406.46 965.2v5.5M414.1 965.2v5.5M421.74 965.2v5.5M429.38 965.2v5.5M437.02 965.2v5.5M444.66 965.2v5.5M452.3 965.2v5.5M459.94 965.2v5.5M467.58 965.2v5.5M475.22 965.2v5.5M482.86 965.2v5.5M490.5 965.2v5.5M498.14 965.2v5.5M505.78 965.2v5.5M513.42 965.2v5.5M521.06 965.2v5.5M528.7 965.2v5.5M536.34 965.2v5.5M543.98 965.2v5.5M551.62 965.2v5.5M559.26 965.2v5.5M566.9 965.2v5.5" stroke="#5a5a5a" stroke-width="2" fill="none"/><path d="M184.9 965.2v10M261.3 965.2v10M337.7 965.2v10M414.1 965.2v10M490.5 965.2v10M566.9 965.2v10" stroke="#5a5a5a" stroke-width="2" fill="none"/><path d="M139.06 589.9v-5.5M146.7 589.9v-5.5M154.34 589.9v-5.5M161.98 589.9v-5.5M169.62 589.9v-5.5M177.26 589.9v-5.5M184.9 589.9v-5.5M192.54 589.9v-5.5M200.18 589.9v-5.5M207.82 589.9v-5.5M215.46 589.9v-5.5M223.1 589.9v-5.5M230.74 589.9v-5.5M238.38 589.9v-5.5M246.02 589.9v-5.5M253.66 589.9v-5.5M261.3 589.9v-5.5M268.94 589.9v-5.5M276.58 589.9v-5.5M284.22 589.9v-5.5M291.86 589.9v-5.5M299.5 589.9v-5.5M307.14 589.9v-5.5M314.78 589.9v-5.5M322.42 589.9v-5.5M330.06 589.9v-5.5M337.7 589.9v-5.5M345.34 589.9v-5.5M352.98 589.9v-5.5M360.62 589.9v-5.5M368.26 589.9v-5.5M375.9 589.9v-5.5M383.54 589.9v-5.5M391.18 589.9v-5.5M398.82 589.9v-5.5M406.46 589.9v-5.5M414.1 589.9v-5.5M421.74 589.9v-5.5M429.38 589.9v-5.5M437.02 589.9v-5.5M444.66 589.9v-5.5M452.3 589.9v-5.5M459.94 589.9v-5.5M467.58 589.9v-5.5M475.22 589.9v-5.5M482.86 589.9v-5.5M490.5 589.9v-5.5M498.14 589.9v-5.5M505.78 589.9v-5.5M513.42 589.9v-5.5M521.06 589.9v-5.5M528.7 589.9v-5.5M536.34 589.9v-5.5M543.98 589.9v-5.5M551.62 589.9v-5.5M559.26 589.9v-5.5M566.9 589.9v-5.5" stroke="#5a5a5a" stroke-width="2" fill="none"/><path d="M184.9 589.9v-10M261.3 589.9v-10M337.7 589.9v-10M414.1 589.9v-10M490.5 589.9v-10M566.9 589.9v-10" stroke="#5a5a5a" stroke-width="2" fill="none"/><path d="M136.7 963.6h-5.5M136.7 953.25h-5.5M136.7 942.9h-5.5M136.7 932.55h-5.5M136.7 922.2h-5.5M136.7 911.85h-5.5M136.7 901.5h-5.5M136.7 891.15h-5.5M136.7 880.8h-5.5M136.7 870.45h-5.5M136.7 860.1h-5.5M136.7 849.75h-5.5M136.7 839.4h-5.5M136.7 829.05h-5.5M136.7 818.7h-5.5M136.7 808.35h-5.5M136.7 798h-5.5M136.7 787.65h-5.5M136.7 777.3h-5.5M136.7 766.95h-5.5M136.7 756.6h-5.5M136.7 746.25h-5.5M136.7 735.9h-5.5M136.7 725.55h-5.5M136.7 715.2h-5.5M136.7 704.85h-5.5M136.7 694.5h-5.5M136.7 684.15h-5.5M136.7 673.8h-5.5M136.7 663.45h-5.5M136.7 653.1h-5.5M136.7 642.75h-5.5M136.7 632.4h-5.5M136.7 622.05h-5.5M136.7 611.7h-5.5M136.7 601.35h-5.5M136.7 591h-5.5" stroke="#5a5a5a" stroke-width="2" fill="none"/><path d="M136.7 963.6h-10M136.7 860.1h-10M136.7 756.6h-10M136.7 653.1h-10" stroke="#5a5a5a" stroke-width="2" fill="none"/><path d="M569 963.6h5.5M569 953.25h5.5M569 942.9h5.5M569 932.55h5.5M569 922.2h5.5M569 911.85h5.5M569 901.5h5.5M569 891.15h5.5M569 880.8h5.5M569 870.45h5.5M569 860.1h5.5M569 849.75h5.5M569 839.4h5.5M569 829.05h5.5M569 818.7h5.5M569 808.35h5.5M569 798h5.5M569 787.65h5.5M569 777.3h5.5M569 766.95h5.5M569 756.6h5.5M569 746.25h5.5M569 735.9h5.5M569 725.55h5.5M569 715.2h5.5M569 704.85h5.5M569 694.5h5.5M569 684.15h5.5M569 673.8h5.5M569 663.45h5.5M569 653.1h5.5M569 642.75h5.5M569 632.4h5.5M569 622.05h5.5M569 611.7h5.5M569 601.35h5.5M569 591h5.5" stroke="#5a5a5a" stroke-width="2" fill="none"/><path d="M569 963.6h10M569 860.1h10M569 756.6h10M569 653.1h10" stroke="#5a5a5a" stroke-width="2" fill="none"/><rect x="136.7" y="589.9" width="432.3" height="375.3" fill="none" stroke="#6a6a6a" stroke-width="2"/><text transform="translate(121.99 976.7) scale(1.06 1)" font-family="Liberation Sans, sans-serif" font-size="39.5" text-anchor="end">0</text><text transform="translate(121.99 873.2) scale(1.06 1)" font-family="Liberation Sans, sans-serif" font-size="39.5" text-anchor="end">100</text><text transform="translate(121.99 769.7) scale(1.06 1)" font-family="Liberation Sans, sans-serif" font-size="39.5" text-anchor="end">200</text><text transform="translate(121.99 666.2) scale(1.06 1)" font-family="Liberation Sans, sans-serif" font-size="39.5" text-anchor="end">300</text><text transform="translate(184.9 1013.8) scale(1.06 1)" font-family="Liberation Sans, sans-serif" font-size="39.5" text-anchor="middle">0.0</text><text transform="translate(261.3 1013.8) scale(1.06 1)" font-family="Liberation Sans, sans-serif" font-size="39.5" text-anchor="middle">0.1</text><text transform="translate(337.7 1013.8) scale(1.06 1)" font-family="Liberation Sans, sans-serif" font-size="39.5" text-anchor="middle">0.2</text><text transform="translate(414.1 1013.8) scale(1.06 1)" font-family="Liberation Sans, sans-serif" font-size="39.5" text-anchor="middle">0.3</text><text transform="translate(490.5 1013.8) scale(1.06 1)" font-family="Liberation Sans, sans-serif" font-size="39.5" text-anchor="middle">0.4</text><text transform="translate(566.9 1013.8) scale(1.06 1)" font-family="Liberation Sans, sans-serif" font-size="39.5" text-anchor="middle">0.5</text><g transform="translate(352.9 1058) scale(1.057 1)"><text x="-82.63" y="0" font-family="Liberation Sans, sans-serif" font-size="39.3">Time (µs)</text></g><g transform="translate(39.8 780.5) rotate(-90) scale(0.96 1)"><text transform="translate(-88.18 5.85) scale(1.25 1)" font-family="Liberation Serif, serif" font-size="40.56" font-style="italic">ϕ</text><text x="-60.94" y="10.14" font-family="Liberation Sans, sans-serif" font-size="27.3">RF</text><text x="-13.71" y="0" font-family="Liberation Sans, sans-serif" font-size="39">(deg.)</text></g><rect x="636.3" y="626.1" width="15.4" height="108.3" fill="url(#cbd)" stroke="#333" stroke-width="1"/><path d="M636.3 733.9h-6.5M636.3 724.18h-6.5M636.3 714.46h-6.5M636.3 704.74h-6.5M636.3 695.02h-6.5M636.3 685.3h-6.5M636.3 675.58h-6.5M636.3 665.86h-6.5M636.3 656.14h-6.5M636.3 646.42h-6.5M636.3 636.7h-6.5M636.3 626.98h-6.5" stroke="#222" stroke-width="2" fill="none"/><path d="M636.3 733.9h-13.5M636.3 695.02h-13.5M636.3 656.14h-13.5" stroke="#222" stroke-width="2" fill="none"/><text transform="translate(615.9 738.6) scale(1.2 1)" font-family="Liberation Sans, sans-serif" font-size="20" text-anchor="end">0</text><text transform="translate(615.9 699.72) scale(1.2 1)" font-family="Liberation Sans, sans-serif" font-size="20" text-anchor="end">2</text><text transform="translate(615.9 660.84) scale(1.2 1)" font-family="Liberation Sans, sans-serif" font-size="20" text-anchor="end">4</text><text transform="translate(596.7 680) rotate(-90) scale(0.972 1)" font-family="Liberation Sans, sans-serif" font-size="21.6" text-anchor="middle">Echo Ampl. (mV)</text><polyline points="830.6,648.16 832.63,637.02 834.65,632.72 836.68,640.29 838.71,633.73 840.73,636.27 842.76,637.88 844.79,644.83 846.81,640.17 848.84,637.83 850.87,641.69 852.89,636.96 854.92,642.45 856.95,635 858.98,635.82 861,640.91 863.03,642.35 865.06,634.04 867.08,641.93 869.11,645.62 871.14,631.02 873.16,631.48 875.19,641.11 877.22,651.52 879.24,638.87 881.27,634.89 883.3,636.03 885.32,632.7 887.35,641.77 889.38,639.78 891.4,637.02 893.43,647.88 895.46,644.25 897.48,635.88 899.51,636.28 901.54,642.77 903.56,634.02 905.59,649.46 907.62,647.72 909.65,657.65 911.67,648.12 913.7,644.17 915.73,640.6 917.75,643.96 919.78,633.78 921.81,650.04 923.83,646.08 925.86,638.95 927.89,649.53 929.91,620.5 931.94,657.51 933.97,643.98 935.99,646.11 938.02,645.55 940.05,640.58 942.07,638.49 944.1,645.85 946.13,634.55 948.15,641.66 950.18,645.99 952.21,653.5 954.23,641.14 956.26,639.96 958.29,641.16 960.32,649.98 962.34,646.82 964.37,632.71 966.4,637.3 968.42,635.74 970.45,648.89 972.48,651.08 974.5,639.28 976.53,643.01 978.56,644.92 980.58,612.94 982.61,644.18 984.64,637.22 986.66,648.23 988.69,638.13 990.72,647.14 992.74,637.54 994.77,637.56 996.8,649.61 998.82,636.4 1000.85,637.07 1002.88,638.94 1004.9,640.65 1006.93,641.08 1008.96,644.33 1010.99,647.65 1013.01,650.36 1015.04,639.26 1017.07,615.14 1019.09,646.48 1021.12,631.44 1023.15,641.22 1025.17,641.64 1027.2,641.21 1029.23,642.22 1031.25,654.54 1033.28,650.35 1035.31,647.31 1037.33,657.14 1039.36,641.06 1041.39,642.57 1043.41,643.64 1045.44,640.53 1047.47,641.12 1049.49,639.54 1051.52,651.7 1053.55,648.17 1055.57,640.73 1057.6,643.46 1059.63,647.5 1061.66,643.06 1063.68,647.86 1065.71,632.54 1067.74,637.27 1069.76,651.41 1071.79,642.76 1073.82,649.09 1075.84,629.86 1077.87,648.23 1079.9,646.58 1081.92,641.95 1083.95,648.27 1085.98,635.51 1088,640.64 1090.03,635.71 1092.06,636.39 1094.08,648.42 1096.11,646.75 1098.14,633.39 1100.16,635.18 1102.19,646.74 1104.22,642.38 1106.24,648.21 1108.27,638.6 1110.3,636.06 1112.33,637.72 1114.35,659.65 1116.38,643.35 1118.41,635.71 1120.43,642.18 1122.46,628.7 1124.49,641.59 1126.51,643.01 1128.54,635.58 1130.57,638.59 1132.59,641.44 1134.62,627.24 1136.65,640.37 1138.67,636.95 1140.7,637.96 1142.73,641.07 1144.75,645.45 1146.78,630.16 1148.81,649.27 1150.83,633.33 1152.86,640.37 1154.89,639.14 1156.91,641.96 1158.94,634.98 1160.97,647.57 1163,628.53 1165.02,646.62 1167.05,638.14 1169.08,625.6 1171.1,649.58 1173.13,639.23 1175.16,637.19 1177.18,647.82 1179.21,637.61 1181.24,642.47 1183.26,640.56 1185.29,628.16 1187.32,636.01 1189.34,638.89 1191.37,641.03 1193.4,646.07 1195.42,641.56 1197.45,639.96 1199.48,636.55 1201.5,644.66 1203.53,632.19 1205.56,640.04 1207.58,642.57 1209.61,641.97 1211.64,634.86 1213.67,636.47 1215.69,614.11 1217.72,636.06 1219.75,632.54 1221.77,609.91 1223.8,641.24 1225.83,635.33 1227.85,639.74 1229.88,633.36 1231.91,642.01 1233.71,630.37" fill="none" stroke="#ff0000" stroke-width="3.1" stroke-linejoin="round"/><polyline points="830.6,636.93 832.63,666.3 834.65,664.77 836.68,666.41 838.71,665.49 840.73,669.74 842.76,671.95 844.79,665 846.81,676.89 848.84,663.92 850.87,664.66 852.89,669.59 854.92,665.76 856.95,669.91 858.98,677.37 861,661.52 863.03,664.82 865.06,656.36 867.08,653.31 869.11,662.05 871.14,663.66 873.16,657.09 875.19,685.26 877.22,669.98 879.24,666.09 881.27,662.53 883.3,663.41 885.32,663.19 887.35,660.16 889.38,662.87 891.4,655.93 893.43,661.93 895.46,665.6 897.48,666.65 899.51,666.89 901.54,659.42 903.56,661.32 905.59,651.12 907.62,657.93 909.65,648.93 911.67,661.87 913.7,655.5 915.73,660.78 917.75,654.65 919.78,649.04 921.81,653.38 923.83,651.49 925.86,647.03 927.89,638.77 929.91,650.23 931.94,649.59 933.97,649.01 935.99,648.04 938.02,652.25 940.05,648.77 942.07,647.93 944.1,657.96 946.13,645.73 948.15,660.23 950.18,652.83 952.21,654.52 954.23,647.34 956.26,659.36 958.29,657.21 960.32,655.79 962.34,654.81 964.37,660.39 966.4,651.77 968.42,665.52 970.45,664.45 972.48,660.3 974.5,664.7 976.53,667.85 978.56,654.76 980.58,657.31 982.61,671.79 984.64,657.46 986.66,656.68 988.69,667.17 990.72,656.51 992.74,669.41 994.77,665.06 996.8,663.67 998.82,660.82 1000.85,661.4 1002.88,662.33 1004.9,667.45 1006.93,656.53 1008.96,660.72 1010.99,666.43 1013.01,666.71 1015.04,657.73 1017.07,661.41 1019.09,668.7 1021.12,666.48 1023.15,660.07 1025.17,674.07 1027.2,669.11 1029.23,661.92 1031.25,671.05 1033.28,658.12 1035.31,670.55 1037.33,681.89 1039.36,671.25 1041.39,664.77 1043.41,666.71 1045.44,668.23 1047.47,664.01 1049.49,668.09 1051.52,661.19 1053.55,661.09 1055.57,662.28 1057.6,668.79 1059.63,652.81 1061.66,662.76 1063.68,659.51 1065.71,658.7 1067.74,664.86 1069.76,659.3 1071.79,666.05 1073.82,659.92 1075.84,669.97 1077.87,659.21 1079.9,662.07 1081.92,669.8 1083.95,657.89 1085.98,664.21 1088,651.83 1090.03,660.55 1092.06,650.68 1094.08,657.8 1096.11,671.39 1098.14,659.47 1100.16,659.61 1102.19,656.25 1104.22,666.8 1106.24,661.96 1108.27,660.95 1110.3,656.53 1112.33,656.04 1114.35,654.79 1116.38,652.54 1118.41,655.8 1120.43,650.73 1122.46,655.45 1124.49,654.67 1126.51,650.1 1128.54,649.69 1130.57,661.3 1132.59,638.1 1134.62,651.8 1136.65,653.25 1138.67,641.76 1140.7,645.56 1142.73,644.29 1144.75,652.94 1146.78,657.49 1148.81,653.06 1150.83,653.6 1152.86,653.72 1154.89,653.93 1156.91,649.21 1158.94,660.6 1160.97,664.93 1163,658.45 1165.02,664.97 1167.05,670.5 1169.08,639.99 1171.1,657.53 1173.13,661.32 1175.16,660.3 1177.18,650.52 1179.21,653.42 1181.24,654.57 1183.26,657.26 1185.29,671.63 1187.32,659.51 1189.34,670.36 1191.37,649.7 1193.4,663.98 1195.42,665.26 1197.45,666.84 1199.48,655.67 1201.5,667.15 1203.53,657.02 1205.56,659.06 1207.58,661.88 1209.61,649.95 1211.64,664.55 1213.67,656.6 1215.69,668.82 1217.72,667.35 1219.75,660.72 1221.77,668.32 1223.8,665.46 1225.83,662.67 1227.85,666.02 1229.88,668.86 1231.91,667.24 1233.71,677.75" fill="none" stroke="#ffaa00" stroke-width="3.1" stroke-linejoin="round"/><polyline points="830.6,763.34 832.63,772.05 834.65,768.7 836.68,772.54 838.71,762.08 840.73,764.45 842.76,767.97 844.79,769.97 846.81,767.99 848.84,775.82 850.87,765.55 852.89,766.41 854.92,767.82 856.95,764.63 858.98,760.09 861,751.97 863.03,758.38 865.06,748.77 867.08,747.48 869.11,742.41 871.14,734.33 873.16,733.91 875.19,733.93 877.22,728.77 879.24,718.9 881.27,716.63 883.3,720.97 885.32,707.25 887.35,704.2 889.38,704.45 891.4,703.73 893.43,699.7 895.46,692.3 897.48,678.55 899.51,686.72 901.54,679.97 903.56,681.12 905.59,666.53 907.62,666.74 909.65,667.14 911.67,657.47 913.7,663.48 915.73,653.87 917.75,657.23 919.78,648.69 921.81,646.46 923.83,647.89 925.86,650.99 927.89,654.55 929.91,640.85 931.94,647.02 933.97,654.65 935.99,664.05 938.02,652.5 940.05,656.22 942.07,656.92 944.1,662.73 946.13,657.32 948.15,667.24 950.18,659.95 952.21,667.78 954.23,669.23 956.26,671.63 958.29,681.03 960.32,683.73 962.34,687.4 964.37,689.54 966.4,692.39 968.42,698.67 970.45,701.61 972.48,700.98 974.5,702.19 976.53,708.06 978.56,714.84 980.58,720.55 982.61,714.4 984.64,727.8 986.66,730.42 988.69,729.69 990.72,732.34 992.74,738.26 994.77,739.8 996.8,740.49 998.82,746.56 1000.85,749.15 1002.88,744.24 1004.9,748.21 1006.93,751.65 1008.96,760.55 1010.99,759.87 1013.01,760.66 1015.04,766.79 1017.07,765.27 1019.09,762.98 1021.12,774.64 1023.15,776.95 1025.17,776.1 1027.2,776.94 1029.23,773.97 1031.25,775.09 1033.28,771.99 1035.31,772 1037.33,765.8 1039.36,760.42 1041.39,767.49 1043.41,765.02 1045.44,756.59 1047.47,758.6 1049.49,769.06 1051.52,759.11 1053.55,758.55 1055.57,753.73 1057.6,753.74 1059.63,753.08 1061.66,752.54 1063.68,741.29 1065.71,736.87 1067.74,737.19 1069.76,732.39 1071.79,734.88 1073.82,728.21 1075.84,719.95 1077.87,718.62 1079.9,719.42 1081.92,710.56 1083.95,705.52 1085.98,705.65 1088,701.54 1090.03,697.78 1092.06,693.25 1094.08,692.68 1096.11,683.78 1098.14,677.03 1100.16,680.49 1102.19,676.44 1104.22,676.66 1106.24,665.66 1108.27,664.82 1110.3,661.29 1112.33,655.09 1114.35,657.22 1116.38,666.07 1118.41,650.83 1120.43,651.96 1122.46,654.94 1124.49,647.35 1126.51,641.76 1128.54,641.41 1130.57,638.99 1132.59,637.42 1134.62,643.16 1136.65,646.47 1138.67,643.13 1140.7,644.12 1142.73,655.07 1144.75,646.98 1146.78,664.65 1148.81,650.61 1150.83,653.95 1152.86,658.55 1154.89,658.21 1156.91,667.58 1158.94,670.2 1160.97,664.2 1163,667.38 1165.02,672 1167.05,678.39 1169.08,681.42 1171.1,682.72 1173.13,684.03 1175.16,695.51 1177.18,695.76 1179.21,697.34 1181.24,708.9 1183.26,713.13 1185.29,711.06 1187.32,715.66 1189.34,714.73 1191.37,718.81 1193.4,722.45 1195.42,726.83 1197.45,711.01 1199.48,734.33 1201.5,743.97 1203.53,744.56 1205.56,742.74 1207.58,749.05 1209.61,753.68 1211.64,752.7 1213.67,760.63 1215.69,761.12 1217.72,769.73 1219.75,767.74 1221.77,767.23 1223.8,773.03 1225.83,776.32 1227.85,776.28 1229.88,774.97 1231.91,769.14 1233.71,773.6" fill="none" stroke="#00c41a" stroke-width="3.1" stroke-linejoin="round"/><polyline points="830.6,858.93 832.63,855.01 834.65,851.94 836.68,852.29 838.71,856.7 840.73,842.68 842.76,845.78 844.79,843.23 846.81,844 848.84,840.48 850.87,834.87 852.89,833.91 854.92,827.88 856.95,821.7 858.98,823.82 861,819.56 863.03,808.96 865.06,805.77 867.08,797.43 869.11,789.26 871.14,782.78 873.16,783.63 875.19,771.64 877.22,757.33 879.24,761.93 881.27,758.44 883.3,747.21 885.32,736 887.35,729.63 889.38,720.44 891.4,717.02 893.43,707.48 895.46,704.58 897.48,700.82 899.51,688.56 901.54,687.53 903.56,681.92 905.59,675.91 907.62,671.8 909.65,665.94 911.67,658.86 913.7,655.98 915.73,654.57 917.75,653.46 919.78,653.2 921.81,647.99 923.83,645.25 925.86,640.04 927.89,643.49 929.91,646.03 931.94,640.76 933.97,642.65 935.99,648.87 938.02,646.58 940.05,648.41 942.07,649.13 944.1,654.26 946.13,656.94 948.15,665.49 950.18,667.5 952.21,671.39 954.23,678.84 956.26,685.59 958.29,690.3 960.32,691.38 962.34,695.38 964.37,703.45 966.4,706.75 968.42,716.95 970.45,721.07 972.48,729.46 974.5,732.85 976.53,740.7 978.56,749.39 980.58,755.25 982.61,757.08 984.64,765.95 986.66,776.31 988.69,779.67 990.72,785.17 992.74,790.21 994.77,793.14 996.8,801.31 998.82,803.87 1000.85,808.33 1002.88,806.71 1004.9,820.99 1006.93,822.67 1008.96,830.49 1010.99,828.71 1013.01,833.37 1015.04,838.05 1017.07,840.77 1019.09,848.26 1021.12,844.47 1023.15,848.35 1025.17,844.29 1027.2,849 1029.23,846.61 1031.25,848 1033.28,854.62 1035.31,851.24 1037.33,844.08 1039.36,840.07 1041.39,836.08 1043.41,840.27 1045.44,837.78 1047.47,847.16 1049.49,829.76 1051.52,828.92 1053.55,818.81 1055.57,824.37 1057.6,819.95 1059.63,817.5 1061.66,810.16 1063.68,806.43 1065.71,798.51 1067.74,796.1 1069.76,790.48 1071.79,785.32 1073.82,776.99 1075.84,771.56 1077.87,763.77 1079.9,759.68 1081.92,747.8 1083.95,739.96 1085.98,737.92 1088,724.54 1090.03,719.84 1092.06,715.86 1094.08,708.69 1096.11,696.38 1098.14,692.7 1100.16,695.25 1102.19,687.7 1104.22,678.41 1106.24,677.71 1108.27,676.38 1110.3,668.32 1112.33,666.43 1114.35,649.31 1116.38,654.6 1118.41,659.53 1120.43,653.71 1122.46,652.23 1124.49,653.2 1126.51,648.13 1128.54,645.07 1130.57,648.28 1132.59,643.18 1134.62,643.64 1136.65,643.21 1138.67,640.62 1140.7,648.94 1142.73,650.26 1144.75,648.94 1146.78,652.74 1148.81,653.95 1150.83,662.58 1152.86,664.98 1154.89,667.19 1156.91,679.04 1158.94,683.61 1160.97,684.39 1163,690.34 1165.02,697.56 1167.05,701.91 1169.08,706.11 1171.1,709.23 1173.13,715.04 1175.16,724.58 1177.18,727.93 1179.21,734.18 1181.24,738.39 1183.26,746.15 1185.29,747.53 1187.32,751.72 1189.34,757.73 1191.37,768.48 1193.4,766.51 1195.42,784.76 1197.45,785.07 1199.48,793.11 1201.5,787.89 1203.53,792.01 1205.56,800.47 1207.58,810.61 1209.61,815.41 1211.64,815.68 1213.67,819.3 1215.69,830.88 1217.72,827.93 1219.75,832.74 1221.77,837.85 1223.8,835.84 1225.83,841.22 1227.85,844.62 1229.88,843.19 1231.91,845.32 1233.71,847.16" fill="none" stroke="#00aeff" stroke-width="3.1" stroke-linejoin="round"/><polyline points="830.6,935.42 832.63,933.92 834.65,928.87 836.68,916.81 838.71,920.14 840.73,922.12 842.76,911.89 844.79,918.09 846.81,917.13 848.84,914.61 850.87,905.32 852.89,910.51 854.92,908.99 856.95,900.54 858.98,892.53 861,891.21 863.03,881.46 865.06,875.11 867.08,861.94 869.11,855.9 871.14,842.83 873.16,834.6 875.19,836.43 877.22,825.5 879.24,818.66 881.27,813.58 883.3,802.11 885.32,789.4 887.35,776.78 889.38,766.33 891.4,762.45 893.43,751.49 895.46,738 897.48,729.95 899.51,729.24 901.54,717.08 903.56,705.32 905.59,698.13 907.62,700.55 909.65,687 911.67,674.17 913.7,672.04 915.73,666.73 917.75,660.46 919.78,655.38 921.81,652.16 923.83,647.31 925.86,643.74 927.89,642.79 929.91,636.81 931.94,642.73 933.97,634.3 935.99,639.17 938.02,643.45 940.05,655.38 942.07,657.21 944.1,654.92 946.13,655.88 948.15,662.16 950.18,666.8 952.21,672.11 954.23,677.25 956.26,684.33 958.29,704.17 960.32,704.41 962.34,707.97 964.37,724.92 966.4,729.4 968.42,738.62 970.45,751.5 972.48,766.22 974.5,772.68 976.53,782.24 978.56,788.29 980.58,794.96 982.61,801.6 984.64,804.96 986.66,816.01 988.69,824.15 990.72,834.5 992.74,842.25 994.77,855.87 996.8,855.82 998.82,867.59 1000.85,868.63 1002.88,877.88 1004.9,887.7 1006.93,895.81 1008.96,902.63 1010.99,910.85 1013.01,913.27 1015.04,910.44 1017.07,916.8 1019.09,918.06 1021.12,931.48 1023.15,922.36 1025.17,919.52 1027.2,924.14 1029.23,923.1 1031.25,928.48 1033.28,938.22 1035.31,931.67 1037.33,929.64 1039.36,931.93 1041.39,913.56 1043.41,911.56 1045.44,909.91 1047.47,908.95 1049.49,909.72 1051.52,904.52 1053.55,903.8 1055.57,898.68 1057.6,894.8 1059.63,888.98 1061.66,881.76 1063.68,877.38 1065.71,870.8 1067.74,856.07 1069.76,858.92 1071.79,864.4 1073.82,858.41 1075.84,842.56 1077.87,837.88 1079.9,829.4 1081.92,821.06 1083.95,809.93 1085.98,799.21 1088,777.86 1090.03,770.14 1092.06,764.9 1094.08,749.58 1096.11,739.86 1098.14,741.17 1100.16,725.6 1102.19,709.45 1104.22,698.11 1106.24,686.97 1108.27,682.31 1110.3,677.55 1112.33,669.26 1114.35,661.86 1116.38,660.78 1118.41,653.86 1120.43,644.59 1122.46,641.94 1124.49,637.98 1126.51,630.98 1128.54,625.22 1130.57,627.5 1132.59,634.36 1134.62,626.98 1136.65,624.56 1138.67,633.61 1140.7,632.31 1142.73,627 1144.75,638.1 1146.78,639.69 1148.81,648.47 1150.83,652.41 1152.86,649.76 1154.89,663.58 1156.91,671.57 1158.94,678.31 1160.97,697.9 1163,688.93 1165.02,700.35 1167.05,710.53 1169.08,723.06 1171.1,732.03 1173.13,744.17 1175.16,745.09 1177.18,752.58 1179.21,759.08 1181.24,764.93 1183.26,775.06 1185.29,786.08 1187.32,793.63 1189.34,805.51 1191.37,808.68 1193.4,818.71 1195.42,829.53 1197.45,844.26 1199.48,849.08 1201.5,853.05 1203.53,865.35 1205.56,868.53 1207.58,872.63 1209.61,883.64 1211.64,890.99 1213.67,889.57 1215.69,900.68 1217.72,908.47 1219.75,921.67 1221.77,920.98 1223.8,923.3 1225.83,928.08 1227.85,922.91 1229.88,929.2 1231.91,926.57 1233.71,927.96" fill="none" stroke="#0000ff" stroke-width="3.1" stroke-linejoin="round"/><path d="M830.6 972.6v5M841.86 972.6v5M853.12 972.6v5M864.38 972.6v5M875.64 972.6v5M886.9 972.6v5M898.16 972.6v5M909.42 972.6v5M920.68 972.6v5M931.94 972.6v5M943.2 972.6v5M954.46 972.6v5M965.72 972.6v5M976.98 972.6v5M988.24 972.6v5M999.5 972.6v5M1010.76 972.6v5M1022.02 972.6v5M1033.28 972.6v5M1044.54 972.6v5M1055.8 972.6v5M1067.06 972.6v5M1078.32 972.6v5M1089.58 972.6v5M1100.84 972.6v5M1112.1 972.6v5M1123.36 972.6v5M1134.62 972.6v5M1145.88 972.6v5M1157.14 972.6v5M1168.4 972.6v5M1179.66 972.6v5M1190.92 972.6v5M1202.18 972.6v5M1213.44 972.6v5M1224.7 972.6v5M1235.96 972.6v5" stroke="#5a5a5a" stroke-width="2" fill="none"/><path d="M886.9 972.6v7.5M999.5 972.6v7.5M1112.1 972.6v7.5M1224.7 972.6v7.5" stroke="#5a5a5a" stroke-width="2" fill="none"/><path d="M830.6 972.6v10.5M943.2 972.6v10.5M1055.8 972.6v10.5M1168.4 972.6v10.5" stroke="#5a5a5a" stroke-width="2" fill="none"/><path d="M830.6 577.2v-5M841.86 577.2v-5M853.12 577.2v-5M864.38 577.2v-5M875.64 577.2v-5M886.9 577.2v-5M898.16 577.2v-5M909.42 577.2v-5M920.68 577.2v-5M931.94 577.2v-5M943.2 577.2v-5M954.46 577.2v-5M965.72 577.2v-5M976.98 577.2v-5M988.24 577.2v-5M999.5 577.2v-5M1010.76 577.2v-5M1022.02 577.2v-5M1033.28 577.2v-5M1044.54 577.2v-5M1055.8 577.2v-5M1067.06 577.2v-5M1078.32 577.2v-5M1089.58 577.2v-5M1100.84 577.2v-5M1112.1 577.2v-5M1123.36 577.2v-5M1134.62 577.2v-5M1145.88 577.2v-5M1157.14 577.2v-5M1168.4 577.2v-5M1179.66 577.2v-5M1190.92 577.2v-5M1202.18 577.2v-5M1213.44 577.2v-5M1224.7 577.2v-5M1235.96 577.2v-5" stroke="#5a5a5a" stroke-width="2" fill="none"/><path d="M886.9 577.2v-7.5M999.5 577.2v-7.5M1112.1 577.2v-7.5M1224.7 577.2v-7.5" stroke="#5a5a5a" stroke-width="2" fill="none"/><path d="M830.6 577.2v-10.5M943.2 577.2v-10.5M1055.8 577.2v-10.5M1168.4 577.2v-10.5" stroke="#5a5a5a" stroke-width="2" fill="none"/><path d="M828.4 969.42h-5M828.4 945.11h-5M828.4 920.8h-5M828.4 896.49h-5M828.4 872.18h-5M828.4 847.87h-5M828.4 823.56h-5M828.4 799.25h-5M828.4 774.94h-5M828.4 750.63h-5M828.4 726.32h-5M828.4 702.01h-5M828.4 677.7h-5M828.4 653.39h-5M828.4 629.08h-5M828.4 604.77h-5M828.4 580.46h-5" stroke="#5a5a5a" stroke-width="2" fill="none"/><path d="M828.4 969.42h-10.5M828.4 872.18h-10.5M828.4 774.94h-10.5M828.4 677.7h-10.5M828.4 580.46h-10.5" stroke="#5a5a5a" stroke-width="2" fill="none"/><path d="M1238.4 969.42h5M1238.4 945.11h5M1238.4 920.8h5M1238.4 896.49h5M1238.4 872.18h5M1238.4 847.87h5M1238.4 823.56h5M1238.4 799.25h5M1238.4 774.94h5M1238.4 750.63h5M1238.4 726.32h5M1238.4 702.01h5M1238.4 677.7h5M1238.4 653.39h5M1238.4 629.08h5M1238.4 604.77h5M1238.4 580.46h5" stroke="#5a5a5a" stroke-width="2" fill="none"/><path d="M1238.4 969.42h10.5M1238.4 872.18h10.5M1238.4 774.94h10.5M1238.4 677.7h10.5M1238.4 580.46h10.5" stroke="#5a5a5a" stroke-width="2" fill="none"/><rect x="828.4" y="577.2" width="410" height="395.4" fill="none" stroke="#6a6a6a" stroke-width="2"/><rect x="1236.8" y="581.2" width="113" height="30" fill="#fff"/><rect x="1239.6" y="611" width="60" height="100" fill="#fff"/><line x1="1243" y1="621.9" x2="1277" y2="621.9" stroke="#ff0000" stroke-width="3"/><text transform="translate(1283 627.9)" font-family="Liberation Sans, sans-serif" font-size="16.5" fill="#222">0</text><line x1="1243" y1="641.2" x2="1277" y2="641.2" stroke="#ffaa00" stroke-width="3"/><text transform="translate(1283 647.2)" font-family="Liberation Sans, sans-serif" font-size="16.5" fill="#222">0.36</text><line x1="1243" y1="660.5" x2="1277" y2="660.5" stroke="#00c41a" stroke-width="3"/><text transform="translate(1283 666.5)" font-family="Liberation Sans, sans-serif" font-size="16.5" fill="#222">1.12</text><line x1="1243" y1="679.7" x2="1277" y2="679.7" stroke="#00aeff" stroke-width="3"/><text transform="translate(1283 685.7)" font-family="Liberation Sans, sans-serif" font-size="16.5" fill="#222">1.15</text><line x1="1243" y1="699.1" x2="1277" y2="699.1" stroke="#0000ff" stroke-width="3"/><text transform="translate(1283 705.1)" font-family="Liberation Sans, sans-serif" font-size="16.5" fill="#222">1.83</text><g transform="translate(1239 601.3)" fill="#222"><text x="0" y="0" font-family="Liberation Serif, serif" font-size="22" font-style="italic">B</text><text transform="translate(14.94 5) scale(1.18 1)" font-family="Liberation Serif, serif" font-size="15" font-weight="bold">1,RF</text><text transform="translate(58.31 0) scale(1.05 1)" font-family="Liberation Sans, sans-serif" font-size="22.3">(mT)</text></g><text transform="translate(811.39 982.81) scale(0.967 1)" font-family="Liberation Sans, sans-serif" font-size="40.3" text-anchor="end">0.8</text><text transform="translate(811.39 885.57) scale(0.967 1)" font-family="Liberation Sans, sans-serif" font-size="40.3" text-anchor="end">1.2</text><text transform="translate(811.39 788.33) scale(0.967 1)" font-family="Liberation Sans, sans-serif" font-size="40.3" text-anchor="end">1.6</text><text transform="translate(811.39 691.09) scale(0.967 1)" font-family="Liberation Sans, sans-serif" font-size="40.3" text-anchor="end">2.0</text><text transform="translate(811.39 593.85) scale(0.967 1)" font-family="Liberation Sans, sans-serif" font-size="40.3" text-anchor="end">2.4</text><text transform="translate(830.6 1024.6) scale(0.967 1)" font-family="Liberation Sans, sans-serif" font-size="40.3" text-anchor="middle">0</text><text transform="translate(943.2 1024.6) scale(0.967 1)" font-family="Liberation Sans, sans-serif" font-size="40.3" text-anchor="middle">100</text><text transform="translate(1055.8 1024.6) scale(0.967 1)" font-family="Liberation Sans, sans-serif" font-size="40.3" text-anchor="middle">200</text><text transform="translate(1168.4 1024.6) scale(0.967 1)" font-family="Liberation Sans, sans-serif" font-size="40.3" text-anchor="middle">300</text><g transform="translate(1029.5 1062.2) scale(1.009 1)"><text transform="translate(-88.4 5.87) scale(1.25 1)" font-family="Liberation Serif, serif" font-size="40.66" font-style="italic">ϕ</text><text x="-61.09" y="11.34" font-family="Liberation Sans, sans-serif" font-size="27.37">RF</text><text x="-13.74" y="0" font-family="Liberation Sans, sans-serif" font-size="39.1">(deg.)</text></g><text transform="translate(725.1 781.1) rotate(-90) scale(1.041 1)" font-family="Liberation Sans, sans-serif" font-size="39.6" text-anchor="middle">Echo Ampl. (mV)</text><polyline points="1502.1,652.1 1504.08,620.99 1506.06,630.89 1508.05,638.64 1510.03,632.28 1512.01,634.95 1513.99,635.76 1515.97,628.6 1517.95,638.23 1519.94,624.01 1521.92,628.54 1523.9,617.65 1525.88,627.43 1527.86,620.29 1529.85,612.34 1531.83,634.38 1533.81,613.14 1535.79,639.3 1537.77,637.64 1539.75,627.83 1541.74,640.44 1543.72,619.22 1545.7,641.87 1547.68,622.92 1549.66,633.4 1551.64,642.02 1553.63,628.62 1555.61,611.94 1557.59,632.99 1559.57,628.44 1561.55,624.53 1563.54,636.9 1565.52,629.65 1567.5,611.3 1569.48,637.27 1571.46,640.45 1573.44,610.35 1575.43,626.12 1577.41,625.85 1579.39,634.71 1581.37,631.19 1583.35,632.04 1585.34,616.6 1587.32,635.29 1589.3,626.38 1591.28,634.42 1593.26,655.35 1595.24,650.02 1597.23,632.29 1599.21,614.53 1601.19,613.04 1603.17,616.79 1605.15,629.81 1607.14,634.88 1609.12,623 1611.1,624.62 1613.08,630.84 1615.06,650.03 1617.04,636.79 1619.03,643.66 1621.01,632.47 1622.99,619.15 1624.97,637.75 1626.95,631.65 1628.94,636.13 1630.92,624.72 1632.9,633.82 1634.88,639.76 1636.86,633.18 1638.84,621.63 1640.83,635.79 1642.81,628.75 1644.79,669.31 1646.77,623.07 1648.75,629.11 1650.73,641.48 1652.72,635.68 1654.7,641.7 1656.68,625.11 1658.66,634.29 1660.64,642.9 1662.63,613.87 1664.61,634.6 1666.59,629.15 1668.57,652.23 1670.55,640.37 1672.53,630.09 1674.52,639.36 1676.5,643.77 1678.48,649.09 1680.46,635.76 1682.44,626.27 1684.43,633.86 1686.41,628.29 1688.39,635.17 1690.37,627.85 1692.35,637.36 1694.33,633.01 1696.32,635.33 1698.3,614.77 1700.28,632.42 1702.26,641.4 1704.24,632.02 1706.23,635.92 1708.21,627.96 1710.19,645.26 1712.17,637.41 1714.15,636.12 1716.13,629.39 1718.12,624.65 1720.1,631.88 1722.08,630.42 1724.06,643.11 1726.04,628.45 1728.03,620.48 1730.01,633.1 1731.99,634.68 1733.97,624.12 1735.95,632.22 1737.93,641.64 1739.92,636.76 1741.9,638.5 1743.88,644.45 1745.86,623.82 1747.84,637.88 1749.82,638.85 1751.81,640.61 1753.79,636.76 1755.77,659.9 1757.75,635.23 1759.73,627.23 1761.72,634.82 1763.7,640.66 1765.68,635.57 1767.66,651.87 1769.64,640.01 1771.62,627.38 1773.61,639.98 1775.59,639.67 1777.57,635.33 1779.55,631.81 1781.53,650.86 1783.52,629.64 1785.5,643.18 1787.48,637.68 1789.46,632.02 1791.44,637.86 1793.42,639.99 1795.41,612.29 1797.39,621.97 1799.37,637.01 1801.35,634.95 1803.33,630.26 1805.32,629.86 1807.3,621.17 1809.28,624.6 1811.26,626.23 1813.24,637.41 1815.22,622.14 1817.21,624.14 1819.19,632.62 1821.17,642.09 1823.15,628.54 1825.13,617.74 1827.12,628.78 1829.1,630.35 1831.08,627.82 1833.06,635.85 1835.04,622.13 1837.02,633.09 1839.01,626.68 1840.99,646.01 1842.97,632.42 1844.95,640.99 1846.93,626.92 1848.91,634.25 1850.9,648.87 1852.88,647.23 1854.86,639 1856.84,633 1858.82,629.19 1860.81,620.01 1862.79,643.25 1864.77,628.5 1866.75,626.42 1868.73,634.49 1870.71,632.6 1872.7,640.78 1874.68,641.72 1876.66,641.74 1878.64,634.94 1880.62,644.44 1882.61,630.98 1884.59,642.81 1886.57,635.49 1888.55,633.6 1890.53,615.89 1892.51,649.06 1894.5,627.86 1896.48,616.05 1896.92,631.36" fill="none" stroke="#ff0000" stroke-width="3.1" stroke-linejoin="round"/><polyline points="1502.1,882.5 1504.08,877.33 1506.06,862.99 1508.05,880.47 1510.03,898.43 1512.01,884.81 1513.99,891.36 1515.97,889.99 1517.95,891.63 1519.94,891.76 1521.92,892.22 1523.9,884.7 1525.88,876.73 1527.86,890.21 1529.85,884.22 1531.83,896.57 1533.81,895.86 1535.79,887.4 1537.77,902.48 1539.75,884.98 1541.74,907.12 1543.72,912.84 1545.7,889.92 1547.68,907.35 1549.66,906.22 1551.64,914.62 1553.63,913.37 1555.61,923.35 1557.59,909.19 1559.57,908 1561.55,909.29 1563.54,910.8 1565.52,919.9 1567.5,915.54 1569.48,919.15 1571.46,924.35 1573.44,924.65 1575.43,932.48 1577.41,941.62 1579.39,940.17 1581.37,929.66 1583.35,933.86 1585.34,937.54 1587.32,938.57 1589.3,935.88 1591.28,943.73 1593.26,948.43 1595.24,952.44 1597.23,944.26 1599.21,952.44 1600.64,939.24 1601.74,603.35 1603.72,638.78 1605.7,599.36 1607.69,607.09 1609.67,622.99 1611.65,606.13 1613.63,615.91 1615.61,616.39 1617.59,621.3 1619.58,610.86 1621.56,622.05 1623.54,619.29 1625.52,635.78 1627.5,630.8 1629.49,642.6 1631.47,643.88 1633.45,636.46 1635.43,652.77 1637.41,655.93 1639.39,644.71 1641.38,653.33 1643.36,644.08 1645.34,655.02 1647.32,653.22 1649.3,655.48 1651.29,675.58 1653.27,661.84 1655.25,665.8 1657.23,659.43 1659.21,668.81 1661.19,676.88 1663.18,680.44 1665.16,677.35 1667.14,696.89 1669.12,685.35 1671.1,674.28 1673.09,661.29 1675.07,667.1 1677.05,683.16 1679.03,686.17 1681.01,675.67 1682.99,674.07 1684.98,683.95 1686.96,668.54 1688.94,679.13 1690.92,679.86 1692.9,682.6 1694.89,677.77 1696.87,674.77 1698.85,682.35 1700.83,687.72 1702.81,681.92 1704.79,689.74 1706.78,684.62 1708.76,680.1 1710.74,675.88 1712.72,669.86 1714.7,681.77 1716.68,679.33 1718.67,680.28 1720.65,668.3 1722.63,665.59 1724.61,667.6 1726.59,673.01 1728.58,660.23 1730.56,662.53 1732.54,663.19 1734.52,666.41 1736.5,663.25 1738.48,668.29 1740.47,663.37 1742.45,662.56 1744.43,663.07 1746.41,693.02 1748.39,661.74 1750.38,658.12 1752.36,632.36 1754.34,646.75 1756.32,648.12 1758.3,645.27 1760.28,643.71 1762.27,643.3 1764.25,631.21 1766.23,626.37 1768.21,628.37 1770.19,626.92 1772.18,634.14 1774.16,628 1776.14,646.67 1778.12,620.37 1780.1,624.99 1782.08,624.6 1784.07,617.87 1786.05,610.47 1788.03,611.47 1790.01,599.36 1791.99,606.79 1793.98,615.83 1795.96,607.04 1797.94,604.44 1798.82,599.36 1800.47,940.26 1802.45,952.44 1804.43,947.8 1806.42,944.45 1808.4,946.33 1810.38,946.3 1812.36,940.05 1814.34,945.8 1816.33,949.1 1818.31,939.91 1820.29,947.05 1822.27,928.78 1824.25,915.41 1826.23,927.71 1828.22,927.92 1830.2,914.81 1832.18,922.98 1834.16,928.75 1836.14,916.52 1838.13,912.84 1840.11,915.92 1842.09,906.41 1844.07,907.16 1846.05,909.24 1848.03,910.62 1850.02,895.17 1852,899.26 1853.98,895.52 1855.96,894.59 1857.94,880.97 1859.93,886.32 1861.91,888.44 1863.89,877.45 1865.87,886.89 1867.85,898.44 1869.83,882.22 1871.82,887.2 1873.8,876.67 1875.78,877.82 1877.76,871.48 1879.74,871.07 1881.72,871.91 1883.71,886.09 1885.69,885.72 1887.67,884.49 1889.65,875.7 1891.63,877.99 1893.62,870.72 1895.6,878.74 1896.92,892.65" fill="none" stroke="#ffaa00" stroke-width="3.1" stroke-linejoin="round"/><polyline points="1502.1,746.8 1504.08,736.64 1506.06,732.5 1508.05,734.81 1510.03,728.82 1512.01,718.71 1513.99,730.81 1515.97,735.48 1517.95,740.29 1519.94,736.06 1521.92,729.54 1523.9,736.07 1525.88,727.8 1527.86,739.28 1529.85,787.43 1531.83,757.66 1533.81,761.79 1535.79,754.67 1537.77,748.98 1539.75,760.49 1541.74,773.47 1543.72,771.84 1545.7,778.03 1547.68,778.22 1549.66,794.07 1551.64,796.28 1553.63,800.67 1555.61,805.93 1557.59,808.6 1559.57,817.74 1561.55,820.66 1563.54,823.48 1565.52,817.42 1567.5,834.43 1569.48,846 1571.46,849.95 1573.44,851.08 1575.43,855.67 1577.41,867.31 1579.39,869.28 1581.37,884.29 1583.35,892.11 1585.34,889.12 1587.32,901.3 1589.3,907.6 1591.28,913.94 1593.26,927.58 1595.24,932.09 1597.23,935.62 1599.21,940.18 1600.64,947.33 1601.74,608.51 1603.72,614.54 1605.7,617.47 1607.69,620.82 1609.67,617.14 1611.65,626.82 1613.63,633.09 1615.61,636.32 1617.59,636.32 1619.58,643.97 1621.56,657.06 1623.54,646.57 1625.52,666.46 1627.5,673.45 1629.49,689.62 1631.47,678.64 1633.45,699.66 1635.43,719.93 1637.41,715.82 1639.39,725.22 1641.38,730.63 1643.36,743.87 1645.34,735.62 1647.32,752.77 1649.3,754.78 1651.29,763.74 1653.27,755.29 1655.25,763.63 1657.23,749.45 1659.21,772.97 1661.19,784.72 1663.18,791.26 1665.16,787.11 1667.14,797.95 1669.12,793.6 1671.1,798.06 1673.09,799.16 1675.07,811.95 1677.05,796.9 1679.03,811.04 1681.01,811.73 1682.99,812.25 1684.98,808.15 1686.96,815.08 1688.94,818.84 1690.92,822.36 1692.9,821.76 1694.89,825.85 1696.87,828.5 1698.85,825.42 1700.83,829.17 1702.81,828.46 1704.79,827.87 1706.78,831.89 1708.76,830.85 1710.74,832.41 1712.72,829.45 1714.7,829.12 1716.68,825.73 1718.67,819.55 1720.65,821.35 1722.63,831.43 1724.61,823.48 1726.59,808.19 1728.58,806.82 1730.56,803.96 1732.54,811.06 1734.52,798.94 1736.5,796.17 1738.48,795.32 1740.47,778.75 1742.45,785.07 1744.43,780.1 1746.41,780.29 1748.39,773.18 1750.38,769.68 1752.36,752.51 1754.34,746.05 1756.32,738.01 1758.3,733.62 1760.28,738.65 1762.27,730.54 1764.25,713.42 1766.23,712.44 1768.21,710.31 1770.19,690.75 1772.18,693.72 1774.16,690.7 1776.14,671.3 1778.12,671.03 1780.1,661.97 1782.08,659.54 1784.07,651.42 1786.05,626.29 1788.03,637.3 1790.01,632.39 1791.99,618.96 1793.98,604.97 1795.96,619.43 1797.94,607.54 1799.92,609.11 1801.9,601.75 1803.22,947.6 1805.21,938.31 1807.19,933.35 1809.17,924.92 1811.15,915.53 1813.13,910.66 1815.11,902.41 1817.1,897.5 1819.08,880.1 1821.06,878.26 1823.04,857.92 1825.02,857.77 1827.01,847.93 1828.99,848.99 1830.97,836.06 1832.95,830.03 1834.93,825.92 1836.91,824.54 1838.9,813.09 1840.88,805.97 1842.86,801.89 1844.84,801.36 1846.82,790.47 1848.8,800.19 1850.79,794.02 1852.77,785.23 1854.75,773.09 1856.73,776.76 1858.71,772.36 1860.7,768.59 1862.68,763.14 1864.66,753.86 1866.64,758.56 1868.62,746.4 1870.6,746.74 1872.59,739.89 1874.57,739.87 1876.55,734.12 1878.53,741.32 1880.51,731.33 1882.5,727.62 1884.48,737.7 1886.46,727.98 1888.44,743.35 1890.42,743.19 1892.4,755.27 1894.39,744.83 1896.37,722.75 1896.92,732.53" fill="none" stroke="#00c41a" stroke-width="3.1" stroke-linejoin="round"/><polyline points="1502.1,655.41 1504.08,648.71 1506.06,637.71 1508.05,658.24 1510.03,658.95 1512.01,669.37 1513.99,673.68 1515.97,684.21 1517.95,679.83 1519.94,686.56 1521.92,694.33 1523.9,690.55 1525.88,692.8 1527.86,681.57 1529.85,685.45 1531.83,685.89 1533.81,697.21 1535.79,704.82 1537.77,707.46 1539.75,714.87 1541.74,729 1543.72,727.61 1545.7,728.45 1547.68,735.8 1549.66,736.74 1551.64,748 1553.63,751.63 1555.61,761.24 1557.59,761.6 1559.57,765.47 1561.55,772.57 1563.54,775.79 1565.52,788.42 1567.5,797.58 1569.48,803.83 1571.46,807.26 1573.44,822.6 1575.43,820.22 1577.41,833.2 1579.39,850.08 1581.37,850.28 1583.35,861.75 1585.34,875.07 1587.32,887 1589.3,905.35 1591.28,899.23 1593.26,913.35 1595.24,927.18 1597.23,935.35 1599.21,942.84 1600.09,945.41 1601.19,609.68 1603.17,613.66 1605.15,623.62 1607.14,638.7 1609.12,643.26 1611.1,644.79 1613.08,662.46 1615.06,673.48 1617.04,673.23 1619.03,685.17 1621.01,680.01 1622.99,696.52 1624.97,701.75 1626.95,709.38 1628.94,715.55 1630.92,724.66 1632.9,733.38 1634.88,748.87 1636.86,746.92 1638.84,759.77 1640.83,763.28 1642.81,777.42 1644.79,779.51 1646.77,788.01 1648.75,789.72 1650.73,804.35 1652.72,810.01 1654.7,812.05 1656.68,815.88 1658.66,822.19 1660.64,832 1662.63,842.02 1664.61,840.34 1666.59,843.48 1668.57,867 1670.55,854.11 1672.53,859.31 1674.52,873.23 1676.5,873.89 1678.48,868.25 1680.46,879.13 1682.44,883.09 1684.43,887.55 1686.41,880.15 1688.39,889.39 1690.37,890.36 1692.35,894.47 1694.33,883.95 1696.32,899.35 1698.3,902.86 1700.28,909.12 1702.26,910.03 1704.24,915.31 1706.23,909.14 1708.21,908.79 1710.19,907.38 1712.17,905.8 1714.15,899.7 1716.13,886.46 1718.12,886.84 1720.1,887.63 1722.08,873.04 1724.06,867.79 1726.04,861.16 1728.03,854.1 1730.01,857.34 1731.99,850.2 1733.97,845.76 1735.95,836.64 1737.93,839.69 1739.92,839.59 1741.9,832.29 1743.88,832.89 1745.86,819.93 1747.84,827.45 1749.82,818.91 1751.81,807.19 1753.79,808.3 1755.77,794.2 1757.75,791.36 1759.73,782.28 1761.72,776 1763.7,768.99 1765.68,769.24 1767.66,748.2 1769.64,756.95 1771.62,737.67 1773.61,730.22 1775.59,719.92 1777.57,714.1 1779.55,703.01 1781.53,696.92 1783.52,690.47 1785.5,676.89 1787.48,673.47 1789.46,663.84 1791.44,656.36 1793.42,645.1 1795.41,631.88 1797.39,623.34 1799.37,617.78 1800.47,601.16 1801.57,947.52 1803.55,935.02 1805.54,926.07 1807.52,917.8 1809.5,921.28 1811.48,899.97 1813.46,891.78 1815.44,884.4 1817.43,875.69 1819.41,855.5 1821.39,851.56 1823.37,844.74 1825.35,830.18 1827.34,829.48 1829.32,817.24 1831.3,812.2 1833.28,802.15 1835.26,797.49 1837.24,789.04 1839.23,774.1 1841.21,759.91 1843.19,762.78 1845.17,757.1 1847.15,754.57 1849.14,748.6 1851.12,741.6 1853.1,727.24 1855.08,728.6 1857.06,719.91 1859.04,708.17 1861.03,708.8 1863.01,695.6 1864.99,692.34 1866.97,684.75 1868.95,680.33 1870.94,678.43 1872.92,670.23 1874.9,672.98 1876.88,662.34 1878.86,665.52 1880.84,663.55 1882.83,654.07 1884.81,643.82 1886.79,624.9 1888.77,639.7 1890.75,663.46 1892.73,655.57 1894.72,644.61 1896.7,660.43" fill="none" stroke="#00aeff" stroke-width="3.1" stroke-linejoin="round"/><polyline points="1502.1,936.39 1504.08,910.49 1506.06,926.93 1508.05,932.29 1510.03,929.5 1512.01,944.78 1513.99,940.59 1515.97,949.93 1517.95,952.44 1519.94,950.35 1521.92,944.55 1523.9,943.34 1525.88,947.32 1527.86,946.59 1528.52,950.54 1529.62,602.89 1531.61,607.45 1533.59,607.84 1535.57,619.29 1537.55,619.02 1539.53,622.73 1541.52,630.22 1543.5,640.32 1545.48,656.01 1547.46,664.42 1549.44,660.34 1551.42,683.59 1553.41,684 1555.39,695.98 1557.37,702.47 1559.35,712.8 1561.33,725.24 1563.32,736.09 1565.3,737.31 1567.28,748.52 1569.26,760.39 1571.24,775.75 1573.22,777.1 1575.21,794.15 1577.19,807.38 1579.17,818.16 1581.15,828.54 1583.13,826.87 1585.12,835.6 1587.1,852.6 1589.08,873.4 1591.06,896.36 1593.04,910.07 1595.02,919.58 1597.01,922.65 1598.99,937.04 1600.64,948.67 1601.74,601.24 1603.72,613.76 1605.7,624.63 1607.69,624.57 1609.67,639.84 1611.65,643.65 1613.63,658.72 1615.61,668.87 1617.59,671.66 1619.58,683.02 1621.56,689.1 1623.54,708.61 1625.52,713.39 1627.5,724.69 1629.49,727.95 1631.47,754.67 1633.45,768.12 1635.43,775.6 1637.41,789.89 1639.39,804.12 1641.38,825.57 1643.36,839.18 1645.34,844.16 1647.32,845.24 1649.3,852.08 1651.29,845.74 1653.27,881.23 1655.25,887.12 1657.23,888.97 1659.21,907.53 1661.19,910.23 1663.18,919.8 1665.16,937.75 1667.14,934.77 1669.12,937.43 1671.1,934.6 1673.09,939.04 1675.07,938.91 1676.5,948.39 1677.71,603.69 1679.69,611.51 1681.67,607.34 1683.65,607.54 1685.64,608.64 1687.62,604.79 1689.6,611.71 1691.58,610.33 1693.56,611.39 1695.55,630.15 1697.53,635.81 1699.51,628.23 1701.49,623.51 1703.47,613.4 1705.45,620.04 1707.44,611.6 1709.42,599.36 1711.4,608.47 1713.38,616.69 1715.36,624.54 1717.35,615.56 1719.33,616.27 1721.31,620.09 1723.29,610.42 1725.27,606.76 1727.25,612.77 1729.24,619.86 1730.01,630.78 1731.11,935.97 1733.09,926.87 1735.07,937.26 1737.05,931.16 1739.04,929.4 1741.02,914.97 1743,911.15 1744.98,900.89 1746.96,900.56 1748.94,884.9 1750.93,876.9 1752.91,870.04 1754.89,854.61 1756.87,847.14 1758.85,838.69 1760.84,833.19 1762.82,813.95 1764.8,807.44 1766.78,787.93 1768.76,768.68 1770.74,765.7 1772.73,747.42 1774.71,736.73 1776.69,724.11 1778.67,705.92 1780.65,696.09 1782.63,686.24 1784.62,679.81 1786.6,672.55 1788.58,660.39 1790.56,617.94 1792.54,640.36 1794.53,630.2 1796.51,621.45 1798.49,618.87 1800.47,603.89 1801.57,935.07 1803.55,929.11 1805.54,922.39 1807.52,919.33 1809.5,914.19 1811.48,903.19 1813.46,885.79 1815.44,887.29 1817.43,879.61 1819.41,857.51 1821.39,853.23 1823.37,849.73 1825.35,827.89 1827.34,798.24 1829.32,792.09 1831.3,782.13 1833.28,775.06 1835.26,762.82 1837.24,757.52 1839.23,747.89 1841.21,731.25 1843.19,729.26 1845.17,717.52 1847.15,703.12 1849.14,696.39 1851.12,684.82 1853.1,681.35 1855.08,670.78 1857.06,664.43 1859.04,649.67 1861.03,632.61 1863.01,624.6 1864.99,620.77 1866.97,620.89 1868.95,614.5 1870.94,608.78 1872.04,944.91 1874.02,942.3 1876,930.55 1877.98,938.04 1879.96,940.91 1881.94,947.77 1883.93,946.82 1885.91,935.1 1887.89,944.69 1889.87,937.13 1891.85,929.84 1893.84,930.02 1895.82,916.68 1896.92,919.85" fill="none" stroke="#0000ff" stroke-width="3.1" stroke-linejoin="round"/><path d="M1502.1 974v5M1513.11 974v5M1524.12 974v5M1535.13 974v5M1546.14 974v5M1557.15 974v5M1568.16 974v5M1579.17 974v5M1590.18 974v5M1601.19 974v5M1612.2 974v5M1623.21 974v5M1634.22 974v5M1645.23 974v5M1656.24 974v5M1667.25 974v5M1678.26 974v5M1689.27 974v5M1700.28 974v5M1711.29 974v5M1722.3 974v5M1733.31 974v5M1744.32 974v5M1755.33 974v5M1766.34 974v5M1777.35 974v5M1788.36 974v5M1799.37 974v5M1810.38 974v5M1821.39 974v5M1832.4 974v5M1843.41 974v5M1854.42 974v5M1865.43 974v5M1876.44 974v5M1887.45 974v5M1898.46 974v5" stroke="#5a5a5a" stroke-width="2" fill="none"/><path d="M1557.15 974v7.5M1667.25 974v7.5M1777.35 974v7.5M1887.45 974v7.5" stroke="#5a5a5a" stroke-width="2" fill="none"/><path d="M1502.1 974v10.5M1612.2 974v10.5M1722.3 974v10.5M1832.4 974v10.5" stroke="#5a5a5a" stroke-width="2" fill="none"/><path d="M1502.1 577.4v-5M1513.11 577.4v-5M1524.12 577.4v-5M1535.13 577.4v-5M1546.14 577.4v-5M1557.15 577.4v-5M1568.16 577.4v-5M1579.17 577.4v-5M1590.18 577.4v-5M1601.19 577.4v-5M1612.2 577.4v-5M1623.21 577.4v-5M1634.22 577.4v-5M1645.23 577.4v-5M1656.24 577.4v-5M1667.25 577.4v-5M1678.26 577.4v-5M1689.27 577.4v-5M1700.28 577.4v-5M1711.29 577.4v-5M1722.3 577.4v-5M1733.31 577.4v-5M1744.32 577.4v-5M1755.33 577.4v-5M1766.34 577.4v-5M1777.35 577.4v-5M1788.36 577.4v-5M1799.37 577.4v-5M1810.38 577.4v-5M1821.39 577.4v-5M1832.4 577.4v-5M1843.41 577.4v-5M1854.42 577.4v-5M1865.43 577.4v-5M1876.44 577.4v-5M1887.45 577.4v-5M1898.46 577.4v-5" stroke="#5a5a5a" stroke-width="2" fill="none"/><path d="M1557.15 577.4v-7.5M1667.25 577.4v-7.5M1777.35 577.4v-7.5M1887.45 577.4v-7.5" stroke="#5a5a5a" stroke-width="2" fill="none"/><path d="M1502.1 577.4v-10.5M1612.2 577.4v-10.5M1722.3 577.4v-10.5M1832.4 577.4v-10.5" stroke="#5a5a5a" stroke-width="2" fill="none"/><path d="M1499.5 971.4h-5M1499.5 951.85h-5M1499.5 932.3h-5M1499.5 912.75h-5M1499.5 893.2h-5M1499.5 873.65h-5M1499.5 854.1h-5M1499.5 834.55h-5M1499.5 815h-5M1499.5 795.45h-5M1499.5 775.9h-5M1499.5 756.35h-5M1499.5 736.8h-5M1499.5 717.25h-5M1499.5 697.7h-5M1499.5 678.15h-5M1499.5 658.6h-5M1499.5 639.05h-5M1499.5 619.5h-5M1499.5 599.95h-5M1499.5 580.4h-5" stroke="#5a5a5a" stroke-width="2" fill="none"/><path d="M1499.5 971.4h-10.5M1499.5 873.65h-10.5M1499.5 775.9h-10.5M1499.5 678.15h-10.5M1499.5 580.4h-10.5" stroke="#5a5a5a" stroke-width="2" fill="none"/><path d="M1900.6 971.4h5M1900.6 951.85h5M1900.6 932.3h5M1900.6 912.75h5M1900.6 893.2h5M1900.6 873.65h5M1900.6 854.1h5M1900.6 834.55h5M1900.6 815h5M1900.6 795.45h5M1900.6 775.9h5M1900.6 756.35h5M1900.6 736.8h5M1900.6 717.25h5M1900.6 697.7h5M1900.6 678.15h5M1900.6 658.6h5M1900.6 639.05h5M1900.6 619.5h5M1900.6 599.95h5M1900.6 580.4h5" stroke="#5a5a5a" stroke-width="2" fill="none"/><path d="M1900.6 971.4h10.5M1900.6 873.65h10.5M1900.6 775.9h10.5M1900.6 678.15h10.5M1900.6 580.4h10.5" stroke="#5a5a5a" stroke-width="2" fill="none"/><rect x="1499.5" y="577.4" width="401.1" height="396.6" fill="none" stroke="#6a6a6a" stroke-width="2"/><rect x="1899" y="581.2" width="101" height="30" fill="#fff"/><rect x="1901.8" y="611" width="60" height="100" fill="#fff"/><line x1="1904" y1="619.4" x2="1939.4" y2="619.4" stroke="#ff0000" stroke-width="3"/><text transform="translate(1945.5 625.4)" font-family="Liberation Sans, sans-serif" font-size="16.5" fill="#222">0</text><line x1="1904" y1="638.8" x2="1939.4" y2="638.8" stroke="#ffaa00" stroke-width="3"/><text transform="translate(1945.5 644.8)" font-family="Liberation Sans, sans-serif" font-size="16.5" fill="#222">0.36</text><line x1="1904" y1="658.2" x2="1939.4" y2="658.2" stroke="#00c41a" stroke-width="3"/><text transform="translate(1945.5 664.2)" font-family="Liberation Sans, sans-serif" font-size="16.5" fill="#222">1.12</text><line x1="1904" y1="677.6" x2="1939.4" y2="677.6" stroke="#00aeff" stroke-width="3"/><text transform="translate(1945.5 683.6)" font-family="Liberation Sans, sans-serif" font-size="16.5" fill="#222">1.15</text><line x1="1904" y1="697.1" x2="1939.4" y2="697.1" stroke="#0000ff" stroke-width="3"/><text transform="translate(1945.5 703.1)" font-family="Liberation Sans, sans-serif" font-size="16.5" fill="#222">1.83</text><g transform="translate(1892.5 601.3)" fill="#222"><text x="0" y="0" font-family="Liberation Serif, serif" font-size="22" font-style="italic">B</text><text transform="translate(14.94 5) scale(1.18 1)" font-family="Liberation Serif, serif" font-size="15" font-weight="bold">1,RF</text><text transform="translate(58.31 0) scale(1.05 1)" font-family="Liberation Sans, sans-serif" font-size="22.3">(mT)</text></g><text transform="translate(1482.47 984.96) scale(1.01 1)" font-family="Liberation Sans, sans-serif" font-size="40.8" text-anchor="end">-100</text><text transform="translate(1482.47 887.21) scale(1.01 1)" font-family="Liberation Sans, sans-serif" font-size="40.8" text-anchor="end">-50</text><text transform="translate(1482.47 789.46) scale(1.01 1)" font-family="Liberation Sans, sans-serif" font-size="40.8" text-anchor="end">0</text><text transform="translate(1482.47 691.71) scale(1.01 1)" font-family="Liberation Sans, sans-serif" font-size="40.8" text-anchor="end">50</text><text transform="translate(1482.47 593.96) scale(1.01 1)" font-family="Liberation Sans, sans-serif" font-size="40.8" text-anchor="end">100</text><text transform="translate(1502.1 1025.9) scale(1.01 1)" font-family="Liberation Sans, sans-serif" font-size="40.8" text-anchor="middle">0</text><text transform="translate(1612.2 1025.9) scale(1.01 1)" font-family="Liberation Sans, sans-serif" font-size="40.8" text-anchor="middle">100</text><text transform="translate(1722.3 1025.9) scale(1.01 1)" font-family="Liberation Sans, sans-serif" font-size="40.8" text-anchor="middle">200</text><text transform="translate(1832.4 1025.9) scale(1.01 1)" font-family="Liberation Sans, sans-serif" font-size="40.8" text-anchor="middle">300</text><g transform="translate(1695.5 1063.3) scale(1.069 1)"><text transform="translate(-87.73 5.82) scale(1.25 1)" font-family="Liberation Serif, serif" font-size="40.35" font-style="italic">ϕ</text><text x="-60.62" y="11.64" font-family="Liberation Sans, sans-serif" font-size="27.16">RF</text><text x="-13.64" y="0" font-family="Liberation Sans, sans-serif" font-size="38.8">(deg.)</text></g><text transform="translate(1372.4 773.5) rotate(-90)" font-family="Liberation Sans, sans-serif" font-size="41.6" text-anchor="middle">Echo Phase (deg.)</text><text transform="translate(12.3 42) scale(0.83 1)" font-family="Liberation Sans, sans-serif" font-size="55" font-weight="bold">a</text><text transform="translate(672.2 42) scale(0.94 1)" font-family="Liberation Sans, sans-serif" font-size="55" font-weight="bold">b</text><text transform="translate(1299.8 41.5) scale(0.78 1)" font-family="Liberation Sans, sans-serif" font-size="55" font-weight="bold">c</text><text transform="translate(11.8 552.5) scale(0.97 1)" font-family="Liberation Sans, sans-serif" font-size="55" font-weight="bold">d</text><text transform="translate(672.5 550.5)" font-family="Liberation Sans, sans-serif" font-size="55" font-weight="bold">e</text><text transform="translate(1318.8 547) scale(1.09 1)" font-family="Liberation Sans, sans-serif" font-size="55" font-weight="bold">f</text></svg></body></html>
